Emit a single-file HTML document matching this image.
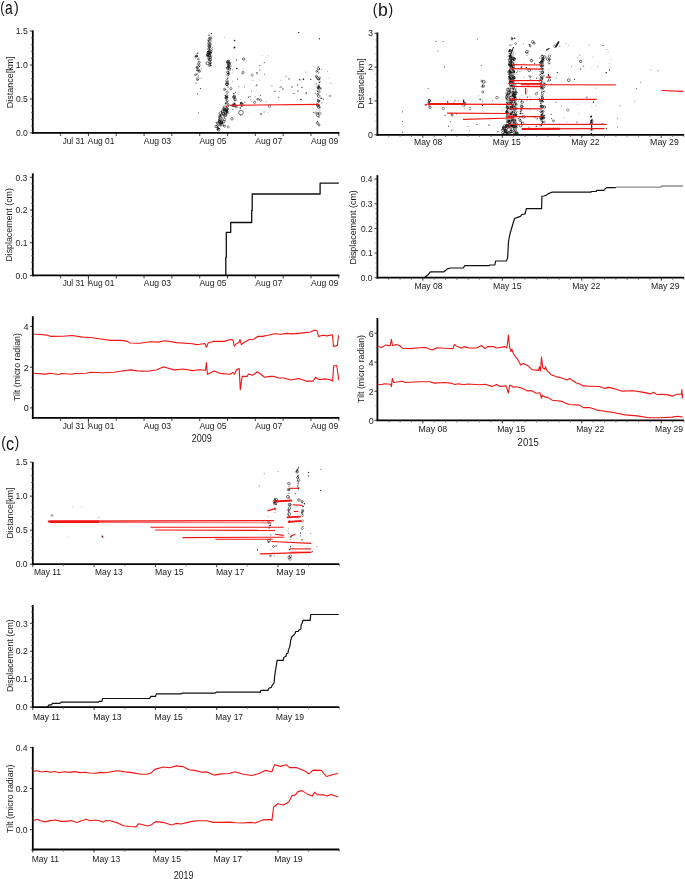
<!DOCTYPE html>
<html><head><meta charset="utf-8"><style>
html,body{margin:0;padding:0;background:#fff;}
svg{display:block;}
text{font-family:"Liberation Sans",sans-serif;}
</style></head><body>
<svg width="685" height="879" viewBox="0 0 685 879">
<rect width="685" height="879" fill="#fff"/>
<g style="opacity:0.999">
<text transform="translate(0.20,12.80) scale(0.7816,1)" font-size="16.416" fill="#111">(</text>
<text transform="translate(5.12,14.12) scale(0.7646,1)" font-size="18.066" fill="#111">a</text>
<text transform="translate(13.91,12.80) scale(0.8735,1)" font-size="16.416" fill="#111">)</text>
<line x1="32.80" y1="30.40" x2="32.80" y2="133.80" stroke="#000" stroke-width="1.8"/>
<line x1="31.90" y1="132.90" x2="339.40" y2="132.90" stroke="#000" stroke-width="1.8"/>
<line x1="29.90" y1="132.90" x2="32.80" y2="132.90" stroke="#222" stroke-width="0.9"/>
<line x1="29.90" y1="98.97" x2="32.80" y2="98.97" stroke="#222" stroke-width="0.9"/>
<line x1="29.90" y1="65.03" x2="32.80" y2="65.03" stroke="#222" stroke-width="0.9"/>
<line x1="29.90" y1="31.10" x2="32.80" y2="31.10" stroke="#222" stroke-width="0.9"/>
<line x1="30.90" y1="126.11" x2="32.80" y2="126.11" stroke="#555" stroke-width="0.7"/>
<line x1="30.90" y1="119.33" x2="32.80" y2="119.33" stroke="#555" stroke-width="0.7"/>
<line x1="30.90" y1="112.54" x2="32.80" y2="112.54" stroke="#555" stroke-width="0.7"/>
<line x1="30.90" y1="105.75" x2="32.80" y2="105.75" stroke="#555" stroke-width="0.7"/>
<line x1="30.90" y1="92.18" x2="32.80" y2="92.18" stroke="#555" stroke-width="0.7"/>
<line x1="30.90" y1="85.39" x2="32.80" y2="85.39" stroke="#555" stroke-width="0.7"/>
<line x1="30.90" y1="78.61" x2="32.80" y2="78.61" stroke="#555" stroke-width="0.7"/>
<line x1="30.90" y1="71.82" x2="32.80" y2="71.82" stroke="#555" stroke-width="0.7"/>
<line x1="30.90" y1="58.25" x2="32.80" y2="58.25" stroke="#555" stroke-width="0.7"/>
<line x1="30.90" y1="51.46" x2="32.80" y2="51.46" stroke="#555" stroke-width="0.7"/>
<line x1="30.90" y1="44.67" x2="32.80" y2="44.67" stroke="#555" stroke-width="0.7"/>
<line x1="30.90" y1="37.89" x2="32.80" y2="37.89" stroke="#555" stroke-width="0.7"/>
<line x1="60.62" y1="132.90" x2="60.62" y2="135.90" stroke="#222" stroke-width="0.9"/>
<line x1="88.44" y1="132.90" x2="88.44" y2="135.90" stroke="#222" stroke-width="0.9"/>
<line x1="116.25" y1="132.90" x2="116.25" y2="135.90" stroke="#222" stroke-width="0.9"/>
<line x1="144.07" y1="132.90" x2="144.07" y2="135.90" stroke="#222" stroke-width="0.9"/>
<line x1="171.89" y1="132.90" x2="171.89" y2="135.90" stroke="#222" stroke-width="0.9"/>
<line x1="199.71" y1="132.90" x2="199.71" y2="135.90" stroke="#222" stroke-width="0.9"/>
<line x1="227.53" y1="132.90" x2="227.53" y2="135.90" stroke="#222" stroke-width="0.9"/>
<line x1="255.35" y1="132.90" x2="255.35" y2="135.90" stroke="#222" stroke-width="0.9"/>
<line x1="283.16" y1="132.90" x2="283.16" y2="135.90" stroke="#222" stroke-width="0.9"/>
<line x1="310.98" y1="132.90" x2="310.98" y2="135.90" stroke="#222" stroke-width="0.9"/>
<line x1="338.80" y1="132.90" x2="338.80" y2="135.90" stroke="#222" stroke-width="0.9"/>
<text transform="translate(15.78,34.35) scale(0.9200,1)" font-size="9.448" fill="#1a1a1a">1.5</text>
<text transform="translate(15.76,68.28) scale(0.9200,1)" font-size="9.448" fill="#1a1a1a">1.0</text>
<text transform="translate(15.95,102.22) scale(0.9200,1)" font-size="9.312" fill="#1a1a1a">0.5</text>
<text transform="translate(15.93,136.15) scale(0.9200,1)" font-size="9.312" fill="#1a1a1a">0.0</text>
<text transform="translate(62.67,143.70) scale(0.8797,1)" font-size="9.302" fill="#1a1a1a">Jul 31</text>
<text transform="translate(87.78,143.70) scale(0.9033,1)" font-size="9.302" fill="#1a1a1a">Aug 01</text>
<text transform="translate(143.78,143.70) scale(0.9260,1)" font-size="9.302" fill="#1a1a1a">Aug 03</text>
<text transform="translate(199.38,143.70) scale(0.9185,1)" font-size="9.302" fill="#1a1a1a">Aug 05</text>
<text transform="translate(255.28,143.70) scale(0.9174,1)" font-size="9.302" fill="#1a1a1a">Aug 07</text>
<text transform="translate(311.08,143.70) scale(0.9200,1)" font-size="9.302" fill="#1a1a1a">Aug 09</text>
<text transform="translate(12.60,108.14) rotate(-90) scale(0.9501,1)" font-size="9.448" fill="#1a1a1a">Distance[km]</text>
<line x1="32.80" y1="173.30" x2="32.80" y2="276.30" stroke="#000" stroke-width="1.8"/>
<line x1="31.90" y1="275.40" x2="339.40" y2="275.40" stroke="#000" stroke-width="1.8"/>
<line x1="29.90" y1="275.40" x2="32.80" y2="275.40" stroke="#222" stroke-width="0.9"/>
<line x1="29.90" y1="242.70" x2="32.80" y2="242.70" stroke="#222" stroke-width="0.9"/>
<line x1="29.90" y1="210.00" x2="32.80" y2="210.00" stroke="#222" stroke-width="0.9"/>
<line x1="29.90" y1="177.30" x2="32.80" y2="177.30" stroke="#222" stroke-width="0.9"/>
<line x1="30.90" y1="268.86" x2="32.80" y2="268.86" stroke="#555" stroke-width="0.7"/>
<line x1="30.90" y1="262.32" x2="32.80" y2="262.32" stroke="#555" stroke-width="0.7"/>
<line x1="30.90" y1="255.78" x2="32.80" y2="255.78" stroke="#555" stroke-width="0.7"/>
<line x1="30.90" y1="249.24" x2="32.80" y2="249.24" stroke="#555" stroke-width="0.7"/>
<line x1="30.90" y1="236.16" x2="32.80" y2="236.16" stroke="#555" stroke-width="0.7"/>
<line x1="30.90" y1="229.62" x2="32.80" y2="229.62" stroke="#555" stroke-width="0.7"/>
<line x1="30.90" y1="223.08" x2="32.80" y2="223.08" stroke="#555" stroke-width="0.7"/>
<line x1="30.90" y1="216.54" x2="32.80" y2="216.54" stroke="#555" stroke-width="0.7"/>
<line x1="30.90" y1="203.46" x2="32.80" y2="203.46" stroke="#555" stroke-width="0.7"/>
<line x1="30.90" y1="196.92" x2="32.80" y2="196.92" stroke="#555" stroke-width="0.7"/>
<line x1="30.90" y1="190.38" x2="32.80" y2="190.38" stroke="#555" stroke-width="0.7"/>
<line x1="30.90" y1="183.84" x2="32.80" y2="183.84" stroke="#555" stroke-width="0.7"/>
<line x1="60.62" y1="275.40" x2="60.62" y2="278.40" stroke="#222" stroke-width="0.9"/>
<line x1="88.44" y1="275.40" x2="88.44" y2="278.40" stroke="#222" stroke-width="0.9"/>
<line x1="116.25" y1="275.40" x2="116.25" y2="278.40" stroke="#222" stroke-width="0.9"/>
<line x1="144.07" y1="275.40" x2="144.07" y2="278.40" stroke="#222" stroke-width="0.9"/>
<line x1="171.89" y1="275.40" x2="171.89" y2="278.40" stroke="#222" stroke-width="0.9"/>
<line x1="199.71" y1="275.40" x2="199.71" y2="278.40" stroke="#222" stroke-width="0.9"/>
<line x1="227.53" y1="275.40" x2="227.53" y2="278.40" stroke="#222" stroke-width="0.9"/>
<line x1="255.35" y1="275.40" x2="255.35" y2="278.40" stroke="#222" stroke-width="0.9"/>
<line x1="283.16" y1="275.40" x2="283.16" y2="278.40" stroke="#222" stroke-width="0.9"/>
<line x1="310.98" y1="275.40" x2="310.98" y2="278.40" stroke="#222" stroke-width="0.9"/>
<line x1="338.80" y1="275.40" x2="338.80" y2="278.40" stroke="#222" stroke-width="0.9"/>
<text transform="translate(15.47,180.55) scale(0.9200,1)" font-size="9.312" fill="#1a1a1a">0.3</text>
<text transform="translate(15.52,213.25) scale(0.9200,1)" font-size="9.312" fill="#1a1a1a">0.2</text>
<text transform="translate(15.51,245.95) scale(0.9200,1)" font-size="9.312" fill="#1a1a1a">0.1</text>
<text transform="translate(15.43,278.65) scale(0.9200,1)" font-size="9.312" fill="#1a1a1a">0.0</text>
<text transform="translate(62.67,286.40) scale(0.8530,1)" font-size="9.593" fill="#1a1a1a">Jul 31</text>
<text transform="translate(87.78,286.40) scale(0.8759,1)" font-size="9.593" fill="#1a1a1a">Aug 01</text>
<text transform="translate(143.78,286.40) scale(0.8979,1)" font-size="9.593" fill="#1a1a1a">Aug 03</text>
<text transform="translate(199.38,286.40) scale(0.8906,1)" font-size="9.593" fill="#1a1a1a">Aug 05</text>
<text transform="translate(255.28,286.40) scale(0.8896,1)" font-size="9.593" fill="#1a1a1a">Aug 07</text>
<text transform="translate(311.08,286.40) scale(0.8921,1)" font-size="9.593" fill="#1a1a1a">Aug 09</text>
<line x1="88.44" y1="275.40" x2="88.44" y2="283.80" stroke="#333" stroke-width="0.8"/>
<text transform="translate(12.40,261.62) rotate(-90) scale(0.9343,1)" font-size="9.448" fill="#1a1a1a">Displacement (cm)</text>
<polyline points="225.80,275.40 225.80,257.40 226.30,257.40 226.30,232.30 230.70,232.30 230.70,222.50 251.70,222.50 251.70,210.40 252.20,210.40 252.20,194.00 320.10,194.00 320.10,183.10 338.80,183.10" fill="none" stroke="#111" stroke-width="1.3" stroke-linejoin="round" />
<line x1="32.80" y1="316.20" x2="32.80" y2="418.80" stroke="#000" stroke-width="1.8"/>
<line x1="31.90" y1="417.90" x2="339.40" y2="417.90" stroke="#000" stroke-width="1.8"/>
<line x1="29.90" y1="407.90" x2="32.80" y2="407.90" stroke="#222" stroke-width="0.9"/>
<line x1="29.90" y1="367.15" x2="32.80" y2="367.15" stroke="#222" stroke-width="0.9"/>
<line x1="29.90" y1="326.40" x2="32.80" y2="326.40" stroke="#222" stroke-width="0.9"/>
<line x1="30.90" y1="387.52" x2="32.80" y2="387.52" stroke="#555" stroke-width="0.7"/>
<line x1="30.90" y1="346.77" x2="32.80" y2="346.77" stroke="#555" stroke-width="0.7"/>
<line x1="60.62" y1="417.90" x2="60.62" y2="420.90" stroke="#222" stroke-width="0.9"/>
<line x1="88.44" y1="417.90" x2="88.44" y2="420.90" stroke="#222" stroke-width="0.9"/>
<line x1="116.25" y1="417.90" x2="116.25" y2="420.90" stroke="#222" stroke-width="0.9"/>
<line x1="144.07" y1="417.90" x2="144.07" y2="420.90" stroke="#222" stroke-width="0.9"/>
<line x1="171.89" y1="417.90" x2="171.89" y2="420.90" stroke="#222" stroke-width="0.9"/>
<line x1="199.71" y1="417.90" x2="199.71" y2="420.90" stroke="#222" stroke-width="0.9"/>
<line x1="227.53" y1="417.90" x2="227.53" y2="420.90" stroke="#222" stroke-width="0.9"/>
<line x1="255.35" y1="417.90" x2="255.35" y2="420.90" stroke="#222" stroke-width="0.9"/>
<line x1="283.16" y1="417.90" x2="283.16" y2="420.90" stroke="#222" stroke-width="0.9"/>
<line x1="310.98" y1="417.90" x2="310.98" y2="420.90" stroke="#222" stroke-width="0.9"/>
<line x1="338.80" y1="417.90" x2="338.80" y2="420.90" stroke="#222" stroke-width="0.9"/>
<text transform="translate(23.61,329.80) scale(0.9200,1)" font-size="9.884" fill="#1a1a1a">4</text>
<text transform="translate(23.86,370.55) scale(0.9200,1)" font-size="9.742" fill="#1a1a1a">2</text>
<text transform="translate(23.77,411.30) scale(0.9200,1)" font-size="9.742" fill="#1a1a1a">0</text>
<text transform="translate(62.67,428.80) scale(0.8661,1)" font-size="9.448" fill="#1a1a1a">Jul 31</text>
<text transform="translate(87.78,428.80) scale(0.8894,1)" font-size="9.448" fill="#1a1a1a">Aug 01</text>
<text transform="translate(143.78,428.80) scale(0.9117,1)" font-size="9.448" fill="#1a1a1a">Aug 03</text>
<text transform="translate(199.38,428.80) scale(0.9043,1)" font-size="9.448" fill="#1a1a1a">Aug 05</text>
<text transform="translate(255.28,428.80) scale(0.9033,1)" font-size="9.448" fill="#1a1a1a">Aug 07</text>
<text transform="translate(311.08,428.80) scale(0.9058,1)" font-size="9.448" fill="#1a1a1a">Aug 09</text>
<line x1="88.44" y1="417.90" x2="88.44" y2="425.80" stroke="#333" stroke-width="0.8"/>
<text transform="translate(191.75,442.10) scale(0.8705,1)" font-size="10.315" fill="#1a1a1a">2009</text>
<text transform="translate(20.30,401.09) rotate(-90) scale(0.9147,1)" font-size="9.593" fill="#1a1a1a">Tilt (micro radian)</text>
<polyline points="33.00,334.20 37.90,334.20 47.10,335.10 51.00,336.40 62.90,336.20 72.00,335.50 82.60,337.10 90.40,337.50 101.00,339.00 110.20,340.40 121.60,340.40 127.50,341.40 130.10,343.00 140.00,343.30 150.50,341.70 158.40,342.10 165.00,340.80 176.80,342.60 192.50,343.70 196.50,344.60 200.00,344.30 204.90,343.50 206.40,347.20 208.20,343.00 213.10,341.40 224.10,341.40 230.70,339.50 232.90,339.70 234.30,346.10 236.70,343.50 238.90,342.50 240.00,339.50 241.40,344.60 243.80,342.50 249.30,339.50 253.70,339.20 258.00,336.20 262.40,336.40 267.90,335.30 274.40,333.70 281.00,334.20 286.40,333.40 293.00,333.90 302.90,332.90 310.50,332.00 314.90,330.10 316.90,330.70 318.70,336.60 322.60,335.30 327.00,335.90 332.40,334.80 333.50,346.50 337.40,345.40 338.50,335.30" fill="none" stroke="#f01414" stroke-width="1.1" stroke-linejoin="round" />
<polyline points="33.00,373.20 45.80,374.10 49.70,373.20 58.90,374.50 61.50,373.50 72.00,374.30 74.70,373.50 86.50,373.20 90.40,372.20 103.60,372.70 114.10,372.30 120.30,371.20 130.80,369.90 137.30,370.90 147.90,371.20 157.00,369.70 163.00,366.90 167.60,368.00 174.10,369.90 183.30,369.00 192.50,370.60 199.10,369.70 205.50,370.20 206.40,362.50 207.40,374.20 214.20,370.90 220.30,373.40 229.60,374.20 232.90,372.40 234.50,374.20 236.70,369.50 239.20,368.40 240.30,389.60 242.20,376.40 247.10,376.40 248.50,373.90 252.60,375.30 257.50,371.80 264.60,377.20 270.10,376.40 273.30,376.40 278.80,378.00 284.20,378.00 290.80,380.00 298.50,378.60 306.10,381.10 313.30,381.10 315.50,377.20 319.30,379.70 324.80,378.90 330.20,379.70 332.60,381.10 333.70,366.00 336.80,365.50 338.80,380.20" fill="none" stroke="#f01414" stroke-width="1.1" stroke-linejoin="round" />
<text transform="translate(372.83,15.25) scale(0.8133,1)" font-size="17.167" fill="#111">(</text>
<text transform="translate(378.06,16.41) scale(0.9509,1)" font-size="18.503" fill="#111">b</text>
<text transform="translate(388.52,15.25) scale(0.8133,1)" font-size="17.167" fill="#111">)</text>
<line x1="377.40" y1="32.50" x2="377.40" y2="135.70" stroke="#000" stroke-width="1.8"/>
<line x1="376.50" y1="134.80" x2="684.00" y2="134.80" stroke="#000" stroke-width="1.8"/>
<line x1="374.50" y1="134.80" x2="377.40" y2="134.80" stroke="#222" stroke-width="0.9"/>
<line x1="374.50" y1="100.97" x2="377.40" y2="100.97" stroke="#222" stroke-width="0.9"/>
<line x1="374.50" y1="67.13" x2="377.40" y2="67.13" stroke="#222" stroke-width="0.9"/>
<line x1="374.50" y1="33.30" x2="377.40" y2="33.30" stroke="#222" stroke-width="0.9"/>
<line x1="375.50" y1="128.03" x2="377.40" y2="128.03" stroke="#555" stroke-width="0.7"/>
<line x1="375.50" y1="121.27" x2="377.40" y2="121.27" stroke="#555" stroke-width="0.7"/>
<line x1="375.50" y1="114.50" x2="377.40" y2="114.50" stroke="#555" stroke-width="0.7"/>
<line x1="375.50" y1="107.73" x2="377.40" y2="107.73" stroke="#555" stroke-width="0.7"/>
<line x1="375.50" y1="94.20" x2="377.40" y2="94.20" stroke="#555" stroke-width="0.7"/>
<line x1="375.50" y1="87.43" x2="377.40" y2="87.43" stroke="#555" stroke-width="0.7"/>
<line x1="375.50" y1="80.67" x2="377.40" y2="80.67" stroke="#555" stroke-width="0.7"/>
<line x1="375.50" y1="73.90" x2="377.40" y2="73.90" stroke="#555" stroke-width="0.7"/>
<line x1="375.50" y1="60.37" x2="377.40" y2="60.37" stroke="#555" stroke-width="0.7"/>
<line x1="375.50" y1="53.60" x2="377.40" y2="53.60" stroke="#555" stroke-width="0.7"/>
<line x1="375.50" y1="46.83" x2="377.40" y2="46.83" stroke="#555" stroke-width="0.7"/>
<line x1="375.50" y1="40.07" x2="377.40" y2="40.07" stroke="#555" stroke-width="0.7"/>
<line x1="422.82" y1="134.80" x2="422.82" y2="137.80" stroke="#222" stroke-width="0.9"/>
<line x1="502.31" y1="134.80" x2="502.31" y2="137.80" stroke="#222" stroke-width="0.9"/>
<line x1="581.80" y1="134.80" x2="581.80" y2="137.80" stroke="#222" stroke-width="0.9"/>
<line x1="661.29" y1="134.80" x2="661.29" y2="137.80" stroke="#222" stroke-width="0.9"/>
<line x1="388.76" y1="134.80" x2="388.76" y2="137.00" stroke="#555" stroke-width="0.7"/>
<line x1="400.11" y1="134.80" x2="400.11" y2="137.00" stroke="#555" stroke-width="0.7"/>
<line x1="411.47" y1="134.80" x2="411.47" y2="137.00" stroke="#555" stroke-width="0.7"/>
<line x1="434.18" y1="134.80" x2="434.18" y2="137.00" stroke="#555" stroke-width="0.7"/>
<line x1="445.53" y1="134.80" x2="445.53" y2="137.00" stroke="#555" stroke-width="0.7"/>
<line x1="456.89" y1="134.80" x2="456.89" y2="137.00" stroke="#555" stroke-width="0.7"/>
<line x1="468.24" y1="134.80" x2="468.24" y2="137.00" stroke="#555" stroke-width="0.7"/>
<line x1="479.60" y1="134.80" x2="479.60" y2="137.00" stroke="#555" stroke-width="0.7"/>
<line x1="490.96" y1="134.80" x2="490.96" y2="137.00" stroke="#555" stroke-width="0.7"/>
<line x1="513.67" y1="134.80" x2="513.67" y2="137.00" stroke="#555" stroke-width="0.7"/>
<line x1="525.02" y1="134.80" x2="525.02" y2="137.00" stroke="#555" stroke-width="0.7"/>
<line x1="536.38" y1="134.80" x2="536.38" y2="137.00" stroke="#555" stroke-width="0.7"/>
<line x1="547.73" y1="134.80" x2="547.73" y2="137.00" stroke="#555" stroke-width="0.7"/>
<line x1="559.09" y1="134.80" x2="559.09" y2="137.00" stroke="#555" stroke-width="0.7"/>
<line x1="570.44" y1="134.80" x2="570.44" y2="137.00" stroke="#555" stroke-width="0.7"/>
<line x1="593.16" y1="134.80" x2="593.16" y2="137.00" stroke="#555" stroke-width="0.7"/>
<line x1="604.51" y1="134.80" x2="604.51" y2="137.00" stroke="#555" stroke-width="0.7"/>
<line x1="615.87" y1="134.80" x2="615.87" y2="137.00" stroke="#555" stroke-width="0.7"/>
<line x1="627.22" y1="134.80" x2="627.22" y2="137.00" stroke="#555" stroke-width="0.7"/>
<line x1="638.58" y1="134.80" x2="638.58" y2="137.00" stroke="#555" stroke-width="0.7"/>
<line x1="649.93" y1="134.80" x2="649.93" y2="137.00" stroke="#555" stroke-width="0.7"/>
<line x1="672.64" y1="134.80" x2="672.64" y2="137.00" stroke="#555" stroke-width="0.7"/>
<line x1="684.00" y1="134.80" x2="684.00" y2="137.00" stroke="#555" stroke-width="0.7"/>
<text transform="translate(368.01,36.40) scale(0.9200,1)" font-size="9.742" fill="#1a1a1a">3</text>
<text transform="translate(368.06,70.23) scale(0.9200,1)" font-size="9.742" fill="#1a1a1a">2</text>
<text transform="translate(367.99,104.07) scale(0.9200,1)" font-size="9.884" fill="#1a1a1a">1</text>
<text transform="translate(367.97,137.90) scale(0.9200,1)" font-size="9.742" fill="#1a1a1a">0</text>
<text transform="translate(413.99,145.40) scale(0.9418,1)" font-size="9.157" fill="#1a1a1a">May 08</text>
<text transform="translate(492.80,145.40) scale(0.9311,1)" font-size="9.157" fill="#1a1a1a">May 15</text>
<text transform="translate(571.29,145.40) scale(0.9439,1)" font-size="9.157" fill="#1a1a1a">May 22</text>
<text transform="translate(650.08,145.40) scale(0.9603,1)" font-size="9.157" fill="#1a1a1a">May 29</text>
<text transform="translate(364.10,108.82) rotate(-90) scale(0.8980,1)" font-size="9.738" fill="#1a1a1a">Distance[km]</text>
<line x1="377.40" y1="175.20" x2="377.40" y2="278.60" stroke="#000" stroke-width="1.8"/>
<line x1="376.50" y1="277.70" x2="684.00" y2="277.70" stroke="#000" stroke-width="1.8"/>
<line x1="374.50" y1="277.70" x2="377.40" y2="277.70" stroke="#222" stroke-width="0.9"/>
<line x1="374.50" y1="253.05" x2="377.40" y2="253.05" stroke="#222" stroke-width="0.9"/>
<line x1="374.50" y1="228.40" x2="377.40" y2="228.40" stroke="#222" stroke-width="0.9"/>
<line x1="374.50" y1="203.75" x2="377.40" y2="203.75" stroke="#222" stroke-width="0.9"/>
<line x1="374.50" y1="179.10" x2="377.40" y2="179.10" stroke="#222" stroke-width="0.9"/>
<line x1="375.50" y1="272.77" x2="377.40" y2="272.77" stroke="#555" stroke-width="0.7"/>
<line x1="375.50" y1="267.84" x2="377.40" y2="267.84" stroke="#555" stroke-width="0.7"/>
<line x1="375.50" y1="262.91" x2="377.40" y2="262.91" stroke="#555" stroke-width="0.7"/>
<line x1="375.50" y1="257.98" x2="377.40" y2="257.98" stroke="#555" stroke-width="0.7"/>
<line x1="375.50" y1="248.12" x2="377.40" y2="248.12" stroke="#555" stroke-width="0.7"/>
<line x1="375.50" y1="243.19" x2="377.40" y2="243.19" stroke="#555" stroke-width="0.7"/>
<line x1="375.50" y1="238.26" x2="377.40" y2="238.26" stroke="#555" stroke-width="0.7"/>
<line x1="375.50" y1="233.33" x2="377.40" y2="233.33" stroke="#555" stroke-width="0.7"/>
<line x1="375.50" y1="223.47" x2="377.40" y2="223.47" stroke="#555" stroke-width="0.7"/>
<line x1="375.50" y1="218.54" x2="377.40" y2="218.54" stroke="#555" stroke-width="0.7"/>
<line x1="375.50" y1="213.61" x2="377.40" y2="213.61" stroke="#555" stroke-width="0.7"/>
<line x1="375.50" y1="208.68" x2="377.40" y2="208.68" stroke="#555" stroke-width="0.7"/>
<line x1="375.50" y1="198.82" x2="377.40" y2="198.82" stroke="#555" stroke-width="0.7"/>
<line x1="375.50" y1="193.89" x2="377.40" y2="193.89" stroke="#555" stroke-width="0.7"/>
<line x1="375.50" y1="188.96" x2="377.40" y2="188.96" stroke="#555" stroke-width="0.7"/>
<line x1="375.50" y1="184.03" x2="377.40" y2="184.03" stroke="#555" stroke-width="0.7"/>
<line x1="422.82" y1="277.70" x2="422.82" y2="280.70" stroke="#222" stroke-width="0.9"/>
<line x1="502.31" y1="277.70" x2="502.31" y2="280.70" stroke="#222" stroke-width="0.9"/>
<line x1="581.80" y1="277.70" x2="581.80" y2="280.70" stroke="#222" stroke-width="0.9"/>
<line x1="661.29" y1="277.70" x2="661.29" y2="280.70" stroke="#222" stroke-width="0.9"/>
<line x1="388.76" y1="277.70" x2="388.76" y2="279.90" stroke="#555" stroke-width="0.7"/>
<line x1="400.11" y1="277.70" x2="400.11" y2="279.90" stroke="#555" stroke-width="0.7"/>
<line x1="411.47" y1="277.70" x2="411.47" y2="279.90" stroke="#555" stroke-width="0.7"/>
<line x1="434.18" y1="277.70" x2="434.18" y2="279.90" stroke="#555" stroke-width="0.7"/>
<line x1="445.53" y1="277.70" x2="445.53" y2="279.90" stroke="#555" stroke-width="0.7"/>
<line x1="456.89" y1="277.70" x2="456.89" y2="279.90" stroke="#555" stroke-width="0.7"/>
<line x1="468.24" y1="277.70" x2="468.24" y2="279.90" stroke="#555" stroke-width="0.7"/>
<line x1="479.60" y1="277.70" x2="479.60" y2="279.90" stroke="#555" stroke-width="0.7"/>
<line x1="490.96" y1="277.70" x2="490.96" y2="279.90" stroke="#555" stroke-width="0.7"/>
<line x1="513.67" y1="277.70" x2="513.67" y2="279.90" stroke="#555" stroke-width="0.7"/>
<line x1="525.02" y1="277.70" x2="525.02" y2="279.90" stroke="#555" stroke-width="0.7"/>
<line x1="536.38" y1="277.70" x2="536.38" y2="279.90" stroke="#555" stroke-width="0.7"/>
<line x1="547.73" y1="277.70" x2="547.73" y2="279.90" stroke="#555" stroke-width="0.7"/>
<line x1="559.09" y1="277.70" x2="559.09" y2="279.90" stroke="#555" stroke-width="0.7"/>
<line x1="570.44" y1="277.70" x2="570.44" y2="279.90" stroke="#555" stroke-width="0.7"/>
<line x1="593.16" y1="277.70" x2="593.16" y2="279.90" stroke="#555" stroke-width="0.7"/>
<line x1="604.51" y1="277.70" x2="604.51" y2="279.90" stroke="#555" stroke-width="0.7"/>
<line x1="615.87" y1="277.70" x2="615.87" y2="279.90" stroke="#555" stroke-width="0.7"/>
<line x1="627.22" y1="277.70" x2="627.22" y2="279.90" stroke="#555" stroke-width="0.7"/>
<line x1="638.58" y1="277.70" x2="638.58" y2="279.90" stroke="#555" stroke-width="0.7"/>
<line x1="649.93" y1="277.70" x2="649.93" y2="279.90" stroke="#555" stroke-width="0.7"/>
<line x1="672.64" y1="277.70" x2="672.64" y2="279.90" stroke="#555" stroke-width="0.7"/>
<line x1="684.00" y1="277.70" x2="684.00" y2="279.90" stroke="#555" stroke-width="0.7"/>
<text transform="translate(360.72,182.30) scale(0.9200,1)" font-size="9.169" fill="#1a1a1a">0.4</text>
<text transform="translate(360.85,206.95) scale(0.9200,1)" font-size="9.169" fill="#1a1a1a">0.3</text>
<text transform="translate(360.90,231.60) scale(0.9200,1)" font-size="9.169" fill="#1a1a1a">0.2</text>
<text transform="translate(360.89,256.25) scale(0.9200,1)" font-size="9.169" fill="#1a1a1a">0.1</text>
<text transform="translate(360.80,280.90) scale(0.9200,1)" font-size="9.169" fill="#1a1a1a">0.0</text>
<text transform="translate(414.39,289.40) scale(0.9128,1)" font-size="9.448" fill="#1a1a1a">May 08</text>
<text transform="translate(492.99,289.40) scale(0.9226,1)" font-size="9.448" fill="#1a1a1a">May 15</text>
<text transform="translate(572.19,289.40) scale(0.9115,1)" font-size="9.448" fill="#1a1a1a">May 22</text>
<text transform="translate(650.98,289.40) scale(0.9241,1)" font-size="9.448" fill="#1a1a1a">May 29</text>
<text transform="translate(356.30,264.53) rotate(-90) scale(0.9594,1)" font-size="9.302" fill="#1a1a1a">Displacement (cm)</text>
<polyline points="424.30,277.80 428.20,274.50 430.40,271.80 444.00,271.80 447.40,268.90 450.80,268.00 463.20,268.00 464.80,265.70 489.30,265.70 490.00,265.00 494.90,265.00 495.60,261.00 506.20,261.00 507.60,258.20 508.50,241.50 509.90,234.20 512.40,225.50 514.60,218.50 517.50,217.40 520.40,216.40 521.90,214.50 524.10,214.10 525.10,213.80 526.30,208.70 541.60,208.70 541.90,196.30 543.80,196.00 546.70,195.10 548.20,193.60 550.40,192.90 551.80,192.20 591.20,192.20 591.40,191.50 596.20,191.50 596.70,190.40 603.90,190.40 605.30,188.70 606.60,187.60 615.70,187.60 615.90,187.10" fill="none" stroke="#111" stroke-width="1.2" stroke-linejoin="round" />
<polyline points="615.90,187.10 661.40,187.10 661.70,186.00 682.90,186.00" fill="none" stroke="#8c8c8c" stroke-width="1.3" stroke-linejoin="round" />
<line x1="377.40" y1="318.00" x2="377.40" y2="421.20" stroke="#000" stroke-width="1.8"/>
<line x1="376.50" y1="420.30" x2="684.00" y2="420.30" stroke="#000" stroke-width="1.8"/>
<line x1="374.50" y1="420.30" x2="377.40" y2="420.30" stroke="#222" stroke-width="0.9"/>
<line x1="374.50" y1="391.27" x2="377.40" y2="391.27" stroke="#222" stroke-width="0.9"/>
<line x1="374.50" y1="362.23" x2="377.40" y2="362.23" stroke="#222" stroke-width="0.9"/>
<line x1="374.50" y1="333.20" x2="377.40" y2="333.20" stroke="#222" stroke-width="0.9"/>
<line x1="375.50" y1="405.78" x2="377.40" y2="405.78" stroke="#555" stroke-width="0.7"/>
<line x1="375.50" y1="376.75" x2="377.40" y2="376.75" stroke="#555" stroke-width="0.7"/>
<line x1="375.50" y1="347.72" x2="377.40" y2="347.72" stroke="#555" stroke-width="0.7"/>
<line x1="422.82" y1="420.30" x2="422.82" y2="423.30" stroke="#222" stroke-width="0.9"/>
<line x1="502.31" y1="420.30" x2="502.31" y2="423.30" stroke="#222" stroke-width="0.9"/>
<line x1="581.80" y1="420.30" x2="581.80" y2="423.30" stroke="#222" stroke-width="0.9"/>
<line x1="661.29" y1="420.30" x2="661.29" y2="423.30" stroke="#222" stroke-width="0.9"/>
<line x1="388.76" y1="420.30" x2="388.76" y2="422.50" stroke="#555" stroke-width="0.7"/>
<line x1="400.11" y1="420.30" x2="400.11" y2="422.50" stroke="#555" stroke-width="0.7"/>
<line x1="411.47" y1="420.30" x2="411.47" y2="422.50" stroke="#555" stroke-width="0.7"/>
<line x1="434.18" y1="420.30" x2="434.18" y2="422.50" stroke="#555" stroke-width="0.7"/>
<line x1="445.53" y1="420.30" x2="445.53" y2="422.50" stroke="#555" stroke-width="0.7"/>
<line x1="456.89" y1="420.30" x2="456.89" y2="422.50" stroke="#555" stroke-width="0.7"/>
<line x1="468.24" y1="420.30" x2="468.24" y2="422.50" stroke="#555" stroke-width="0.7"/>
<line x1="479.60" y1="420.30" x2="479.60" y2="422.50" stroke="#555" stroke-width="0.7"/>
<line x1="490.96" y1="420.30" x2="490.96" y2="422.50" stroke="#555" stroke-width="0.7"/>
<line x1="513.67" y1="420.30" x2="513.67" y2="422.50" stroke="#555" stroke-width="0.7"/>
<line x1="525.02" y1="420.30" x2="525.02" y2="422.50" stroke="#555" stroke-width="0.7"/>
<line x1="536.38" y1="420.30" x2="536.38" y2="422.50" stroke="#555" stroke-width="0.7"/>
<line x1="547.73" y1="420.30" x2="547.73" y2="422.50" stroke="#555" stroke-width="0.7"/>
<line x1="559.09" y1="420.30" x2="559.09" y2="422.50" stroke="#555" stroke-width="0.7"/>
<line x1="570.44" y1="420.30" x2="570.44" y2="422.50" stroke="#555" stroke-width="0.7"/>
<line x1="593.16" y1="420.30" x2="593.16" y2="422.50" stroke="#555" stroke-width="0.7"/>
<line x1="604.51" y1="420.30" x2="604.51" y2="422.50" stroke="#555" stroke-width="0.7"/>
<line x1="615.87" y1="420.30" x2="615.87" y2="422.50" stroke="#555" stroke-width="0.7"/>
<line x1="627.22" y1="420.30" x2="627.22" y2="422.50" stroke="#555" stroke-width="0.7"/>
<line x1="638.58" y1="420.30" x2="638.58" y2="422.50" stroke="#555" stroke-width="0.7"/>
<line x1="649.93" y1="420.30" x2="649.93" y2="422.50" stroke="#555" stroke-width="0.7"/>
<line x1="672.64" y1="420.30" x2="672.64" y2="422.50" stroke="#555" stroke-width="0.7"/>
<line x1="684.00" y1="420.30" x2="684.00" y2="422.50" stroke="#555" stroke-width="0.7"/>
<text transform="translate(368.81,336.60) scale(0.9200,1)" font-size="9.742" fill="#1a1a1a">6</text>
<text transform="translate(368.61,365.63) scale(0.9200,1)" font-size="9.884" fill="#1a1a1a">4</text>
<text transform="translate(368.86,394.67) scale(0.9200,1)" font-size="9.742" fill="#1a1a1a">2</text>
<text transform="translate(368.77,423.70) scale(0.9200,1)" font-size="9.742" fill="#1a1a1a">0</text>
<text transform="translate(418.58,432.40) scale(0.9556,1)" font-size="9.157" fill="#1a1a1a">May 08</text>
<text transform="translate(497.20,432.40) scale(0.9380,1)" font-size="9.157" fill="#1a1a1a">May 15</text>
<text transform="translate(576.20,432.40) scale(0.9369,1)" font-size="9.157" fill="#1a1a1a">May 22</text>
<text transform="translate(655.00,432.40) scale(0.9361,1)" font-size="9.157" fill="#1a1a1a">May 29</text>
<text transform="translate(517.62,445.60) scale(0.8981,1)" font-size="10.602" fill="#1a1a1a">2015</text>
<text transform="translate(363.80,402.89) rotate(-90) scale(0.9583,1)" font-size="9.157" fill="#1a1a1a">Tilt (micro radian)</text>
<polyline points="377.50,346.30 381.40,347.50 385.50,345.10 390.20,345.70 391.40,339.30 392.50,345.70 396.00,344.50 399.50,345.50 402.50,348.30 410.00,348.60 419.40,347.70 425.20,347.50 432.20,350.10 436.90,347.70 445.10,348.30 452.90,348.60 454.40,344.50 455.80,345.70 461.70,348.30 464.00,346.60 468.70,348.00 476.90,348.00 481.50,345.50 485.00,348.60 487.40,346.60 493.20,346.60 496.70,348.00 504.90,346.60 506.90,348.00 508.40,335.00 509.80,348.00 511.00,351.50 511.90,349.20 513.10,352.70 514.30,355.00 517.80,359.70 520.70,365.00 523.00,363.50 527.50,365.40 532.40,369.80 538.60,370.40 539.30,366.70 540.50,371.00 541.50,357.10 542.70,367.90 544.90,369.20 545.50,366.70 546.70,370.40 551.10,374.70 556.00,376.60 561.00,377.80 567.20,380.00 569.70,378.50 575.90,382.80 579.60,384.00 583.30,385.90 589.50,386.20 599.40,386.50 605.00,388.40 608.70,387.40 613.60,388.40 621.70,391.10 633.50,390.80 642.20,392.10 650.90,393.90 653.30,392.30 657.10,394.60 660.80,394.20 667.00,394.60 672.60,396.10 676.90,394.20 681.50,394.20 681.90,389.50 682.30,398.00 682.80,394.20" fill="none" stroke="#f01414" stroke-width="1.1" stroke-linejoin="round" />
<polyline points="377.50,384.30 381.40,384.80 384.30,383.70 390.80,384.30 391.40,386.60 392.30,378.40 393.70,382.50 401.90,381.30 405.40,382.50 419.40,381.70 429.90,381.70 434.60,383.10 445.10,382.50 450.90,383.10 454.70,384.50 458.20,383.70 464.00,384.80 467.50,384.00 479.20,384.80 485.00,384.30 492.10,386.40 496.70,384.50 500.20,386.40 506.10,385.70 508.40,393.00 509.60,385.40 511.90,386.00 513.10,387.20 515.40,386.80 520.10,387.50 524.80,389.50 527.50,390.90 531.20,390.60 536.20,393.30 539.90,392.70 541.50,398.30 542.10,395.20 544.90,397.10 547.30,397.10 552.30,400.20 557.30,400.80 562.20,401.40 567.20,403.90 569.70,404.50 579.60,405.10 583.30,407.60 589.50,407.60 597.00,410.10 603.20,411.00 607.40,411.60 612.40,412.20 624.80,414.90 637.20,415.90 648.40,417.80 660.80,417.80 672.00,417.10 678.20,416.20 682.50,417.10" fill="none" stroke="#f01414" stroke-width="1.1" stroke-linejoin="round" />
<text transform="translate(1.23,448.45) scale(0.8133,1)" font-size="17.167" fill="#111">(</text>
<text transform="translate(6.12,449.52) scale(0.9250,1)" font-size="17.518" fill="#111">c</text>
<text transform="translate(14.82,448.45) scale(0.7693,1)" font-size="17.167" fill="#111">)</text>
<line x1="32.80" y1="462.10" x2="32.80" y2="565.10" stroke="#000" stroke-width="1.8"/>
<line x1="31.90" y1="564.20" x2="339.30" y2="564.20" stroke="#000" stroke-width="1.8"/>
<line x1="29.90" y1="564.20" x2="32.80" y2="564.20" stroke="#222" stroke-width="0.9"/>
<line x1="29.90" y1="530.17" x2="32.80" y2="530.17" stroke="#222" stroke-width="0.9"/>
<line x1="29.90" y1="496.13" x2="32.80" y2="496.13" stroke="#222" stroke-width="0.9"/>
<line x1="29.90" y1="462.10" x2="32.80" y2="462.10" stroke="#222" stroke-width="0.9"/>
<line x1="30.90" y1="557.39" x2="32.80" y2="557.39" stroke="#555" stroke-width="0.7"/>
<line x1="30.90" y1="550.59" x2="32.80" y2="550.59" stroke="#555" stroke-width="0.7"/>
<line x1="30.90" y1="543.78" x2="32.80" y2="543.78" stroke="#555" stroke-width="0.7"/>
<line x1="30.90" y1="536.97" x2="32.80" y2="536.97" stroke="#555" stroke-width="0.7"/>
<line x1="30.90" y1="523.36" x2="32.80" y2="523.36" stroke="#555" stroke-width="0.7"/>
<line x1="30.90" y1="516.55" x2="32.80" y2="516.55" stroke="#555" stroke-width="0.7"/>
<line x1="30.90" y1="509.75" x2="32.80" y2="509.75" stroke="#555" stroke-width="0.7"/>
<line x1="30.90" y1="502.94" x2="32.80" y2="502.94" stroke="#555" stroke-width="0.7"/>
<line x1="30.90" y1="489.33" x2="32.80" y2="489.33" stroke="#555" stroke-width="0.7"/>
<line x1="30.90" y1="482.52" x2="32.80" y2="482.52" stroke="#555" stroke-width="0.7"/>
<line x1="30.90" y1="475.71" x2="32.80" y2="475.71" stroke="#555" stroke-width="0.7"/>
<line x1="30.90" y1="468.91" x2="32.80" y2="468.91" stroke="#555" stroke-width="0.7"/>
<line x1="32.80" y1="564.20" x2="32.80" y2="567.20" stroke="#222" stroke-width="0.9"/>
<line x1="94.10" y1="564.20" x2="94.10" y2="567.20" stroke="#222" stroke-width="0.9"/>
<line x1="155.40" y1="564.20" x2="155.40" y2="567.20" stroke="#222" stroke-width="0.9"/>
<line x1="216.70" y1="564.20" x2="216.70" y2="567.20" stroke="#222" stroke-width="0.9"/>
<line x1="278.00" y1="564.20" x2="278.00" y2="567.20" stroke="#222" stroke-width="0.9"/>
<line x1="63.45" y1="564.20" x2="63.45" y2="566.40" stroke="#555" stroke-width="0.7"/>
<line x1="124.75" y1="564.20" x2="124.75" y2="566.40" stroke="#555" stroke-width="0.7"/>
<line x1="186.05" y1="564.20" x2="186.05" y2="566.40" stroke="#555" stroke-width="0.7"/>
<line x1="247.35" y1="564.20" x2="247.35" y2="566.40" stroke="#555" stroke-width="0.7"/>
<line x1="308.65" y1="564.20" x2="308.65" y2="566.40" stroke="#555" stroke-width="0.7"/>
<line x1="339.30" y1="564.20" x2="339.30" y2="566.40" stroke="#555" stroke-width="0.7"/>
<text transform="translate(15.58,465.35) scale(0.9200,1)" font-size="9.448" fill="#1a1a1a">1.5</text>
<text transform="translate(15.56,499.38) scale(0.9200,1)" font-size="9.448" fill="#1a1a1a">1.0</text>
<text transform="translate(15.75,533.42) scale(0.9200,1)" font-size="9.312" fill="#1a1a1a">0.5</text>
<text transform="translate(15.73,567.45) scale(0.9200,1)" font-size="9.312" fill="#1a1a1a">0.0</text>
<text transform="translate(34.01,574.70) scale(0.9237,1)" font-size="9.157" fill="#1a1a1a">May 11</text>
<text transform="translate(95.01,574.70) scale(0.9213,1)" font-size="9.157" fill="#1a1a1a">May 13</text>
<text transform="translate(155.08,574.70) scale(0.9553,1)" font-size="9.157" fill="#1a1a1a">May 15</text>
<text transform="translate(215.89,574.70) scale(0.9474,1)" font-size="9.157" fill="#1a1a1a">May 17</text>
<text transform="translate(276.37,574.70) scale(0.9707,1)" font-size="9.157" fill="#1a1a1a">May 19</text>
<text transform="translate(12.70,538.52) rotate(-90) scale(0.9209,1)" font-size="9.593" fill="#1a1a1a">Distance[km]</text>
<line x1="32.80" y1="605.00" x2="32.80" y2="708.00" stroke="#000" stroke-width="1.8"/>
<line x1="31.90" y1="707.10" x2="339.30" y2="707.10" stroke="#000" stroke-width="1.8"/>
<line x1="29.90" y1="707.10" x2="32.80" y2="707.10" stroke="#222" stroke-width="0.9"/>
<line x1="29.90" y1="679.17" x2="32.80" y2="679.17" stroke="#222" stroke-width="0.9"/>
<line x1="29.90" y1="651.23" x2="32.80" y2="651.23" stroke="#222" stroke-width="0.9"/>
<line x1="29.90" y1="623.30" x2="32.80" y2="623.30" stroke="#222" stroke-width="0.9"/>
<line x1="30.90" y1="701.51" x2="32.80" y2="701.51" stroke="#555" stroke-width="0.7"/>
<line x1="30.90" y1="695.93" x2="32.80" y2="695.93" stroke="#555" stroke-width="0.7"/>
<line x1="30.90" y1="690.34" x2="32.80" y2="690.34" stroke="#555" stroke-width="0.7"/>
<line x1="30.90" y1="684.75" x2="32.80" y2="684.75" stroke="#555" stroke-width="0.7"/>
<line x1="30.90" y1="673.58" x2="32.80" y2="673.58" stroke="#555" stroke-width="0.7"/>
<line x1="30.90" y1="667.99" x2="32.80" y2="667.99" stroke="#555" stroke-width="0.7"/>
<line x1="30.90" y1="662.41" x2="32.80" y2="662.41" stroke="#555" stroke-width="0.7"/>
<line x1="30.90" y1="656.82" x2="32.80" y2="656.82" stroke="#555" stroke-width="0.7"/>
<line x1="30.90" y1="645.65" x2="32.80" y2="645.65" stroke="#555" stroke-width="0.7"/>
<line x1="30.90" y1="640.06" x2="32.80" y2="640.06" stroke="#555" stroke-width="0.7"/>
<line x1="30.90" y1="634.47" x2="32.80" y2="634.47" stroke="#555" stroke-width="0.7"/>
<line x1="30.90" y1="628.89" x2="32.80" y2="628.89" stroke="#555" stroke-width="0.7"/>
<line x1="30.90" y1="617.71" x2="32.80" y2="617.71" stroke="#555" stroke-width="0.7"/>
<line x1="30.90" y1="612.13" x2="32.80" y2="612.13" stroke="#555" stroke-width="0.7"/>
<line x1="30.90" y1="606.54" x2="32.80" y2="606.54" stroke="#555" stroke-width="0.7"/>
<line x1="32.80" y1="707.10" x2="32.80" y2="710.10" stroke="#222" stroke-width="0.9"/>
<line x1="94.10" y1="707.10" x2="94.10" y2="710.10" stroke="#222" stroke-width="0.9"/>
<line x1="155.40" y1="707.10" x2="155.40" y2="710.10" stroke="#222" stroke-width="0.9"/>
<line x1="216.70" y1="707.10" x2="216.70" y2="710.10" stroke="#222" stroke-width="0.9"/>
<line x1="278.00" y1="707.10" x2="278.00" y2="710.10" stroke="#222" stroke-width="0.9"/>
<line x1="63.45" y1="707.10" x2="63.45" y2="709.30" stroke="#555" stroke-width="0.7"/>
<line x1="124.75" y1="707.10" x2="124.75" y2="709.30" stroke="#555" stroke-width="0.7"/>
<line x1="186.05" y1="707.10" x2="186.05" y2="709.30" stroke="#555" stroke-width="0.7"/>
<line x1="247.35" y1="707.10" x2="247.35" y2="709.30" stroke="#555" stroke-width="0.7"/>
<line x1="308.65" y1="707.10" x2="308.65" y2="709.30" stroke="#555" stroke-width="0.7"/>
<line x1="339.30" y1="707.10" x2="339.30" y2="709.30" stroke="#555" stroke-width="0.7"/>
<text transform="translate(15.77,626.55) scale(0.9200,1)" font-size="9.312" fill="#1a1a1a">0.3</text>
<text transform="translate(15.82,654.48) scale(0.9200,1)" font-size="9.312" fill="#1a1a1a">0.2</text>
<text transform="translate(15.81,682.42) scale(0.9200,1)" font-size="9.312" fill="#1a1a1a">0.1</text>
<text transform="translate(15.73,710.35) scale(0.9200,1)" font-size="9.312" fill="#1a1a1a">0.0</text>
<text transform="translate(32.91,720.10) scale(0.9237,1)" font-size="9.157" fill="#1a1a1a">May 11</text>
<text transform="translate(93.19,720.10) scale(0.9456,1)" font-size="9.157" fill="#1a1a1a">May 13</text>
<text transform="translate(154.60,720.10) scale(0.9346,1)" font-size="9.157" fill="#1a1a1a">May 15</text>
<text transform="translate(215.30,720.10) scale(0.9265,1)" font-size="9.157" fill="#1a1a1a">May 17</text>
<text transform="translate(275.79,720.10) scale(0.9465,1)" font-size="9.157" fill="#1a1a1a">May 19</text>
<text transform="translate(12.80,692.12) rotate(-90) scale(0.8976,1)" font-size="9.738" fill="#1a1a1a">Displacement (cm)</text>
<polyline points="47.60,707.20 48.40,705.50 49.30,704.80 51.70,704.80 52.30,703.40 59.90,703.40 61.00,702.20 98.40,702.20 99.00,701.40 101.90,701.40 102.50,698.50 149.70,698.50 150.90,696.40 155.60,696.40 156.30,693.80 181.30,693.80 182.40,693.10 215.10,693.10 216.30,692.20 259.50,692.20 260.30,692.40 260.90,690.40 268.10,690.40 268.80,688.30 271.40,687.40 272.10,685.40 274.10,682.80 274.70,676.20 275.40,671.00 276.30,665.70 277.10,660.40 283.30,660.40 283.90,657.20 285.90,656.50 286.50,653.90 287.90,653.20 288.50,649.90 289.80,646.60 290.70,640.70 291.80,636.80 293.80,635.20 295.10,633.50 295.70,631.50 298.40,631.30 299.00,630.00 300.70,629.20 301.30,624.30 302.30,623.00 303.00,620.40 310.20,620.40 310.80,614.50 338.80,614.50" fill="none" stroke="#111" stroke-width="1.2" stroke-linejoin="round" />
<line x1="32.80" y1="746.80" x2="32.80" y2="850.40" stroke="#000" stroke-width="1.8"/>
<line x1="31.90" y1="849.50" x2="339.30" y2="849.50" stroke="#000" stroke-width="1.8"/>
<line x1="29.90" y1="829.60" x2="32.80" y2="829.60" stroke="#222" stroke-width="0.9"/>
<line x1="29.90" y1="788.60" x2="32.80" y2="788.60" stroke="#222" stroke-width="0.9"/>
<line x1="29.90" y1="747.60" x2="32.80" y2="747.60" stroke="#222" stroke-width="0.9"/>
<line x1="30.90" y1="850.10" x2="32.80" y2="850.10" stroke="#555" stroke-width="0.7"/>
<line x1="30.90" y1="809.10" x2="32.80" y2="809.10" stroke="#555" stroke-width="0.7"/>
<line x1="30.90" y1="768.10" x2="32.80" y2="768.10" stroke="#555" stroke-width="0.7"/>
<line x1="32.80" y1="849.50" x2="32.80" y2="852.50" stroke="#222" stroke-width="0.9"/>
<line x1="94.10" y1="849.50" x2="94.10" y2="852.50" stroke="#222" stroke-width="0.9"/>
<line x1="155.40" y1="849.50" x2="155.40" y2="852.50" stroke="#222" stroke-width="0.9"/>
<line x1="216.70" y1="849.50" x2="216.70" y2="852.50" stroke="#222" stroke-width="0.9"/>
<line x1="278.00" y1="849.50" x2="278.00" y2="852.50" stroke="#222" stroke-width="0.9"/>
<line x1="63.45" y1="849.50" x2="63.45" y2="851.70" stroke="#555" stroke-width="0.7"/>
<line x1="124.75" y1="849.50" x2="124.75" y2="851.70" stroke="#555" stroke-width="0.7"/>
<line x1="186.05" y1="849.50" x2="186.05" y2="851.70" stroke="#555" stroke-width="0.7"/>
<line x1="247.35" y1="849.50" x2="247.35" y2="851.70" stroke="#555" stroke-width="0.7"/>
<line x1="308.65" y1="849.50" x2="308.65" y2="851.70" stroke="#555" stroke-width="0.7"/>
<line x1="339.30" y1="849.50" x2="339.30" y2="851.70" stroke="#555" stroke-width="0.7"/>
<text transform="translate(15.64,750.85) scale(0.9200,1)" font-size="9.312" fill="#1a1a1a">0.4</text>
<text transform="translate(15.82,791.85) scale(0.9200,1)" font-size="9.312" fill="#1a1a1a">0.2</text>
<text transform="translate(15.73,832.85) scale(0.9200,1)" font-size="9.312" fill="#1a1a1a">0.0</text>
<text transform="translate(31.70,861.70) scale(0.9343,1)" font-size="9.157" fill="#1a1a1a">May 11</text>
<text transform="translate(92.30,861.70) scale(0.9352,1)" font-size="9.157" fill="#1a1a1a">May 13</text>
<text transform="translate(152.80,861.70) scale(0.9380,1)" font-size="9.157" fill="#1a1a1a">May 15</text>
<text transform="translate(213.59,861.70) scale(0.9474,1)" font-size="9.157" fill="#1a1a1a">May 17</text>
<text transform="translate(274.29,861.70) scale(0.9465,1)" font-size="9.157" fill="#1a1a1a">May 19</text>
<text transform="translate(173.65,878.50) scale(0.8541,1)" font-size="10.458" fill="#1a1a1a">2019</text>
<text transform="translate(12.70,832.89) rotate(-90) scale(0.9215,1)" font-size="9.593" fill="#1a1a1a">Tilt (micro radian)</text>
<polyline points="33.00,771.40 37.00,770.80 42.00,772.00 46.00,771.20 50.00,772.20 55.00,771.50 59.20,772.80 64.00,771.80 70.00,772.40 75.00,771.60 80.00,772.60 85.00,772.20 90.00,773.00 95.70,773.20 100.00,772.40 105.00,772.80 110.00,772.00 117.60,770.80 125.00,771.90 132.00,772.60 141.00,774.30 147.50,774.30 151.50,772.70 154.70,769.40 163.50,767.00 169.90,767.80 176.40,765.90 182.80,766.60 189.20,769.80 195.60,770.60 202.00,772.20 206.90,771.90 214.10,775.10 221.30,773.90 229.30,773.50 235.00,771.80 243.40,774.30 251.80,775.50 258.50,773.80 265.20,770.40 271.90,771.80 274.50,764.70 280.30,766.40 286.20,764.70 289.60,767.60 296.30,767.60 303.80,770.40 308.90,773.80 313.10,770.10 321.40,770.40 326.50,776.50 332.30,774.80 338.20,773.50" fill="none" stroke="#f01414" stroke-width="1.1" stroke-linejoin="round" />
<polyline points="33.00,820.70 37.30,819.20 40.00,820.50 44.60,821.90 50.00,820.60 55.50,820.00 61.00,821.40 66.50,821.40 71.00,820.60 76.70,822.40 81.00,821.00 86.20,819.20 90.00,820.80 95.70,820.00 100.00,821.00 103.00,822.20 106.00,820.60 110.30,820.70 114.00,821.80 117.60,822.90 123.40,825.80 130.00,826.50 136.20,826.90 138.60,823.70 143.00,824.80 147.50,826.00 151.50,824.80 155.50,821.60 163.50,822.40 171.50,825.10 176.00,823.40 181.20,824.00 190.80,821.60 197.20,820.80 206.90,820.80 213.30,822.40 221.30,822.40 230.00,822.10 236.00,822.80 243.40,823.00 250.00,822.40 255.20,823.00 262.70,819.90 270.30,819.60 271.90,820.40 273.60,807.00 277.80,803.70 283.70,805.00 288.70,802.00 292.10,795.60 295.40,794.90 298.00,791.60 302.10,790.60 307.20,793.90 312.20,796.10 314.70,792.20 317.20,794.80 324.00,794.90 327.30,796.10 330.70,794.40 338.20,797.00" fill="none" stroke="#f01414" stroke-width="1.1" stroke-linejoin="round" />
<circle cx="211.4" cy="49.7" r="1.02" fill="none" stroke="#111" stroke-width="0.7" stroke-opacity="0.63"/>
<circle cx="209.8" cy="54.1" r="1.14" fill="none" stroke="#111" stroke-width="0.7" stroke-opacity="0.62"/>
<circle cx="207.9" cy="54.5" r="1.39" fill="none" stroke="#111" stroke-width="0.7" stroke-opacity="0.71"/>
<circle cx="210.5" cy="52.7" r="1.0" fill="none" stroke="#111" stroke-width="0.7" stroke-opacity="0.56"/>
<circle cx="212.3" cy="47.2" r="0.45" fill="#000" fill-opacity="0.46"/>
<circle cx="209.7" cy="59.8" r="1.33" fill="none" stroke="#111" stroke-width="0.7" stroke-opacity="0.78"/>
<circle cx="209.6" cy="59.2" r="0.74" fill="#000" fill-opacity="0.27"/>
<circle cx="209.9" cy="63.3" r="0.52" fill="#000" fill-opacity="0.76"/>
<circle cx="210.1" cy="64.9" r="0.74" fill="#000" fill-opacity="0.61"/>
<circle cx="210.0" cy="53.5" r="1.23" fill="none" stroke="#111" stroke-width="0.7" stroke-opacity="0.58"/>
<circle cx="211.1" cy="65.4" r="0.58" fill="#000" fill-opacity="0.88"/>
<circle cx="210.9" cy="51.7" r="1.17" fill="none" stroke="#111" stroke-width="0.7" stroke-opacity="0.72"/>
<circle cx="210.0" cy="65.5" r="0.64" fill="#000" fill-opacity="0.58"/>
<circle cx="209.6" cy="65.4" r="1.12" fill="none" stroke="#111" stroke-width="0.7" stroke-opacity="0.76"/>
<circle cx="210.7" cy="38.1" r="1.16" fill="none" stroke="#111" stroke-width="0.7" stroke-opacity="0.87"/>
<circle cx="208.4" cy="40.7" r="0.78" fill="#000" fill-opacity="0.62"/>
<circle cx="210.4" cy="62.7" r="0.91" fill="none" stroke="#111" stroke-width="0.7" stroke-opacity="0.82"/>
<circle cx="209.5" cy="53.0" r="0.56" fill="#000" fill-opacity="0.73"/>
<circle cx="209.0" cy="43.2" r="1.34" fill="none" stroke="#111" stroke-width="0.7" stroke-opacity="0.68"/>
<circle cx="207.9" cy="46.0" r="0.73" fill="#000" fill-opacity="0.71"/>
<circle cx="208.1" cy="48.1" r="0.47" fill="#000" fill-opacity="0.85"/>
<circle cx="209.5" cy="38.2" r="1.07" fill="none" stroke="#111" stroke-width="0.7" stroke-opacity="0.66"/>
<circle cx="208.7" cy="58.7" r="1.01" fill="none" stroke="#111" stroke-width="0.7" stroke-opacity="0.92"/>
<circle cx="207.8" cy="56.1" r="1.16" fill="none" stroke="#111" stroke-width="0.7" stroke-opacity="0.63"/>
<circle cx="209.9" cy="49.5" r="0.7" fill="#000" fill-opacity="0.22"/>
<circle cx="209.6" cy="46.3" r="0.85" fill="none" stroke="#111" stroke-width="0.7" stroke-opacity="0.88"/>
<circle cx="209.3" cy="44.5" r="1.11" fill="none" stroke="#111" stroke-width="0.7" stroke-opacity="0.87"/>
<circle cx="209.4" cy="47.7" r="0.89" fill="none" stroke="#111" stroke-width="0.7" stroke-opacity="0.63"/>
<circle cx="207.7" cy="55.0" r="1.31" fill="none" stroke="#111" stroke-width="0.7" stroke-opacity="0.59"/>
<circle cx="208.1" cy="52.5" r="1.11" fill="none" stroke="#111" stroke-width="0.7" stroke-opacity="0.86"/>
<circle cx="208.1" cy="42.1" r="0.51" fill="#000" fill-opacity="0.51"/>
<circle cx="210.2" cy="56.2" r="0.68" fill="#000" fill-opacity="0.74"/>
<circle cx="208.8" cy="40.1" r="1.14" fill="none" stroke="#111" stroke-width="0.7" stroke-opacity="0.57"/>
<circle cx="209.9" cy="41.0" r="1.36" fill="none" stroke="#111" stroke-width="0.7" stroke-opacity="0.67"/>
<circle cx="210.5" cy="44.4" r="0.93" fill="none" stroke="#111" stroke-width="0.7" stroke-opacity="0.64"/>
<circle cx="210.2" cy="59.4" r="1.4" fill="none" stroke="#111" stroke-width="0.7" stroke-opacity="0.95"/>
<circle cx="210.6" cy="63.5" r="0.67" fill="#000" fill-opacity="0.87"/>
<circle cx="210.2" cy="61.8" r="0.72" fill="#000" fill-opacity="0.56"/>
<circle cx="209.8" cy="46.8" r="1.02" fill="none" stroke="#111" stroke-width="0.7" stroke-opacity="0.83"/>
<circle cx="208.1" cy="56.3" r="0.77" fill="#000" fill-opacity="0.52"/>
<circle cx="210.6" cy="56.9" r="1.21" fill="none" stroke="#111" stroke-width="0.7" stroke-opacity="0.72"/>
<circle cx="209.5" cy="49.5" r="0.51" fill="#000" fill-opacity="0.98"/>
<circle cx="207.7" cy="51.5" r="0.67" fill="#000" fill-opacity="0.86"/>
<circle cx="212.3" cy="47.8" r="0.52" fill="#000" fill-opacity="0.51"/>
<circle cx="209.9" cy="52.6" r="0.86" fill="none" stroke="#111" stroke-width="0.7" stroke-opacity="0.87"/>
<circle cx="209.3" cy="50.5" r="0.73" fill="#000" fill-opacity="0.66"/>
<circle cx="208.6" cy="49.0" r="0.93" fill="none" stroke="#111" stroke-width="0.7" stroke-opacity="0.71"/>
<circle cx="207.9" cy="55.2" r="0.73" fill="#000" fill-opacity="1.0"/>
<circle cx="207.5" cy="52.9" r="0.7" fill="#000" fill-opacity="0.25"/>
<circle cx="208.8" cy="51.4" r="0.54" fill="#000" fill-opacity="0.71"/>
<circle cx="210.7" cy="52.2" r="0.71" fill="#000" fill-opacity="0.81"/>
<circle cx="209.6" cy="55.6" r="1.21" fill="none" stroke="#111" stroke-width="0.7" stroke-opacity="0.92"/>
<circle cx="208.8" cy="52.5" r="0.82" fill="none" stroke="#111" stroke-width="0.7" stroke-opacity="0.65"/>
<circle cx="208.3" cy="54.1" r="0.88" fill="none" stroke="#111" stroke-width="0.7" stroke-opacity="0.86"/>
<circle cx="208.8" cy="51.1" r="0.73" fill="#000" fill-opacity="0.73"/>
<circle cx="211.5" cy="33.6" r="0.7" fill="#000" fill-opacity="0.9"/>
<circle cx="209.0" cy="35.3" r="0.7" fill="#000" fill-opacity="0.9"/>
<circle cx="224.3" cy="37.3" r="0.5" fill="#000" fill-opacity="0.4"/>
<circle cx="207.5" cy="63.2" r="1.5" fill="none" stroke="#111" stroke-width="0.8" stroke-opacity="0.8"/>
<circle cx="198.0" cy="52.9" r="0.53" fill="#000" fill-opacity="0.75"/>
<circle cx="195.6" cy="74.8" r="0.86" fill="none" stroke="#111" stroke-width="0.7" stroke-opacity="0.62"/>
<circle cx="197.4" cy="53.5" r="0.72" fill="#000" fill-opacity="0.53"/>
<circle cx="199.3" cy="70.8" r="0.68" fill="#000" fill-opacity="0.48"/>
<circle cx="197.5" cy="79.7" r="0.87" fill="none" stroke="#111" stroke-width="0.7" stroke-opacity="0.73"/>
<circle cx="198.1" cy="70.6" r="0.69" fill="#000" fill-opacity="0.57"/>
<circle cx="197.7" cy="59.3" r="0.47" fill="#000" fill-opacity="0.47"/>
<circle cx="198.4" cy="75.7" r="0.5" fill="#000" fill-opacity="0.69"/>
<circle cx="201.4" cy="68.8" r="0.63" fill="#000" fill-opacity="0.55"/>
<circle cx="198.0" cy="73.1" r="0.57" fill="#000" fill-opacity="0.3"/>
<circle cx="198.4" cy="59.1" r="0.9" fill="none" stroke="#111" stroke-width="0.7" stroke-opacity="0.74"/>
<circle cx="197.3" cy="67.8" r="0.89" fill="none" stroke="#111" stroke-width="0.7" stroke-opacity="0.91"/>
<circle cx="197.3" cy="56.1" r="0.78" fill="#000" fill-opacity="0.85"/>
<circle cx="197.0" cy="67.3" r="0.86" fill="none" stroke="#111" stroke-width="0.7" stroke-opacity="0.92"/>
<circle cx="199.2" cy="71.1" r="1.2" fill="none" stroke="#111" stroke-width="0.7" stroke-opacity="0.78"/>
<circle cx="195.0" cy="75.2" r="0.61" fill="#000" fill-opacity="0.63"/>
<circle cx="195.5" cy="56.5" r="0.67" fill="#000" fill-opacity="0.64"/>
<circle cx="197.0" cy="74.1" r="0.73" fill="#000" fill-opacity="0.63"/>
<circle cx="197.6" cy="63.5" r="0.7" fill="#000" fill-opacity="0.34"/>
<circle cx="199.3" cy="66.5" r="0.57" fill="#000" fill-opacity="1.0"/>
<circle cx="201.0" cy="78.2" r="0.73" fill="#000" fill-opacity="0.26"/>
<circle cx="196.4" cy="55.8" r="0.81" fill="none" stroke="#111" stroke-width="0.7" stroke-opacity="0.93"/>
<circle cx="197.8" cy="78.5" r="1.3" fill="none" stroke="#111" stroke-width="0.7" stroke-opacity="0.56"/>
<circle cx="198.3" cy="70.1" r="1.19" fill="none" stroke="#111" stroke-width="0.7" stroke-opacity="0.59"/>
<circle cx="199.2" cy="65.2" r="1.0" fill="none" stroke="#111" stroke-width="0.7" stroke-opacity="0.74"/>
<circle cx="196.9" cy="70.3" r="0.59" fill="#000" fill-opacity="0.84"/>
<circle cx="199.3" cy="62.4" r="1.01" fill="none" stroke="#111" stroke-width="0.7" stroke-opacity="0.93"/>
<circle cx="198.6" cy="65.5" r="0.48" fill="#000" fill-opacity="0.55"/>
<circle cx="197.2" cy="64.4" r="0.53" fill="#000" fill-opacity="0.51"/>
<circle cx="195.8" cy="57.0" r="1.04" fill="none" stroke="#111" stroke-width="0.7" stroke-opacity="0.56"/>
<circle cx="196.9" cy="69.1" r="0.55" fill="#000" fill-opacity="0.59"/>
<circle cx="200.8" cy="71.8" r="0.45" fill="#000" fill-opacity="0.34"/>
<circle cx="200.5" cy="88.5" r="0.6" fill="#000" fill-opacity="0.8"/>
<circle cx="197.5" cy="94.0" r="0.6" fill="#000" fill-opacity="0.8"/>
<circle cx="198.5" cy="113.0" r="0.6" fill="#000" fill-opacity="0.8"/>
<circle cx="196.0" cy="83.0" r="0.6" fill="#000" fill-opacity="0.8"/>
<circle cx="220.5" cy="115.5" r="0.6" fill="#000" fill-opacity="0.52"/>
<circle cx="222.0" cy="126.1" r="0.46" fill="#000" fill-opacity="0.71"/>
<circle cx="222.6" cy="109.9" r="0.99" fill="none" stroke="#111" stroke-width="0.7" stroke-opacity="0.58"/>
<circle cx="221.2" cy="110.8" r="0.48" fill="#000" fill-opacity="0.66"/>
<circle cx="221.5" cy="111.8" r="0.69" fill="#000" fill-opacity="0.85"/>
<circle cx="223.7" cy="121.7" r="1.37" fill="none" stroke="#111" stroke-width="0.7" stroke-opacity="0.84"/>
<circle cx="220.1" cy="116.0" r="1.01" fill="none" stroke="#111" stroke-width="0.7" stroke-opacity="0.68"/>
<circle cx="225.1" cy="109.9" r="1.01" fill="none" stroke="#111" stroke-width="0.7" stroke-opacity="0.82"/>
<circle cx="221.9" cy="117.5" r="0.68" fill="#000" fill-opacity="0.79"/>
<circle cx="223.1" cy="114.5" r="0.8" fill="#000" fill-opacity="0.6"/>
<circle cx="224.1" cy="109.1" r="0.73" fill="#000" fill-opacity="0.47"/>
<circle cx="218.7" cy="129.6" r="1.31" fill="none" stroke="#111" stroke-width="0.7" stroke-opacity="0.84"/>
<circle cx="226.6" cy="111.1" r="0.61" fill="#000" fill-opacity="0.76"/>
<circle cx="224.1" cy="106.6" r="0.88" fill="none" stroke="#111" stroke-width="0.7" stroke-opacity="0.6"/>
<circle cx="222.7" cy="112.9" r="0.57" fill="#000" fill-opacity="0.67"/>
<circle cx="219.5" cy="120.3" r="1.19" fill="none" stroke="#111" stroke-width="0.7" stroke-opacity="0.77"/>
<circle cx="224.5" cy="126.2" r="1.0" fill="none" stroke="#111" stroke-width="0.7" stroke-opacity="0.86"/>
<circle cx="219.3" cy="116.9" r="0.54" fill="#000" fill-opacity="0.91"/>
<circle cx="227.0" cy="107.8" r="0.46" fill="#000" fill-opacity="0.85"/>
<circle cx="222.4" cy="123.6" r="0.8" fill="#000" fill-opacity="0.72"/>
<circle cx="217.0" cy="127.3" r="0.65" fill="#000" fill-opacity="0.66"/>
<circle cx="223.2" cy="114.8" r="0.66" fill="#000" fill-opacity="0.6"/>
<circle cx="224.7" cy="113.2" r="0.75" fill="#000" fill-opacity="0.26"/>
<circle cx="223.9" cy="108.0" r="0.78" fill="#000" fill-opacity="0.31"/>
<circle cx="222.6" cy="123.4" r="0.71" fill="#000" fill-opacity="0.42"/>
<circle cx="226.1" cy="109.6" r="0.59" fill="#000" fill-opacity="0.36"/>
<circle cx="224.7" cy="114.1" r="0.81" fill="none" stroke="#111" stroke-width="0.7" stroke-opacity="0.68"/>
<circle cx="221.3" cy="123.2" r="0.53" fill="#000" fill-opacity="1.0"/>
<circle cx="218.2" cy="128.5" r="0.98" fill="none" stroke="#111" stroke-width="0.7" stroke-opacity="0.92"/>
<circle cx="227.5" cy="109.1" r="1.02" fill="none" stroke="#111" stroke-width="0.7" stroke-opacity="0.95"/>
<circle cx="226.6" cy="108.9" r="1.21" fill="none" stroke="#111" stroke-width="0.7" stroke-opacity="0.89"/>
<circle cx="226.0" cy="115.6" r="0.83" fill="none" stroke="#111" stroke-width="0.7" stroke-opacity="0.63"/>
<circle cx="220.9" cy="116.2" r="0.68" fill="#000" fill-opacity="0.83"/>
<circle cx="219.5" cy="118.9" r="0.7" fill="#000" fill-opacity="0.54"/>
<circle cx="219.3" cy="121.5" r="1.02" fill="none" stroke="#111" stroke-width="0.7" stroke-opacity="0.88"/>
<circle cx="220.5" cy="122.8" r="1.23" fill="none" stroke="#111" stroke-width="0.7" stroke-opacity="0.85"/>
<circle cx="219.0" cy="128.8" r="0.48" fill="#000" fill-opacity="0.64"/>
<circle cx="217.8" cy="127.0" r="0.57" fill="#000" fill-opacity="0.66"/>
<circle cx="225.7" cy="112.8" r="1.32" fill="none" stroke="#111" stroke-width="0.7" stroke-opacity="0.63"/>
<circle cx="224.2" cy="116.9" r="0.77" fill="#000" fill-opacity="0.95"/>
<circle cx="218.7" cy="128.7" r="0.8" fill="#000" fill-opacity="0.8"/>
<circle cx="226.8" cy="112.4" r="0.94" fill="none" stroke="#111" stroke-width="0.7" stroke-opacity="0.66"/>
<circle cx="222.0" cy="113.3" r="0.71" fill="#000" fill-opacity="0.45"/>
<circle cx="221.2" cy="122.5" r="1.25" fill="none" stroke="#111" stroke-width="0.7" stroke-opacity="0.58"/>
<circle cx="226.7" cy="111.4" r="1.19" fill="none" stroke="#111" stroke-width="0.7" stroke-opacity="0.85"/>
<circle cx="223.5" cy="113.8" r="1.34" fill="none" stroke="#111" stroke-width="0.7" stroke-opacity="0.74"/>
<circle cx="217.0" cy="123.0" r="0.87" fill="none" stroke="#111" stroke-width="0.7" stroke-opacity="0.92"/>
<circle cx="220.0" cy="119.3" r="1.32" fill="none" stroke="#111" stroke-width="0.7" stroke-opacity="0.87"/>
<circle cx="219.6" cy="122.0" r="1.39" fill="none" stroke="#111" stroke-width="0.7" stroke-opacity="0.59"/>
<circle cx="225.3" cy="109.2" r="0.96" fill="none" stroke="#111" stroke-width="0.7" stroke-opacity="0.6"/>
<circle cx="223.3" cy="109.3" r="0.54" fill="#000" fill-opacity="0.63"/>
<circle cx="226.4" cy="110.7" r="0.97" fill="none" stroke="#111" stroke-width="0.7" stroke-opacity="0.68"/>
<circle cx="223.2" cy="115.5" r="0.71" fill="#000" fill-opacity="0.62"/>
<circle cx="225.6" cy="115.0" r="1.18" fill="none" stroke="#111" stroke-width="0.7" stroke-opacity="0.69"/>
<circle cx="223.2" cy="112.5" r="0.76" fill="#000" fill-opacity="0.58"/>
<circle cx="221.8" cy="122.8" r="0.55" fill="#000" fill-opacity="0.56"/>
<circle cx="224.6" cy="118.6" r="0.48" fill="#000" fill-opacity="0.47"/>
<circle cx="226.8" cy="110.8" r="0.71" fill="#000" fill-opacity="0.67"/>
<circle cx="223.5" cy="108.3" r="0.81" fill="none" stroke="#111" stroke-width="0.7" stroke-opacity="0.83"/>
<circle cx="221.6" cy="122.4" r="1.31" fill="none" stroke="#111" stroke-width="0.7" stroke-opacity="0.74"/>
<circle cx="220.6" cy="125.3" r="0.76" fill="#000" fill-opacity="0.69"/>
<circle cx="218.0" cy="127.1" r="0.45" fill="#000" fill-opacity="0.72"/>
<circle cx="224.6" cy="119.6" r="1.18" fill="none" stroke="#111" stroke-width="0.7" stroke-opacity="0.68"/>
<circle cx="222.1" cy="118.8" r="0.54" fill="#000" fill-opacity="0.77"/>
<circle cx="225.4" cy="113.9" r="0.47" fill="#000" fill-opacity="0.46"/>
<circle cx="224.7" cy="109.9" r="0.5" fill="#000" fill-opacity="0.99"/>
<circle cx="216.0" cy="126.5" r="1.14" fill="none" stroke="#111" stroke-width="0.7" stroke-opacity="0.91"/>
<circle cx="221.0" cy="123.6" r="0.78" fill="#000" fill-opacity="0.53"/>
<circle cx="223.9" cy="110.5" r="0.79" fill="#000" fill-opacity="0.57"/>
<circle cx="219.3" cy="116.8" r="1.13" fill="none" stroke="#111" stroke-width="0.7" stroke-opacity="0.57"/>
<circle cx="227.8" cy="106.1" r="0.96" fill="none" stroke="#111" stroke-width="0.7" stroke-opacity="0.71"/>
<circle cx="220.1" cy="123.5" r="1.37" fill="none" stroke="#111" stroke-width="0.7" stroke-opacity="0.63"/>
<circle cx="223.5" cy="125.3" r="0.74" fill="#000" fill-opacity="0.72"/>
<circle cx="220.4" cy="113.2" r="1.34" fill="none" stroke="#111" stroke-width="0.7" stroke-opacity="0.79"/>
<circle cx="221.2" cy="114.5" r="0.9" fill="none" stroke="#111" stroke-width="0.7" stroke-opacity="0.74"/>
<circle cx="218.0" cy="126.9" r="0.59" fill="#000" fill-opacity="0.63"/>
<circle cx="217.6" cy="125.3" r="0.82" fill="none" stroke="#111" stroke-width="0.7" stroke-opacity="0.9"/>
<circle cx="224.2" cy="110.6" r="1.37" fill="none" stroke="#111" stroke-width="0.7" stroke-opacity="0.87"/>
<circle cx="227.6" cy="111.0" r="0.47" fill="#000" fill-opacity="0.75"/>
<circle cx="217.2" cy="129.5" r="0.78" fill="#000" fill-opacity="0.59"/>
<circle cx="227.1" cy="112.7" r="1.38" fill="none" stroke="#111" stroke-width="0.7" stroke-opacity="0.57"/>
<circle cx="226.7" cy="112.3" r="0.63" fill="#000" fill-opacity="0.61"/>
<circle cx="222.1" cy="120.9" r="1.18" fill="none" stroke="#111" stroke-width="0.7" stroke-opacity="0.75"/>
<circle cx="218.5" cy="121.7" r="0.79" fill="#000" fill-opacity="0.54"/>
<circle cx="220.7" cy="124.9" r="1.37" fill="none" stroke="#111" stroke-width="0.7" stroke-opacity="0.64"/>
<circle cx="227.0" cy="80.9" r="1.27" fill="none" stroke="#111" stroke-width="0.7" stroke-opacity="0.77"/>
<circle cx="229.0" cy="67.4" r="0.67" fill="#000" fill-opacity="0.64"/>
<circle cx="229.3" cy="68.8" r="1.24" fill="none" stroke="#111" stroke-width="0.7" stroke-opacity="0.79"/>
<circle cx="227.9" cy="72.3" r="1.3" fill="none" stroke="#111" stroke-width="0.7" stroke-opacity="0.92"/>
<circle cx="228.4" cy="63.5" r="1.21" fill="none" stroke="#111" stroke-width="0.7" stroke-opacity="0.94"/>
<circle cx="225.2" cy="95.4" r="0.64" fill="#000" fill-opacity="0.79"/>
<circle cx="229.0" cy="60.7" r="0.5" fill="#000" fill-opacity="0.62"/>
<circle cx="228.4" cy="72.0" r="0.6" fill="#000" fill-opacity="0.94"/>
<circle cx="230.8" cy="62.3" r="0.55" fill="#000" fill-opacity="0.6"/>
<circle cx="226.8" cy="95.7" r="1.02" fill="none" stroke="#111" stroke-width="0.7" stroke-opacity="0.91"/>
<circle cx="228.4" cy="61.5" r="1.27" fill="none" stroke="#111" stroke-width="0.7" stroke-opacity="0.91"/>
<circle cx="227.4" cy="97.6" r="0.75" fill="#000" fill-opacity="0.33"/>
<circle cx="228.2" cy="104.3" r="0.9" fill="none" stroke="#111" stroke-width="0.7" stroke-opacity="0.66"/>
<circle cx="227.4" cy="101.2" r="0.52" fill="#000" fill-opacity="0.63"/>
<circle cx="229.9" cy="63.1" r="0.71" fill="#000" fill-opacity="0.68"/>
<circle cx="228.7" cy="65.9" r="0.88" fill="none" stroke="#111" stroke-width="0.7" stroke-opacity="0.55"/>
<circle cx="229.5" cy="64.1" r="1.07" fill="none" stroke="#111" stroke-width="0.7" stroke-opacity="0.77"/>
<circle cx="226.4" cy="97.9" r="1.02" fill="none" stroke="#111" stroke-width="0.7" stroke-opacity="0.89"/>
<circle cx="225.5" cy="96.3" r="0.52" fill="#000" fill-opacity="0.67"/>
<circle cx="227.6" cy="61.7" r="1.23" fill="none" stroke="#111" stroke-width="0.7" stroke-opacity="0.61"/>
<circle cx="227.3" cy="78.4" r="0.57" fill="#000" fill-opacity="0.72"/>
<circle cx="228.0" cy="97.3" r="0.59" fill="#000" fill-opacity="0.46"/>
<circle cx="224.5" cy="89.4" r="1.07" fill="none" stroke="#111" stroke-width="0.7" stroke-opacity="0.74"/>
<circle cx="225.0" cy="89.5" r="0.59" fill="#000" fill-opacity="0.88"/>
<circle cx="227.8" cy="74.9" r="1.11" fill="none" stroke="#111" stroke-width="0.7" stroke-opacity="0.63"/>
<circle cx="226.2" cy="103.0" r="1.0" fill="none" stroke="#111" stroke-width="0.7" stroke-opacity="0.67"/>
<circle cx="228.7" cy="63.8" r="0.62" fill="#000" fill-opacity="0.73"/>
<circle cx="225.8" cy="103.5" r="0.79" fill="#000" fill-opacity="0.67"/>
<circle cx="226.7" cy="96.5" r="0.75" fill="#000" fill-opacity="0.94"/>
<circle cx="230.1" cy="65.8" r="1.01" fill="none" stroke="#111" stroke-width="0.7" stroke-opacity="0.6"/>
<circle cx="228.1" cy="77.7" r="0.69" fill="#000" fill-opacity="0.47"/>
<circle cx="228.5" cy="73.6" r="0.64" fill="#000" fill-opacity="0.73"/>
<circle cx="227.0" cy="84.3" r="1.26" fill="none" stroke="#111" stroke-width="0.7" stroke-opacity="0.9"/>
<circle cx="227.2" cy="96.9" r="0.61" fill="#000" fill-opacity="0.35"/>
<circle cx="226.4" cy="100.5" r="0.8" fill="#000" fill-opacity="0.44"/>
<circle cx="228.0" cy="87.0" r="0.73" fill="#000" fill-opacity="0.6"/>
<circle cx="227.6" cy="84.3" r="0.48" fill="#000" fill-opacity="0.21"/>
<circle cx="227.8" cy="68.1" r="1.2" fill="none" stroke="#111" stroke-width="0.7" stroke-opacity="0.95"/>
<circle cx="227.2" cy="92.2" r="1.2" fill="none" stroke="#111" stroke-width="0.7" stroke-opacity="0.66"/>
<circle cx="228.6" cy="73.9" r="1.11" fill="none" stroke="#111" stroke-width="0.7" stroke-opacity="0.65"/>
<circle cx="227.2" cy="100.6" r="1.13" fill="none" stroke="#111" stroke-width="0.7" stroke-opacity="0.56"/>
<circle cx="227.3" cy="82.7" r="1.15" fill="none" stroke="#111" stroke-width="0.7" stroke-opacity="0.83"/>
<circle cx="226.0" cy="97.8" r="0.74" fill="#000" fill-opacity="0.73"/>
<circle cx="228.3" cy="66.2" r="0.96" fill="none" stroke="#111" stroke-width="0.7" stroke-opacity="0.86"/>
<circle cx="228.1" cy="67.4" r="0.92" fill="none" stroke="#111" stroke-width="0.7" stroke-opacity="0.68"/>
<circle cx="226.3" cy="67.8" r="0.69" fill="#000" fill-opacity="0.61"/>
<circle cx="226.9" cy="84.2" r="1.35" fill="none" stroke="#111" stroke-width="0.7" stroke-opacity="0.94"/>
<circle cx="227.8" cy="62.3" r="0.98" fill="none" stroke="#111" stroke-width="0.7" stroke-opacity="0.93"/>
<circle cx="228.8" cy="66.5" r="0.71" fill="#000" fill-opacity="0.41"/>
<circle cx="226.8" cy="62.8" r="0.64" fill="#000" fill-opacity="0.33"/>
<circle cx="228.2" cy="69.4" r="0.52" fill="#000" fill-opacity="0.64"/>
<circle cx="227.1" cy="102.0" r="0.53" fill="#000" fill-opacity="0.72"/>
<circle cx="226.1" cy="97.9" r="1.31" fill="none" stroke="#111" stroke-width="0.7" stroke-opacity="0.85"/>
<circle cx="225.1" cy="104.0" r="0.56" fill="#000" fill-opacity="0.52"/>
<circle cx="227.8" cy="64.7" r="0.71" fill="#000" fill-opacity="0.54"/>
<circle cx="233.0" cy="105.5" r="1.3" fill="none" stroke="#111" stroke-width="0.7" stroke-opacity="0.89"/>
<circle cx="234.4" cy="96.2" r="1.09" fill="none" stroke="#111" stroke-width="0.7" stroke-opacity="0.76"/>
<circle cx="234.9" cy="99.9" r="0.73" fill="#000" fill-opacity="0.85"/>
<circle cx="232.8" cy="109.5" r="0.61" fill="#000" fill-opacity="0.79"/>
<circle cx="234.9" cy="105.5" r="1.34" fill="none" stroke="#111" stroke-width="0.7" stroke-opacity="0.82"/>
<circle cx="234.1" cy="97.7" r="0.82" fill="none" stroke="#111" stroke-width="0.7" stroke-opacity="0.89"/>
<circle cx="233.9" cy="94.3" r="0.48" fill="#000" fill-opacity="0.59"/>
<circle cx="234.2" cy="103.7" r="0.96" fill="none" stroke="#111" stroke-width="0.7" stroke-opacity="0.84"/>
<circle cx="235.9" cy="106.8" r="1.04" fill="none" stroke="#111" stroke-width="0.7" stroke-opacity="0.72"/>
<circle cx="235.4" cy="92.2" r="0.73" fill="#000" fill-opacity="0.47"/>
<circle cx="233.8" cy="97.0" r="1.26" fill="none" stroke="#111" stroke-width="0.7" stroke-opacity="0.91"/>
<circle cx="234.5" cy="103.6" r="0.57" fill="#000" fill-opacity="0.78"/>
<circle cx="232.9" cy="104.7" r="0.63" fill="#000" fill-opacity="0.32"/>
<circle cx="235.1" cy="99.5" r="1.31" fill="none" stroke="#111" stroke-width="0.7" stroke-opacity="0.83"/>
<circle cx="234.8" cy="97.4" r="0.64" fill="#000" fill-opacity="0.36"/>
<circle cx="233.8" cy="93.4" r="0.6" fill="#000" fill-opacity="0.88"/>
<circle cx="241.8" cy="106.3" r="0.65" fill="#000" fill-opacity="0.97"/>
<circle cx="240.6" cy="99.6" r="0.59" fill="#000" fill-opacity="0.22"/>
<circle cx="240.9" cy="103.4" r="0.68" fill="#000" fill-opacity="0.77"/>
<circle cx="241.5" cy="103.2" r="0.86" fill="none" stroke="#111" stroke-width="0.7" stroke-opacity="0.89"/>
<circle cx="241.0" cy="106.1" r="0.47" fill="#000" fill-opacity="0.92"/>
<circle cx="240.0" cy="104.5" r="0.65" fill="#000" fill-opacity="0.22"/>
<circle cx="240.5" cy="102.8" r="0.67" fill="#000" fill-opacity="0.86"/>
<circle cx="241.8" cy="104.2" r="1.28" fill="none" stroke="#111" stroke-width="0.7" stroke-opacity="0.73"/>
<circle cx="241.0" cy="112.6" r="2.3" fill="none" stroke="#222" stroke-width="0.8" stroke-opacity="0.8"/>
<circle cx="231.9" cy="118.8" r="1.3" fill="none" stroke="#222" stroke-width="0.7" stroke-opacity="0.8"/>
<circle cx="228.2" cy="127.0" r="1.0" fill="none" stroke="#222" stroke-width="0.7" stroke-opacity="0.7"/>
<circle cx="234.5" cy="40.5" r="0.8" fill="#000" fill-opacity="0.9"/>
<circle cx="234.5" cy="47.5" r="0.9" fill="#000" fill-opacity="0.95"/>
<circle cx="240.7" cy="115.6" r="0.51" fill="#000" fill-opacity="0.63"/>
<circle cx="269.4" cy="106.2" r="1.22" fill="none" stroke="#111" stroke-width="0.7" stroke-opacity="0.68"/>
<circle cx="251.8" cy="101.8" r="0.55" fill="#000" fill-opacity="0.44"/>
<circle cx="265.9" cy="101.8" r="0.71" fill="#000" fill-opacity="0.29"/>
<circle cx="261.4" cy="114.0" r="0.7" fill="#000" fill-opacity="0.73"/>
<circle cx="255.1" cy="101.0" r="0.53" fill="#000" fill-opacity="0.35"/>
<circle cx="240.3" cy="108.0" r="0.78" fill="#000" fill-opacity="0.88"/>
<circle cx="260.5" cy="100.1" r="1.1" fill="none" stroke="#111" stroke-width="0.7" stroke-opacity="0.75"/>
<circle cx="246.8" cy="60.6" r="0.58" fill="#000" fill-opacity="0.27"/>
<circle cx="250.1" cy="96.5" r="0.5" fill="#000" fill-opacity="0.92"/>
<circle cx="264.3" cy="62.5" r="0.68" fill="#000" fill-opacity="0.53"/>
<circle cx="242.8" cy="103.9" r="0.71" fill="#000" fill-opacity="0.82"/>
<circle cx="260.3" cy="95.3" r="0.61" fill="#000" fill-opacity="0.66"/>
<circle cx="248.0" cy="112.3" r="0.59" fill="#000" fill-opacity="0.22"/>
<circle cx="264.0" cy="112.0" r="0.77" fill="#000" fill-opacity="0.43"/>
<circle cx="271.9" cy="86.2" r="0.78" fill="#000" fill-opacity="0.35"/>
<circle cx="250.3" cy="100.2" r="0.63" fill="#000" fill-opacity="0.35"/>
<circle cx="237.5" cy="106.9" r="0.67" fill="#000" fill-opacity="0.44"/>
<circle cx="251.6" cy="91.0" r="0.64" fill="#000" fill-opacity="0.37"/>
<circle cx="243.0" cy="72.5" r="1.05" fill="none" stroke="#111" stroke-width="0.7" stroke-opacity="0.78"/>
<circle cx="248.7" cy="97.2" r="0.61" fill="#000" fill-opacity="0.77"/>
<circle cx="243.8" cy="68.9" r="0.67" fill="#000" fill-opacity="0.27"/>
<circle cx="256.5" cy="99.3" r="0.49" fill="#000" fill-opacity="0.3"/>
<circle cx="256.2" cy="85.8" r="0.56" fill="#000" fill-opacity="0.85"/>
<circle cx="260.4" cy="114.0" r="0.75" fill="#000" fill-opacity="0.5"/>
<circle cx="242.0" cy="73.9" r="0.6" fill="#000" fill-opacity="0.47"/>
<circle cx="243.7" cy="59.1" r="1.17" fill="none" stroke="#111" stroke-width="0.7" stroke-opacity="0.93"/>
<circle cx="244.6" cy="86.8" r="0.62" fill="#000" fill-opacity="0.47"/>
<circle cx="257.0" cy="84.8" r="0.61" fill="#000" fill-opacity="0.74"/>
<circle cx="259.8" cy="69.8" r="0.58" fill="#000" fill-opacity="0.85"/>
<circle cx="267.9" cy="112.3" r="0.47" fill="#000" fill-opacity="0.47"/>
<circle cx="268.1" cy="55.5" r="0.52" fill="#000" fill-opacity="0.28"/>
<circle cx="238.1" cy="92.0" r="0.64" fill="#000" fill-opacity="0.22"/>
<circle cx="262.0" cy="55.5" r="0.48" fill="#000" fill-opacity="0.37"/>
<circle cx="244.9" cy="102.5" r="0.75" fill="#000" fill-opacity="0.41"/>
<circle cx="252.2" cy="75.2" r="1.17" fill="none" stroke="#111" stroke-width="0.7" stroke-opacity="0.57"/>
<circle cx="252.9" cy="80.6" r="0.54" fill="#000" fill-opacity="0.46"/>
<circle cx="264.6" cy="74.4" r="0.67" fill="#000" fill-opacity="0.39"/>
<circle cx="238.3" cy="64.0" r="0.54" fill="#000" fill-opacity="0.22"/>
<circle cx="256.9" cy="73.1" r="0.81" fill="none" stroke="#111" stroke-width="0.7" stroke-opacity="0.65"/>
<circle cx="254.6" cy="102.4" r="1.1" fill="none" stroke="#111" stroke-width="0.7" stroke-opacity="0.68"/>
<circle cx="257.9" cy="99.2" r="0.95" fill="none" stroke="#111" stroke-width="0.7" stroke-opacity="0.9"/>
<circle cx="259.9" cy="65.5" r="0.58" fill="#000" fill-opacity="0.7"/>
<circle cx="255.1" cy="96.4" r="0.55" fill="#000" fill-opacity="0.31"/>
<circle cx="259.3" cy="79.9" r="0.69" fill="#000" fill-opacity="0.22"/>
<circle cx="230.2" cy="70.4" r="0.61" fill="#000" fill-opacity="0.29"/>
<circle cx="232.3" cy="72.9" r="0.59" fill="#000" fill-opacity="0.23"/>
<circle cx="237.6" cy="79.0" r="0.6" fill="#000" fill-opacity="0.87"/>
<circle cx="238.7" cy="86.8" r="0.49" fill="#000" fill-opacity="0.85"/>
<circle cx="230.4" cy="68.5" r="0.73" fill="#000" fill-opacity="0.64"/>
<circle cx="236.4" cy="60.1" r="0.71" fill="#000" fill-opacity="0.87"/>
<circle cx="232.5" cy="81.4" r="0.67" fill="#000" fill-opacity="0.22"/>
<circle cx="232.8" cy="69.9" r="0.47" fill="#000" fill-opacity="1.0"/>
<circle cx="230.9" cy="88.7" r="1.13" fill="none" stroke="#111" stroke-width="0.7" stroke-opacity="0.73"/>
<circle cx="236.8" cy="68.6" r="0.75" fill="#000" fill-opacity="0.95"/>
<circle cx="318.8" cy="72.2" r="0.56" fill="#000" fill-opacity="0.53"/>
<circle cx="319.0" cy="84.7" r="0.65" fill="#000" fill-opacity="0.51"/>
<circle cx="319.8" cy="113.5" r="1.32" fill="none" stroke="#111" stroke-width="0.7" stroke-opacity="0.59"/>
<circle cx="320.9" cy="88.1" r="0.57" fill="#000" fill-opacity="0.95"/>
<circle cx="319.3" cy="88.4" r="1.29" fill="none" stroke="#111" stroke-width="0.7" stroke-opacity="0.57"/>
<circle cx="318.8" cy="113.4" r="0.7" fill="#000" fill-opacity="0.46"/>
<circle cx="317.7" cy="94.4" r="0.88" fill="none" stroke="#111" stroke-width="0.7" stroke-opacity="0.77"/>
<circle cx="317.5" cy="99.3" r="0.63" fill="#000" fill-opacity="0.75"/>
<circle cx="317.9" cy="112.6" r="0.7" fill="#000" fill-opacity="0.53"/>
<circle cx="319.5" cy="105.5" r="0.5" fill="#000" fill-opacity="0.86"/>
<circle cx="319.1" cy="124.9" r="0.95" fill="none" stroke="#111" stroke-width="0.7" stroke-opacity="0.81"/>
<circle cx="319.9" cy="91.1" r="0.77" fill="#000" fill-opacity="0.21"/>
<circle cx="317.5" cy="91.6" r="0.52" fill="#000" fill-opacity="0.95"/>
<circle cx="319.6" cy="77.7" r="0.82" fill="none" stroke="#111" stroke-width="0.7" stroke-opacity="0.71"/>
<circle cx="317.2" cy="104.6" r="0.97" fill="none" stroke="#111" stroke-width="0.7" stroke-opacity="0.91"/>
<circle cx="318.0" cy="69.3" r="0.49" fill="#000" fill-opacity="0.29"/>
<circle cx="317.3" cy="123.1" r="1.2" fill="none" stroke="#111" stroke-width="0.7" stroke-opacity="0.81"/>
<circle cx="317.3" cy="90.6" r="0.8" fill="#000" fill-opacity="0.35"/>
<circle cx="316.6" cy="71.3" r="0.88" fill="none" stroke="#111" stroke-width="0.7" stroke-opacity="0.63"/>
<circle cx="317.8" cy="71.5" r="0.76" fill="#000" fill-opacity="0.36"/>
<circle cx="318.0" cy="93.4" r="0.47" fill="#000" fill-opacity="0.78"/>
<circle cx="319.0" cy="79.9" r="0.8" fill="#000" fill-opacity="0.3"/>
<circle cx="319.2" cy="86.2" r="0.7" fill="#000" fill-opacity="0.96"/>
<circle cx="320.1" cy="81.5" r="0.65" fill="#000" fill-opacity="0.46"/>
<circle cx="318.4" cy="68.7" r="1.22" fill="none" stroke="#111" stroke-width="0.7" stroke-opacity="0.71"/>
<circle cx="318.9" cy="101.2" r="0.95" fill="none" stroke="#111" stroke-width="0.7" stroke-opacity="0.84"/>
<circle cx="317.8" cy="115.3" r="1.3" fill="none" stroke="#111" stroke-width="0.7" stroke-opacity="0.83"/>
<circle cx="318.7" cy="96.1" r="1.34" fill="none" stroke="#111" stroke-width="0.7" stroke-opacity="0.69"/>
<circle cx="321.7" cy="69.8" r="0.47" fill="#000" fill-opacity="0.89"/>
<circle cx="319.9" cy="107.8" r="0.73" fill="#000" fill-opacity="0.7"/>
<circle cx="318.0" cy="104.9" r="0.61" fill="#000" fill-opacity="0.43"/>
<circle cx="319.3" cy="82.4" r="0.65" fill="#000" fill-opacity="0.84"/>
<circle cx="318.1" cy="85.9" r="0.54" fill="#000" fill-opacity="0.95"/>
<circle cx="318.6" cy="86.5" r="0.68" fill="#000" fill-opacity="0.34"/>
<circle cx="316.4" cy="76.4" r="1.04" fill="none" stroke="#111" stroke-width="0.7" stroke-opacity="0.82"/>
<circle cx="317.9" cy="87.4" r="1.09" fill="none" stroke="#111" stroke-width="0.7" stroke-opacity="0.57"/>
<circle cx="317.6" cy="71.2" r="0.47" fill="#000" fill-opacity="0.8"/>
<circle cx="317.5" cy="100.9" r="0.53" fill="#000" fill-opacity="0.54"/>
<circle cx="315.9" cy="113.0" r="1.12" fill="none" stroke="#111" stroke-width="0.7" stroke-opacity="0.66"/>
<circle cx="319.2" cy="91.9" r="1.04" fill="none" stroke="#111" stroke-width="0.7" stroke-opacity="0.66"/>
<circle cx="318.3" cy="113.4" r="0.53" fill="#000" fill-opacity="0.59"/>
<circle cx="318.7" cy="101.0" r="1.04" fill="none" stroke="#111" stroke-width="0.7" stroke-opacity="0.88"/>
<circle cx="318.6" cy="105.0" r="0.51" fill="#000" fill-opacity="0.74"/>
<circle cx="317.7" cy="105.6" r="1.14" fill="none" stroke="#111" stroke-width="0.7" stroke-opacity="0.74"/>
<circle cx="318.4" cy="66.5" r="0.79" fill="#000" fill-opacity="0.37"/>
<circle cx="319.7" cy="87.2" r="0.54" fill="#000" fill-opacity="0.38"/>
<circle cx="318.7" cy="107.1" r="1.21" fill="none" stroke="#111" stroke-width="0.7" stroke-opacity="0.92"/>
<circle cx="319.2" cy="117.1" r="0.8" fill="#000" fill-opacity="0.48"/>
<circle cx="318.7" cy="79.9" r="0.51" fill="#000" fill-opacity="0.45"/>
<circle cx="318.5" cy="87.5" r="0.96" fill="none" stroke="#111" stroke-width="0.7" stroke-opacity="0.68"/>
<circle cx="319.7" cy="109.9" r="0.53" fill="#000" fill-opacity="0.28"/>
<circle cx="317.5" cy="121.5" r="0.63" fill="#000" fill-opacity="0.59"/>
<circle cx="318.4" cy="72.9" r="0.76" fill="#000" fill-opacity="0.34"/>
<circle cx="318.4" cy="88.2" r="0.99" fill="none" stroke="#111" stroke-width="0.7" stroke-opacity="0.75"/>
<circle cx="317.3" cy="77.7" r="1.15" fill="none" stroke="#111" stroke-width="0.7" stroke-opacity="0.91"/>
<circle cx="330.1" cy="96.0" r="0.7" fill="#000" fill-opacity="0.92"/>
<circle cx="318.7" cy="79.3" r="0.52" fill="#000" fill-opacity="0.85"/>
<circle cx="321.2" cy="88.9" r="0.75" fill="#000" fill-opacity="0.37"/>
<circle cx="321.1" cy="98.3" r="0.79" fill="#000" fill-opacity="0.91"/>
<circle cx="330.9" cy="83.4" r="0.69" fill="#000" fill-opacity="0.35"/>
<circle cx="315.4" cy="93.2" r="0.77" fill="#000" fill-opacity="0.39"/>
<circle cx="312.7" cy="104.6" r="0.59" fill="#000" fill-opacity="0.54"/>
<circle cx="317.7" cy="90.6" r="0.5" fill="#000" fill-opacity="0.2"/>
<circle cx="316.3" cy="83.6" r="0.73" fill="#000" fill-opacity="0.34"/>
<circle cx="320.0" cy="110.5" r="0.68" fill="#000" fill-opacity="0.22"/>
<circle cx="326.2" cy="82.9" r="0.47" fill="#000" fill-opacity="0.47"/>
<circle cx="313.4" cy="112.5" r="0.76" fill="#000" fill-opacity="0.49"/>
<circle cx="319.6" cy="79.3" r="0.79" fill="#000" fill-opacity="0.84"/>
<circle cx="318.4" cy="87.9" r="0.72" fill="#000" fill-opacity="0.48"/>
<circle cx="327.7" cy="71.7" r="0.46" fill="#000" fill-opacity="0.77"/>
<circle cx="321.8" cy="102.9" r="0.73" fill="#000" fill-opacity="0.38"/>
<circle cx="326.8" cy="94.1" r="0.45" fill="#000" fill-opacity="0.66"/>
<circle cx="317.5" cy="79.2" r="0.6" fill="#000" fill-opacity="0.83"/>
<circle cx="316.2" cy="84.4" r="0.69" fill="#000" fill-opacity="0.2"/>
<circle cx="328.9" cy="78.6" r="0.49" fill="#000" fill-opacity="0.37"/>
<circle cx="318.0" cy="117.8" r="0.5" fill="#000" fill-opacity="0.35"/>
<circle cx="323.2" cy="99.1" r="0.6" fill="#000" fill-opacity="0.9"/>
<circle cx="294.0" cy="93.4" r="0.62" fill="#000" fill-opacity="0.76"/>
<circle cx="299.8" cy="79.7" r="0.69" fill="#000" fill-opacity="0.93"/>
<circle cx="297.0" cy="80.1" r="0.47" fill="#000" fill-opacity="0.46"/>
<circle cx="301.0" cy="99.4" r="0.77" fill="#000" fill-opacity="0.91"/>
<circle cx="279.7" cy="91.4" r="0.62" fill="#000" fill-opacity="0.4"/>
<circle cx="305.8" cy="72.1" r="0.68" fill="#000" fill-opacity="0.48"/>
<circle cx="279.2" cy="87.7" r="0.59" fill="#000" fill-opacity="0.35"/>
<circle cx="275.0" cy="91.2" r="0.69" fill="#000" fill-opacity="0.73"/>
<circle cx="306.2" cy="93.1" r="0.74" fill="#000" fill-opacity="0.85"/>
<circle cx="306.2" cy="94.0" r="0.59" fill="#000" fill-opacity="0.43"/>
<circle cx="301.9" cy="87.4" r="0.77" fill="#000" fill-opacity="0.66"/>
<circle cx="278.8" cy="97.3" r="0.57" fill="#000" fill-opacity="0.89"/>
<circle cx="297.6" cy="84.9" r="0.64" fill="#000" fill-opacity="0.68"/>
<circle cx="286.1" cy="76.5" r="0.64" fill="#000" fill-opacity="0.47"/>
<circle cx="280.5" cy="80.3" r="0.71" fill="#000" fill-opacity="0.22"/>
<circle cx="303.5" cy="79.3" r="0.79" fill="#000" fill-opacity="0.97"/>
<circle cx="283.0" cy="89.0" r="0.7" fill="#000" fill-opacity="0.75"/>
<circle cx="292.0" cy="87.0" r="0.7" fill="#000" fill-opacity="0.75"/>
<circle cx="289.0" cy="79.0" r="0.7" fill="#000" fill-opacity="0.75"/>
<circle cx="281.0" cy="87.0" r="0.7" fill="#000" fill-opacity="0.75"/>
<circle cx="298.0" cy="91.0" r="0.7" fill="#000" fill-opacity="0.75"/>
<circle cx="298.8" cy="32.5" r="0.7" fill="#000" fill-opacity="0.8"/>
<circle cx="319.4" cy="38.8" r="0.7" fill="#000" fill-opacity="0.8"/>
<circle cx="319.4" cy="69.0" r="0.7" fill="#000" fill-opacity="0.8"/>
<circle cx="310.8" cy="79.4" r="0.7" fill="#000" fill-opacity="0.7"/>
<path d="M509.2,58 L511.5,50 L513.5,50 L514.6,60 L514.8,88 L516.4,90 L516.6,126 L506,126 L506.2,90 L508.7,88 Z" fill="#000" fill-opacity="0.22"/>
<circle cx="510.0" cy="58.1" r="0.71" fill="#000" fill-opacity="0.21"/>
<circle cx="511.4" cy="75.9" r="0.6" fill="#000" fill-opacity="0.73"/>
<circle cx="514.4" cy="85.4" r="0.49" fill="#000" fill-opacity="0.77"/>
<circle cx="514.8" cy="81.5" r="0.45" fill="#000" fill-opacity="0.38"/>
<circle cx="510.4" cy="85.6" r="0.67" fill="#000" fill-opacity="0.67"/>
<circle cx="514.3" cy="70.9" r="0.51" fill="#000" fill-opacity="0.87"/>
<circle cx="510.1" cy="68.1" r="0.48" fill="#000" fill-opacity="0.91"/>
<circle cx="514.7" cy="65.7" r="0.45" fill="#000" fill-opacity="0.88"/>
<circle cx="510.7" cy="56.9" r="1.13" fill="none" stroke="#111" stroke-width="0.7" stroke-opacity="0.76"/>
<circle cx="513.9" cy="74.0" r="0.57" fill="#000" fill-opacity="0.58"/>
<circle cx="511.1" cy="72.2" r="0.56" fill="#000" fill-opacity="0.83"/>
<circle cx="510.2" cy="55.7" r="0.68" fill="#000" fill-opacity="0.71"/>
<circle cx="511.2" cy="67.2" r="1.21" fill="none" stroke="#111" stroke-width="0.7" stroke-opacity="0.83"/>
<circle cx="512.0" cy="59.4" r="0.71" fill="#000" fill-opacity="0.66"/>
<circle cx="514.0" cy="58.4" r="0.71" fill="#000" fill-opacity="0.87"/>
<circle cx="509.9" cy="55.4" r="0.66" fill="#000" fill-opacity="0.93"/>
<circle cx="514.6" cy="77.8" r="1.08" fill="none" stroke="#111" stroke-width="0.7" stroke-opacity="0.7"/>
<circle cx="509.4" cy="65.1" r="0.49" fill="#000" fill-opacity="0.51"/>
<circle cx="514.0" cy="80.1" r="0.52" fill="#000" fill-opacity="0.72"/>
<circle cx="510.4" cy="73.3" r="0.71" fill="#000" fill-opacity="0.48"/>
<circle cx="514.4" cy="78.3" r="0.59" fill="#000" fill-opacity="0.61"/>
<circle cx="512.8" cy="85.9" r="0.47" fill="#000" fill-opacity="0.64"/>
<circle cx="511.4" cy="61.2" r="0.7" fill="#000" fill-opacity="0.2"/>
<circle cx="512.5" cy="66.6" r="0.59" fill="#000" fill-opacity="0.75"/>
<circle cx="511.1" cy="55.8" r="0.55" fill="#000" fill-opacity="0.92"/>
<circle cx="514.6" cy="76.6" r="0.62" fill="#000" fill-opacity="0.38"/>
<circle cx="514.1" cy="83.6" r="0.52" fill="#000" fill-opacity="0.94"/>
<circle cx="511.2" cy="65.9" r="0.72" fill="#000" fill-opacity="0.93"/>
<circle cx="510.1" cy="56.1" r="0.6" fill="#000" fill-opacity="0.87"/>
<circle cx="512.8" cy="68.3" r="1.17" fill="none" stroke="#111" stroke-width="0.7" stroke-opacity="0.78"/>
<circle cx="511.7" cy="72.7" r="0.63" fill="#000" fill-opacity="0.85"/>
<circle cx="510.7" cy="53.3" r="0.49" fill="#000" fill-opacity="0.93"/>
<circle cx="512.6" cy="75.9" r="0.97" fill="none" stroke="#111" stroke-width="0.7" stroke-opacity="0.64"/>
<circle cx="512.8" cy="59.9" r="0.46" fill="#000" fill-opacity="0.71"/>
<circle cx="512.1" cy="66.4" r="0.73" fill="#000" fill-opacity="0.47"/>
<circle cx="511.1" cy="85.8" r="0.76" fill="#000" fill-opacity="0.95"/>
<circle cx="510.6" cy="81.0" r="1.12" fill="none" stroke="#111" stroke-width="0.7" stroke-opacity="0.63"/>
<circle cx="511.1" cy="57.1" r="0.71" fill="#000" fill-opacity="0.9"/>
<circle cx="511.2" cy="79.6" r="0.58" fill="#000" fill-opacity="0.74"/>
<circle cx="514.3" cy="71.6" r="0.65" fill="#000" fill-opacity="0.78"/>
<circle cx="512.9" cy="72.1" r="0.5" fill="#000" fill-opacity="0.64"/>
<circle cx="514.5" cy="76.7" r="0.55" fill="#000" fill-opacity="0.75"/>
<circle cx="511.3" cy="65.5" r="1.35" fill="none" stroke="#111" stroke-width="0.7" stroke-opacity="0.89"/>
<circle cx="511.1" cy="72.2" r="0.64" fill="#000" fill-opacity="0.86"/>
<circle cx="511.0" cy="59.7" r="0.7" fill="#000" fill-opacity="0.67"/>
<circle cx="509.8" cy="69.7" r="0.67" fill="#000" fill-opacity="0.67"/>
<circle cx="510.0" cy="57.1" r="0.64" fill="#000" fill-opacity="0.9"/>
<circle cx="512.3" cy="77.7" r="0.6" fill="#000" fill-opacity="0.89"/>
<circle cx="514.1" cy="78.3" r="0.54" fill="#000" fill-opacity="0.49"/>
<circle cx="512.3" cy="72.5" r="0.73" fill="#000" fill-opacity="0.73"/>
<circle cx="511.4" cy="83.1" r="0.62" fill="#000" fill-opacity="0.51"/>
<circle cx="513.9" cy="58.7" r="1.33" fill="none" stroke="#111" stroke-width="0.7" stroke-opacity="0.92"/>
<circle cx="514.1" cy="67.7" r="0.58" fill="#000" fill-opacity="0.6"/>
<circle cx="509.8" cy="65.0" r="0.79" fill="#000" fill-opacity="0.66"/>
<circle cx="514.7" cy="85.4" r="1.28" fill="none" stroke="#111" stroke-width="0.7" stroke-opacity="0.67"/>
<circle cx="511.8" cy="57.4" r="0.78" fill="#000" fill-opacity="0.68"/>
<circle cx="511.7" cy="68.7" r="0.66" fill="#000" fill-opacity="0.93"/>
<circle cx="514.2" cy="72.3" r="0.7" fill="#000" fill-opacity="0.56"/>
<circle cx="514.1" cy="72.2" r="0.79" fill="#000" fill-opacity="0.93"/>
<circle cx="508.9" cy="56.3" r="0.92" fill="none" stroke="#111" stroke-width="0.7" stroke-opacity="0.64"/>
<circle cx="511.9" cy="79.8" r="0.58" fill="#000" fill-opacity="0.64"/>
<circle cx="512.1" cy="85.7" r="0.65" fill="#000" fill-opacity="0.92"/>
<circle cx="511.5" cy="81.4" r="0.61" fill="#000" fill-opacity="0.54"/>
<circle cx="511.4" cy="81.2" r="0.82" fill="none" stroke="#111" stroke-width="0.7" stroke-opacity="0.56"/>
<circle cx="512.2" cy="66.3" r="0.72" fill="#000" fill-opacity="0.79"/>
<circle cx="509.8" cy="50.8" r="0.66" fill="#000" fill-opacity="0.96"/>
<circle cx="511.2" cy="63.7" r="0.97" fill="none" stroke="#111" stroke-width="0.7" stroke-opacity="0.63"/>
<circle cx="512.5" cy="81.3" r="0.47" fill="#000" fill-opacity="0.83"/>
<circle cx="512.0" cy="58.4" r="1.19" fill="none" stroke="#111" stroke-width="0.7" stroke-opacity="0.79"/>
<circle cx="509.0" cy="74.5" r="0.58" fill="#000" fill-opacity="0.99"/>
<circle cx="513.0" cy="69.9" r="0.76" fill="#000" fill-opacity="0.74"/>
<circle cx="509.8" cy="76.6" r="1.09" fill="none" stroke="#111" stroke-width="0.7" stroke-opacity="0.76"/>
<circle cx="512.7" cy="83.2" r="0.57" fill="#000" fill-opacity="0.58"/>
<circle cx="510.7" cy="61.9" r="0.7" fill="#000" fill-opacity="0.72"/>
<circle cx="512.7" cy="82.7" r="0.75" fill="#000" fill-opacity="0.64"/>
<circle cx="512.0" cy="62.1" r="0.55" fill="#000" fill-opacity="0.63"/>
<circle cx="509.1" cy="59.0" r="0.73" fill="#000" fill-opacity="0.81"/>
<circle cx="510.7" cy="53.3" r="0.45" fill="#000" fill-opacity="0.91"/>
<circle cx="510.2" cy="74.2" r="1.2" fill="none" stroke="#111" stroke-width="0.7" stroke-opacity="0.78"/>
<circle cx="513.6" cy="63.1" r="0.78" fill="#000" fill-opacity="0.72"/>
<circle cx="510.6" cy="81.6" r="0.72" fill="#000" fill-opacity="0.8"/>
<circle cx="509.8" cy="83.0" r="0.75" fill="#000" fill-opacity="0.5"/>
<circle cx="514.2" cy="88.0" r="0.79" fill="#000" fill-opacity="0.65"/>
<circle cx="509.8" cy="65.0" r="1.32" fill="none" stroke="#111" stroke-width="0.7" stroke-opacity="0.75"/>
<circle cx="511.3" cy="65.5" r="0.7" fill="#000" fill-opacity="0.55"/>
<circle cx="510.6" cy="62.3" r="1.15" fill="none" stroke="#111" stroke-width="0.7" stroke-opacity="0.93"/>
<circle cx="509.1" cy="72.0" r="1.36" fill="none" stroke="#111" stroke-width="0.7" stroke-opacity="0.94"/>
<circle cx="511.5" cy="64.4" r="0.69" fill="#000" fill-opacity="0.38"/>
<circle cx="508.9" cy="76.9" r="0.64" fill="#000" fill-opacity="0.67"/>
<circle cx="510.0" cy="78.0" r="0.66" fill="#000" fill-opacity="0.95"/>
<circle cx="510.7" cy="84.6" r="1.22" fill="none" stroke="#111" stroke-width="0.7" stroke-opacity="0.85"/>
<circle cx="511.2" cy="60.4" r="0.51" fill="#000" fill-opacity="0.97"/>
<circle cx="510.1" cy="50.4" r="1.07" fill="none" stroke="#111" stroke-width="0.7" stroke-opacity="0.83"/>
<circle cx="509.6" cy="58.4" r="0.52" fill="#000" fill-opacity="0.71"/>
<circle cx="513.7" cy="60.1" r="0.65" fill="#000" fill-opacity="0.94"/>
<circle cx="510.1" cy="87.7" r="0.47" fill="#000" fill-opacity="0.4"/>
<circle cx="509.1" cy="76.9" r="0.66" fill="#000" fill-opacity="0.88"/>
<circle cx="510.1" cy="71.5" r="0.68" fill="#000" fill-opacity="0.67"/>
<circle cx="512.6" cy="75.4" r="0.68" fill="#000" fill-opacity="0.61"/>
<circle cx="513.0" cy="77.4" r="0.57" fill="#000" fill-opacity="0.71"/>
<circle cx="510.5" cy="55.1" r="0.75" fill="#000" fill-opacity="0.88"/>
<circle cx="514.3" cy="59.2" r="1.39" fill="none" stroke="#111" stroke-width="0.7" stroke-opacity="0.66"/>
<circle cx="513.8" cy="59.7" r="0.51" fill="#000" fill-opacity="0.97"/>
<circle cx="511.7" cy="71.0" r="0.49" fill="#000" fill-opacity="0.86"/>
<circle cx="509.9" cy="50.1" r="0.62" fill="#000" fill-opacity="0.81"/>
<circle cx="509.1" cy="65.0" r="0.57" fill="#000" fill-opacity="0.68"/>
<circle cx="511.0" cy="80.7" r="0.61" fill="#000" fill-opacity="0.47"/>
<circle cx="509.7" cy="72.7" r="0.69" fill="#000" fill-opacity="0.43"/>
<circle cx="511.7" cy="63.0" r="0.66" fill="#000" fill-opacity="0.53"/>
<circle cx="509.6" cy="56.4" r="0.69" fill="#000" fill-opacity="0.74"/>
<circle cx="509.8" cy="71.1" r="1.17" fill="none" stroke="#111" stroke-width="0.7" stroke-opacity="0.94"/>
<circle cx="512.0" cy="57.1" r="0.47" fill="#000" fill-opacity="0.43"/>
<circle cx="512.7" cy="80.7" r="1.01" fill="none" stroke="#111" stroke-width="0.7" stroke-opacity="0.94"/>
<circle cx="513.1" cy="68.2" r="0.7" fill="#000" fill-opacity="0.96"/>
<circle cx="510.2" cy="78.1" r="0.99" fill="none" stroke="#111" stroke-width="0.7" stroke-opacity="0.72"/>
<circle cx="511.1" cy="59.5" r="0.53" fill="#000" fill-opacity="0.82"/>
<circle cx="512.5" cy="86.2" r="0.84" fill="none" stroke="#111" stroke-width="0.7" stroke-opacity="0.67"/>
<circle cx="514.0" cy="70.9" r="0.77" fill="#000" fill-opacity="0.76"/>
<circle cx="509.7" cy="63.6" r="1.27" fill="none" stroke="#111" stroke-width="0.7" stroke-opacity="0.8"/>
<circle cx="509.5" cy="60.1" r="1.08" fill="none" stroke="#111" stroke-width="0.7" stroke-opacity="0.65"/>
<circle cx="509.2" cy="82.5" r="0.61" fill="#000" fill-opacity="0.6"/>
<circle cx="510.3" cy="72.4" r="0.53" fill="#000" fill-opacity="0.76"/>
<circle cx="511.7" cy="50.6" r="0.49" fill="#000" fill-opacity="0.83"/>
<circle cx="513.2" cy="78.4" r="1.05" fill="none" stroke="#111" stroke-width="0.7" stroke-opacity="0.88"/>
<circle cx="513.3" cy="76.6" r="0.58" fill="#000" fill-opacity="0.57"/>
<circle cx="513.8" cy="82.4" r="0.66" fill="#000" fill-opacity="0.51"/>
<circle cx="511.2" cy="60.9" r="0.69" fill="#000" fill-opacity="0.7"/>
<circle cx="511.5" cy="58.6" r="0.58" fill="#000" fill-opacity="0.74"/>
<circle cx="510.0" cy="74.0" r="0.61" fill="#000" fill-opacity="0.71"/>
<circle cx="511.0" cy="79.6" r="0.56" fill="#000" fill-opacity="0.92"/>
<circle cx="510.1" cy="78.2" r="0.76" fill="#000" fill-opacity="0.76"/>
<circle cx="512.8" cy="83.1" r="0.47" fill="#000" fill-opacity="0.92"/>
<circle cx="514.4" cy="66.0" r="0.6" fill="#000" fill-opacity="0.72"/>
<circle cx="509.4" cy="53.5" r="0.64" fill="#000" fill-opacity="0.71"/>
<circle cx="509.3" cy="82.3" r="0.54" fill="#000" fill-opacity="0.76"/>
<circle cx="514.0" cy="71.2" r="0.65" fill="#000" fill-opacity="0.62"/>
<circle cx="514.4" cy="78.2" r="0.77" fill="#000" fill-opacity="0.66"/>
<circle cx="509.1" cy="71.6" r="0.49" fill="#000" fill-opacity="0.97"/>
<circle cx="510.8" cy="50.7" r="1.01" fill="none" stroke="#111" stroke-width="0.7" stroke-opacity="0.69"/>
<circle cx="509.7" cy="50.2" r="0.62" fill="#000" fill-opacity="0.68"/>
<circle cx="512.6" cy="77.1" r="0.55" fill="#000" fill-opacity="0.54"/>
<circle cx="511.8" cy="62.1" r="0.77" fill="#000" fill-opacity="0.64"/>
<circle cx="513.3" cy="65.3" r="0.78" fill="#000" fill-opacity="0.67"/>
<circle cx="511.8" cy="78.3" r="0.6" fill="#000" fill-opacity="0.69"/>
<circle cx="513.1" cy="70.8" r="0.79" fill="#000" fill-opacity="0.7"/>
<circle cx="509.8" cy="57.7" r="0.77" fill="#000" fill-opacity="0.37"/>
<circle cx="509.0" cy="51.6" r="0.78" fill="#000" fill-opacity="0.97"/>
<circle cx="509.1" cy="64.4" r="0.7" fill="#000" fill-opacity="0.78"/>
<circle cx="509.8" cy="76.6" r="0.59" fill="#000" fill-opacity="0.81"/>
<circle cx="509.7" cy="71.0" r="0.48" fill="#000" fill-opacity="0.6"/>
<circle cx="509.9" cy="79.0" r="1.29" fill="none" stroke="#111" stroke-width="0.7" stroke-opacity="0.7"/>
<circle cx="513.1" cy="78.4" r="0.57" fill="#000" fill-opacity="0.76"/>
<circle cx="510.5" cy="81.2" r="1.18" fill="none" stroke="#111" stroke-width="0.7" stroke-opacity="0.92"/>
<circle cx="512.1" cy="61.7" r="0.48" fill="#000" fill-opacity="0.89"/>
<circle cx="508.9" cy="61.7" r="0.6" fill="#000" fill-opacity="0.59"/>
<circle cx="515.4" cy="89.9" r="0.6" fill="#000" fill-opacity="0.54"/>
<circle cx="514.9" cy="114.7" r="0.59" fill="#000" fill-opacity="0.25"/>
<circle cx="511.3" cy="112.8" r="0.67" fill="#000" fill-opacity="0.84"/>
<circle cx="514.0" cy="97.7" r="0.54" fill="#000" fill-opacity="0.88"/>
<circle cx="515.3" cy="123.9" r="0.79" fill="#000" fill-opacity="0.36"/>
<circle cx="506.9" cy="116.4" r="0.87" fill="none" stroke="#111" stroke-width="0.7" stroke-opacity="0.8"/>
<circle cx="511.0" cy="125.0" r="0.52" fill="#000" fill-opacity="0.82"/>
<circle cx="509.3" cy="93.3" r="0.63" fill="#000" fill-opacity="0.75"/>
<circle cx="512.3" cy="120.2" r="0.74" fill="#000" fill-opacity="0.82"/>
<circle cx="512.8" cy="126.7" r="0.64" fill="#000" fill-opacity="0.68"/>
<circle cx="513.2" cy="104.4" r="0.75" fill="#000" fill-opacity="0.82"/>
<circle cx="516.5" cy="123.7" r="0.97" fill="none" stroke="#111" stroke-width="0.7" stroke-opacity="0.68"/>
<circle cx="514.8" cy="106.5" r="0.67" fill="#000" fill-opacity="0.69"/>
<circle cx="515.2" cy="114.9" r="1.32" fill="none" stroke="#111" stroke-width="0.7" stroke-opacity="0.87"/>
<circle cx="512.9" cy="119.1" r="0.71" fill="#000" fill-opacity="0.99"/>
<circle cx="516.3" cy="108.3" r="0.72" fill="#000" fill-opacity="0.51"/>
<circle cx="515.4" cy="92.7" r="1.06" fill="none" stroke="#111" stroke-width="0.7" stroke-opacity="0.77"/>
<circle cx="508.3" cy="121.5" r="0.75" fill="#000" fill-opacity="0.87"/>
<circle cx="513.5" cy="93.5" r="0.78" fill="#000" fill-opacity="0.69"/>
<circle cx="508.1" cy="100.0" r="0.51" fill="#000" fill-opacity="0.75"/>
<circle cx="508.3" cy="121.3" r="1.35" fill="none" stroke="#111" stroke-width="0.7" stroke-opacity="0.84"/>
<circle cx="506.9" cy="102.8" r="0.52" fill="#000" fill-opacity="0.66"/>
<circle cx="513.7" cy="103.1" r="0.54" fill="#000" fill-opacity="0.61"/>
<circle cx="513.6" cy="95.0" r="0.51" fill="#000" fill-opacity="0.7"/>
<circle cx="514.0" cy="106.9" r="0.74" fill="#000" fill-opacity="0.87"/>
<circle cx="516.0" cy="126.4" r="0.75" fill="#000" fill-opacity="0.75"/>
<circle cx="510.9" cy="106.6" r="0.78" fill="#000" fill-opacity="0.7"/>
<circle cx="511.5" cy="120.4" r="0.77" fill="#000" fill-opacity="0.72"/>
<circle cx="511.5" cy="119.3" r="0.49" fill="#000" fill-opacity="0.81"/>
<circle cx="506.0" cy="93.1" r="0.64" fill="#000" fill-opacity="0.8"/>
<circle cx="513.4" cy="89.3" r="0.7" fill="#000" fill-opacity="0.9"/>
<circle cx="510.6" cy="98.8" r="0.61" fill="#000" fill-opacity="0.53"/>
<circle cx="510.4" cy="96.3" r="0.65" fill="#000" fill-opacity="0.82"/>
<circle cx="512.1" cy="96.2" r="0.78" fill="#000" fill-opacity="0.94"/>
<circle cx="511.8" cy="108.6" r="1.1" fill="none" stroke="#111" stroke-width="0.7" stroke-opacity="0.73"/>
<circle cx="510.5" cy="90.7" r="0.62" fill="#000" fill-opacity="0.22"/>
<circle cx="509.3" cy="108.7" r="0.6" fill="#000" fill-opacity="0.94"/>
<circle cx="509.1" cy="94.5" r="0.69" fill="#000" fill-opacity="0.63"/>
<circle cx="511.1" cy="114.5" r="0.77" fill="#000" fill-opacity="0.93"/>
<circle cx="513.3" cy="114.8" r="0.56" fill="#000" fill-opacity="0.78"/>
<circle cx="507.4" cy="90.8" r="0.46" fill="#000" fill-opacity="0.56"/>
<circle cx="509.2" cy="114.8" r="0.58" fill="#000" fill-opacity="0.52"/>
<circle cx="513.5" cy="126.0" r="0.85" fill="none" stroke="#111" stroke-width="0.7" stroke-opacity="0.74"/>
<circle cx="509.7" cy="122.9" r="1.28" fill="none" stroke="#111" stroke-width="0.7" stroke-opacity="0.62"/>
<circle cx="514.2" cy="97.2" r="0.76" fill="#000" fill-opacity="0.51"/>
<circle cx="514.3" cy="112.4" r="0.72" fill="#000" fill-opacity="0.76"/>
<circle cx="513.3" cy="121.8" r="0.65" fill="#000" fill-opacity="0.82"/>
<circle cx="507.0" cy="122.4" r="0.57" fill="#000" fill-opacity="0.6"/>
<circle cx="513.6" cy="91.5" r="0.52" fill="#000" fill-opacity="0.21"/>
<circle cx="515.6" cy="114.8" r="0.61" fill="#000" fill-opacity="0.83"/>
<circle cx="516.1" cy="94.3" r="0.59" fill="#000" fill-opacity="0.98"/>
<circle cx="513.7" cy="92.4" r="0.95" fill="none" stroke="#111" stroke-width="0.7" stroke-opacity="0.65"/>
<circle cx="512.7" cy="114.3" r="0.63" fill="#000" fill-opacity="0.53"/>
<circle cx="509.8" cy="104.6" r="0.75" fill="#000" fill-opacity="0.69"/>
<circle cx="514.0" cy="122.8" r="0.77" fill="#000" fill-opacity="0.67"/>
<circle cx="513.0" cy="117.0" r="0.76" fill="#000" fill-opacity="0.71"/>
<circle cx="516.0" cy="104.5" r="0.54" fill="#000" fill-opacity="0.54"/>
<circle cx="509.3" cy="120.6" r="0.78" fill="#000" fill-opacity="0.94"/>
<circle cx="515.0" cy="101.6" r="0.64" fill="#000" fill-opacity="0.66"/>
<circle cx="514.1" cy="98.6" r="0.78" fill="#000" fill-opacity="0.96"/>
<circle cx="516.1" cy="89.9" r="0.69" fill="#000" fill-opacity="0.46"/>
<circle cx="514.1" cy="110.5" r="0.68" fill="#000" fill-opacity="0.57"/>
<circle cx="511.7" cy="119.0" r="0.47" fill="#000" fill-opacity="0.86"/>
<circle cx="507.5" cy="108.2" r="0.64" fill="#000" fill-opacity="0.62"/>
<circle cx="516.5" cy="112.7" r="0.53" fill="#000" fill-opacity="0.84"/>
<circle cx="510.5" cy="114.2" r="0.55" fill="#000" fill-opacity="0.96"/>
<circle cx="511.6" cy="125.7" r="0.69" fill="#000" fill-opacity="0.87"/>
<circle cx="515.3" cy="99.3" r="1.36" fill="none" stroke="#111" stroke-width="0.7" stroke-opacity="0.72"/>
<circle cx="512.2" cy="100.3" r="0.75" fill="#000" fill-opacity="0.75"/>
<circle cx="512.2" cy="92.7" r="0.85" fill="none" stroke="#111" stroke-width="0.7" stroke-opacity="0.74"/>
<circle cx="509.8" cy="90.3" r="0.74" fill="#000" fill-opacity="0.84"/>
<circle cx="509.5" cy="99.8" r="0.6" fill="#000" fill-opacity="0.77"/>
<circle cx="510.4" cy="122.8" r="0.64" fill="#000" fill-opacity="0.53"/>
<circle cx="509.1" cy="88.8" r="0.46" fill="#000" fill-opacity="0.57"/>
<circle cx="507.6" cy="88.1" r="0.46" fill="#000" fill-opacity="0.87"/>
<circle cx="510.3" cy="113.4" r="0.64" fill="#000" fill-opacity="0.6"/>
<circle cx="508.4" cy="120.5" r="0.71" fill="#000" fill-opacity="0.69"/>
<circle cx="506.4" cy="95.6" r="0.67" fill="#000" fill-opacity="0.55"/>
<circle cx="507.6" cy="103.4" r="0.59" fill="#000" fill-opacity="0.87"/>
<circle cx="506.1" cy="111.7" r="0.47" fill="#000" fill-opacity="0.77"/>
<circle cx="515.1" cy="121.5" r="0.61" fill="#000" fill-opacity="0.65"/>
<circle cx="509.9" cy="120.7" r="0.59" fill="#000" fill-opacity="0.74"/>
<circle cx="515.4" cy="123.6" r="0.52" fill="#000" fill-opacity="0.32"/>
<circle cx="508.9" cy="101.4" r="0.46" fill="#000" fill-opacity="0.7"/>
<circle cx="513.6" cy="122.5" r="0.78" fill="#000" fill-opacity="0.76"/>
<circle cx="506.2" cy="125.9" r="0.89" fill="none" stroke="#111" stroke-width="0.7" stroke-opacity="0.62"/>
<circle cx="512.6" cy="107.0" r="0.58" fill="#000" fill-opacity="0.26"/>
<circle cx="512.9" cy="91.5" r="0.67" fill="#000" fill-opacity="0.76"/>
<circle cx="509.4" cy="123.4" r="0.67" fill="#000" fill-opacity="0.58"/>
<circle cx="512.7" cy="111.5" r="0.54" fill="#000" fill-opacity="0.85"/>
<circle cx="506.8" cy="105.6" r="0.52" fill="#000" fill-opacity="0.68"/>
<circle cx="514.0" cy="108.6" r="0.5" fill="#000" fill-opacity="0.99"/>
<circle cx="506.9" cy="106.4" r="0.67" fill="#000" fill-opacity="0.97"/>
<circle cx="513.5" cy="96.3" r="0.52" fill="#000" fill-opacity="0.79"/>
<circle cx="509.5" cy="117.3" r="0.64" fill="#000" fill-opacity="0.81"/>
<circle cx="514.0" cy="109.2" r="0.75" fill="#000" fill-opacity="0.9"/>
<circle cx="513.7" cy="95.2" r="0.91" fill="none" stroke="#111" stroke-width="0.7" stroke-opacity="0.7"/>
<circle cx="512.9" cy="95.4" r="0.67" fill="#000" fill-opacity="0.22"/>
<circle cx="507.3" cy="109.3" r="0.59" fill="#000" fill-opacity="0.86"/>
<circle cx="514.2" cy="108.5" r="0.57" fill="#000" fill-opacity="0.94"/>
<circle cx="511.1" cy="117.4" r="0.6" fill="#000" fill-opacity="0.76"/>
<circle cx="515.9" cy="88.5" r="0.54" fill="#000" fill-opacity="0.54"/>
<circle cx="508.4" cy="107.0" r="0.92" fill="none" stroke="#111" stroke-width="0.7" stroke-opacity="0.63"/>
<circle cx="515.1" cy="103.1" r="0.68" fill="#000" fill-opacity="0.67"/>
<circle cx="509.7" cy="97.9" r="0.57" fill="#000" fill-opacity="0.75"/>
<circle cx="510.6" cy="88.5" r="0.69" fill="#000" fill-opacity="0.65"/>
<circle cx="514.2" cy="95.4" r="1.29" fill="none" stroke="#111" stroke-width="0.7" stroke-opacity="0.77"/>
<circle cx="510.2" cy="114.2" r="0.69" fill="#000" fill-opacity="0.9"/>
<circle cx="511.6" cy="126.0" r="0.94" fill="none" stroke="#111" stroke-width="0.7" stroke-opacity="0.61"/>
<circle cx="508.1" cy="107.8" r="0.73" fill="#000" fill-opacity="0.62"/>
<circle cx="516.1" cy="108.6" r="0.59" fill="#000" fill-opacity="0.91"/>
<circle cx="511.0" cy="113.2" r="0.78" fill="#000" fill-opacity="0.71"/>
<circle cx="506.2" cy="112.3" r="0.75" fill="#000" fill-opacity="0.79"/>
<circle cx="514.4" cy="114.6" r="0.68" fill="#000" fill-opacity="0.54"/>
<circle cx="515.4" cy="97.4" r="0.54" fill="#000" fill-opacity="0.72"/>
<circle cx="506.8" cy="102.6" r="0.58" fill="#000" fill-opacity="0.91"/>
<circle cx="506.8" cy="94.9" r="0.74" fill="#000" fill-opacity="0.94"/>
<circle cx="508.1" cy="121.7" r="0.48" fill="#000" fill-opacity="0.69"/>
<circle cx="515.8" cy="97.6" r="0.67" fill="#000" fill-opacity="0.94"/>
<circle cx="515.6" cy="120.3" r="0.74" fill="#000" fill-opacity="1.0"/>
<circle cx="507.5" cy="111.1" r="0.7" fill="#000" fill-opacity="0.89"/>
<circle cx="513.8" cy="115.0" r="0.62" fill="#000" fill-opacity="0.73"/>
<circle cx="510.8" cy="109.5" r="0.57" fill="#000" fill-opacity="0.61"/>
<circle cx="506.4" cy="110.3" r="0.54" fill="#000" fill-opacity="0.51"/>
<circle cx="512.4" cy="106.8" r="0.77" fill="#000" fill-opacity="0.8"/>
<circle cx="508.8" cy="92.9" r="1.33" fill="none" stroke="#111" stroke-width="0.7" stroke-opacity="0.85"/>
<circle cx="515.6" cy="115.7" r="0.79" fill="#000" fill-opacity="0.57"/>
<circle cx="510.2" cy="102.8" r="0.72" fill="#000" fill-opacity="0.71"/>
<circle cx="516.0" cy="114.7" r="0.88" fill="none" stroke="#111" stroke-width="0.7" stroke-opacity="0.68"/>
<circle cx="514.6" cy="94.8" r="0.52" fill="#000" fill-opacity="0.72"/>
<circle cx="512.4" cy="95.4" r="0.61" fill="#000" fill-opacity="0.82"/>
<circle cx="516.3" cy="92.3" r="1.0" fill="none" stroke="#111" stroke-width="0.7" stroke-opacity="0.79"/>
<circle cx="506.2" cy="107.7" r="0.68" fill="#000" fill-opacity="0.53"/>
<circle cx="507.0" cy="116.7" r="0.51" fill="#000" fill-opacity="0.37"/>
<circle cx="513.7" cy="106.1" r="0.77" fill="#000" fill-opacity="0.64"/>
<circle cx="508.7" cy="108.2" r="0.58" fill="#000" fill-opacity="0.75"/>
<circle cx="513.9" cy="92.8" r="0.7" fill="#000" fill-opacity="0.74"/>
<circle cx="513.5" cy="95.1" r="1.28" fill="none" stroke="#111" stroke-width="0.7" stroke-opacity="0.94"/>
<circle cx="513.4" cy="120.0" r="0.61" fill="#000" fill-opacity="0.75"/>
<circle cx="511.8" cy="102.3" r="0.84" fill="none" stroke="#111" stroke-width="0.7" stroke-opacity="0.67"/>
<circle cx="512.5" cy="125.5" r="0.7" fill="#000" fill-opacity="0.75"/>
<circle cx="506.3" cy="111.9" r="0.81" fill="none" stroke="#111" stroke-width="0.7" stroke-opacity="0.72"/>
<circle cx="507.7" cy="89.5" r="1.36" fill="none" stroke="#111" stroke-width="0.7" stroke-opacity="0.67"/>
<circle cx="514.6" cy="97.0" r="0.56" fill="#000" fill-opacity="0.95"/>
<circle cx="506.5" cy="94.7" r="0.69" fill="#000" fill-opacity="0.55"/>
<circle cx="511.9" cy="104.9" r="0.69" fill="#000" fill-opacity="0.88"/>
<circle cx="507.2" cy="107.4" r="0.87" fill="none" stroke="#111" stroke-width="0.7" stroke-opacity="0.82"/>
<circle cx="508.4" cy="88.6" r="0.75" fill="#000" fill-opacity="0.54"/>
<circle cx="508.2" cy="102.6" r="0.63" fill="#000" fill-opacity="0.56"/>
<circle cx="507.4" cy="112.8" r="1.11" fill="none" stroke="#111" stroke-width="0.7" stroke-opacity="0.87"/>
<circle cx="512.6" cy="98.7" r="0.65" fill="#000" fill-opacity="0.65"/>
<circle cx="513.1" cy="117.2" r="0.68" fill="#000" fill-opacity="0.75"/>
<circle cx="507.1" cy="125.8" r="1.1" fill="none" stroke="#111" stroke-width="0.7" stroke-opacity="0.92"/>
<circle cx="515.6" cy="104.9" r="0.63" fill="#000" fill-opacity="0.97"/>
<circle cx="510.5" cy="107.6" r="0.59" fill="#000" fill-opacity="0.78"/>
<circle cx="506.6" cy="111.2" r="0.67" fill="#000" fill-opacity="0.93"/>
<circle cx="512.0" cy="113.6" r="0.52" fill="#000" fill-opacity="0.84"/>
<circle cx="510.3" cy="103.3" r="0.92" fill="none" stroke="#111" stroke-width="0.7" stroke-opacity="0.77"/>
<circle cx="516.1" cy="104.0" r="0.56" fill="#000" fill-opacity="0.51"/>
<circle cx="506.0" cy="119.2" r="0.47" fill="#000" fill-opacity="0.63"/>
<circle cx="507.3" cy="99.2" r="0.47" fill="#000" fill-opacity="0.55"/>
<circle cx="506.8" cy="99.6" r="0.64" fill="#000" fill-opacity="0.52"/>
<circle cx="507.4" cy="112.7" r="0.51" fill="#000" fill-opacity="0.97"/>
<circle cx="514.8" cy="122.5" r="0.82" fill="none" stroke="#111" stroke-width="0.7" stroke-opacity="0.56"/>
<circle cx="515.9" cy="108.4" r="0.99" fill="none" stroke="#111" stroke-width="0.7" stroke-opacity="0.74"/>
<circle cx="515.9" cy="109.8" r="0.57" fill="#000" fill-opacity="0.69"/>
<circle cx="511.8" cy="100.4" r="1.01" fill="none" stroke="#111" stroke-width="0.7" stroke-opacity="0.94"/>
<circle cx="508.2" cy="91.7" r="0.55" fill="#000" fill-opacity="0.85"/>
<circle cx="507.8" cy="94.0" r="0.7" fill="#000" fill-opacity="1.0"/>
<circle cx="511.3" cy="101.4" r="1.38" fill="none" stroke="#111" stroke-width="0.7" stroke-opacity="0.83"/>
<circle cx="508.0" cy="113.3" r="0.74" fill="#000" fill-opacity="0.57"/>
<circle cx="511.7" cy="121.8" r="0.78" fill="#000" fill-opacity="0.58"/>
<circle cx="513.5" cy="94.8" r="0.75" fill="#000" fill-opacity="0.66"/>
<circle cx="512.5" cy="111.9" r="0.79" fill="#000" fill-opacity="0.73"/>
<circle cx="511.4" cy="113.7" r="0.52" fill="#000" fill-opacity="0.77"/>
<circle cx="511.5" cy="104.0" r="0.51" fill="#000" fill-opacity="0.89"/>
<circle cx="509.7" cy="100.0" r="0.46" fill="#000" fill-opacity="0.59"/>
<circle cx="515.9" cy="126.3" r="0.63" fill="#000" fill-opacity="0.8"/>
<circle cx="514.4" cy="116.4" r="0.66" fill="#000" fill-opacity="0.86"/>
<circle cx="511.4" cy="104.3" r="0.77" fill="#000" fill-opacity="0.81"/>
<circle cx="506.2" cy="126.9" r="0.48" fill="#000" fill-opacity="0.63"/>
<circle cx="514.8" cy="102.2" r="0.77" fill="#000" fill-opacity="0.95"/>
<circle cx="512.5" cy="112.6" r="0.77" fill="#000" fill-opacity="0.56"/>
<circle cx="515.5" cy="96.5" r="0.51" fill="#000" fill-opacity="0.73"/>
<circle cx="508.2" cy="96.9" r="1.28" fill="none" stroke="#111" stroke-width="0.7" stroke-opacity="0.61"/>
<circle cx="515.1" cy="111.4" r="0.6" fill="#000" fill-opacity="0.56"/>
<circle cx="512.5" cy="104.9" r="0.77" fill="#000" fill-opacity="1.0"/>
<circle cx="512.2" cy="107.2" r="0.67" fill="#000" fill-opacity="0.81"/>
<circle cx="513.7" cy="98.1" r="0.66" fill="#000" fill-opacity="0.68"/>
<circle cx="506.4" cy="98.8" r="0.75" fill="#000" fill-opacity="0.99"/>
<circle cx="506.4" cy="110.6" r="0.46" fill="#000" fill-opacity="1.0"/>
<circle cx="510.1" cy="121.5" r="0.84" fill="none" stroke="#111" stroke-width="0.7" stroke-opacity="0.61"/>
<circle cx="515.0" cy="96.7" r="0.75" fill="#000" fill-opacity="0.5"/>
<circle cx="514.1" cy="100.4" r="0.5" fill="#000" fill-opacity="0.81"/>
<circle cx="510.4" cy="92.2" r="0.62" fill="#000" fill-opacity="0.59"/>
<circle cx="512.9" cy="88.4" r="0.56" fill="#000" fill-opacity="0.86"/>
<circle cx="516.3" cy="104.1" r="0.94" fill="none" stroke="#111" stroke-width="0.7" stroke-opacity="0.87"/>
<circle cx="507.6" cy="104.1" r="0.48" fill="#000" fill-opacity="0.66"/>
<circle cx="510.1" cy="117.6" r="0.55" fill="#000" fill-opacity="0.68"/>
<circle cx="515.9" cy="92.4" r="0.56" fill="#000" fill-opacity="0.71"/>
<circle cx="514.4" cy="94.9" r="0.73" fill="#000" fill-opacity="0.68"/>
<circle cx="507.0" cy="114.5" r="0.57" fill="#000" fill-opacity="0.67"/>
<circle cx="509.8" cy="123.6" r="0.49" fill="#000" fill-opacity="0.55"/>
<circle cx="512.8" cy="88.4" r="0.59" fill="#000" fill-opacity="0.35"/>
<circle cx="511.1" cy="106.8" r="0.63" fill="#000" fill-opacity="0.65"/>
<circle cx="512.3" cy="107.6" r="0.77" fill="#000" fill-opacity="0.72"/>
<circle cx="509.9" cy="91.5" r="0.79" fill="#000" fill-opacity="0.82"/>
<circle cx="506.5" cy="96.9" r="1.16" fill="none" stroke="#111" stroke-width="0.7" stroke-opacity="0.78"/>
<circle cx="513.9" cy="120.1" r="0.84" fill="none" stroke="#111" stroke-width="0.7" stroke-opacity="0.85"/>
<circle cx="514.5" cy="97.3" r="0.74" fill="#000" fill-opacity="0.68"/>
<circle cx="504.2" cy="133.0" r="0.6" fill="#000" fill-opacity="0.26"/>
<circle cx="504.9" cy="130.9" r="0.58" fill="#000" fill-opacity="0.87"/>
<circle cx="513.4" cy="128.9" r="0.49" fill="#000" fill-opacity="0.49"/>
<circle cx="503.0" cy="129.1" r="0.86" fill="none" stroke="#111" stroke-width="0.7" stroke-opacity="0.62"/>
<circle cx="510.8" cy="127.5" r="1.37" fill="none" stroke="#111" stroke-width="0.7" stroke-opacity="0.74"/>
<circle cx="502.8" cy="127.3" r="0.73" fill="#000" fill-opacity="0.39"/>
<circle cx="502.8" cy="129.9" r="1.39" fill="none" stroke="#111" stroke-width="0.7" stroke-opacity="0.62"/>
<circle cx="512.1" cy="132.4" r="0.62" fill="#000" fill-opacity="0.89"/>
<circle cx="510.3" cy="131.5" r="1.06" fill="none" stroke="#111" stroke-width="0.7" stroke-opacity="0.65"/>
<circle cx="510.3" cy="125.7" r="1.4" fill="none" stroke="#111" stroke-width="0.7" stroke-opacity="0.67"/>
<circle cx="504.8" cy="132.8" r="0.57" fill="#000" fill-opacity="0.55"/>
<circle cx="515.5" cy="130.1" r="0.92" fill="none" stroke="#111" stroke-width="0.7" stroke-opacity="0.88"/>
<circle cx="512.8" cy="130.8" r="0.54" fill="#000" fill-opacity="0.52"/>
<circle cx="502.6" cy="132.7" r="1.12" fill="none" stroke="#111" stroke-width="0.7" stroke-opacity="0.58"/>
<circle cx="513.9" cy="128.0" r="0.69" fill="#000" fill-opacity="0.98"/>
<circle cx="511.8" cy="125.7" r="1.05" fill="none" stroke="#111" stroke-width="0.7" stroke-opacity="0.67"/>
<circle cx="517.0" cy="125.0" r="0.73" fill="#000" fill-opacity="0.84"/>
<circle cx="505.3" cy="130.9" r="1.21" fill="none" stroke="#111" stroke-width="0.7" stroke-opacity="0.72"/>
<circle cx="516.3" cy="128.2" r="0.52" fill="#000" fill-opacity="0.51"/>
<circle cx="502.6" cy="127.6" r="0.52" fill="#000" fill-opacity="0.65"/>
<circle cx="513.8" cy="127.0" r="1.18" fill="none" stroke="#111" stroke-width="0.7" stroke-opacity="0.79"/>
<circle cx="505.3" cy="133.2" r="1.24" fill="none" stroke="#111" stroke-width="0.7" stroke-opacity="0.69"/>
<circle cx="507.0" cy="132.1" r="1.35" fill="none" stroke="#111" stroke-width="0.7" stroke-opacity="0.85"/>
<circle cx="517.4" cy="133.8" r="0.84" fill="none" stroke="#111" stroke-width="0.7" stroke-opacity="0.65"/>
<circle cx="514.3" cy="127.4" r="0.53" fill="#000" fill-opacity="0.69"/>
<circle cx="515.2" cy="133.5" r="1.13" fill="none" stroke="#111" stroke-width="0.7" stroke-opacity="0.62"/>
<circle cx="517.0" cy="132.8" r="0.72" fill="#000" fill-opacity="0.68"/>
<circle cx="507.9" cy="133.9" r="0.62" fill="#000" fill-opacity="0.49"/>
<circle cx="516.2" cy="132.6" r="0.88" fill="none" stroke="#111" stroke-width="0.7" stroke-opacity="0.86"/>
<circle cx="508.8" cy="132.9" r="1.19" fill="none" stroke="#111" stroke-width="0.7" stroke-opacity="0.93"/>
<circle cx="514.7" cy="126.1" r="0.7" fill="#000" fill-opacity="0.79"/>
<circle cx="511.3" cy="132.4" r="0.78" fill="#000" fill-opacity="0.81"/>
<circle cx="508.0" cy="133.8" r="1.04" fill="none" stroke="#111" stroke-width="0.7" stroke-opacity="0.78"/>
<circle cx="516.1" cy="127.3" r="0.98" fill="none" stroke="#111" stroke-width="0.7" stroke-opacity="0.87"/>
<circle cx="505.2" cy="127.2" r="0.92" fill="none" stroke="#111" stroke-width="0.7" stroke-opacity="0.84"/>
<circle cx="505.9" cy="132.8" r="0.75" fill="#000" fill-opacity="0.7"/>
<circle cx="506.6" cy="132.9" r="0.78" fill="#000" fill-opacity="0.63"/>
<circle cx="511.1" cy="129.9" r="0.52" fill="#000" fill-opacity="0.92"/>
<circle cx="512.8" cy="125.0" r="0.98" fill="none" stroke="#111" stroke-width="0.7" stroke-opacity="0.57"/>
<circle cx="505.5" cy="130.1" r="1.12" fill="none" stroke="#111" stroke-width="0.7" stroke-opacity="0.7"/>
<circle cx="506.2" cy="127.9" r="0.71" fill="#000" fill-opacity="0.35"/>
<circle cx="505.3" cy="127.9" r="0.52" fill="#000" fill-opacity="0.79"/>
<circle cx="503.3" cy="129.4" r="0.8" fill="none" stroke="#111" stroke-width="0.7" stroke-opacity="0.66"/>
<circle cx="514.6" cy="132.5" r="1.36" fill="none" stroke="#111" stroke-width="0.7" stroke-opacity="0.72"/>
<circle cx="513.7" cy="130.3" r="0.91" fill="none" stroke="#111" stroke-width="0.7" stroke-opacity="0.89"/>
<circle cx="513.7" cy="127.3" r="0.56" fill="#000" fill-opacity="0.39"/>
<circle cx="506.8" cy="125.7" r="1.37" fill="none" stroke="#111" stroke-width="0.7" stroke-opacity="0.81"/>
<circle cx="508.7" cy="126.9" r="0.8" fill="none" stroke="#111" stroke-width="0.7" stroke-opacity="0.76"/>
<circle cx="507.7" cy="128.7" r="0.72" fill="#000" fill-opacity="0.4"/>
<circle cx="515.1" cy="133.3" r="0.7" fill="#000" fill-opacity="0.54"/>
<circle cx="509.1" cy="125.0" r="1.02" fill="none" stroke="#111" stroke-width="0.7" stroke-opacity="0.83"/>
<circle cx="512.7" cy="125.3" r="0.82" fill="none" stroke="#111" stroke-width="0.7" stroke-opacity="0.75"/>
<circle cx="504.9" cy="131.8" r="0.77" fill="#000" fill-opacity="0.96"/>
<circle cx="508.1" cy="127.3" r="0.51" fill="#000" fill-opacity="0.83"/>
<circle cx="503.7" cy="127.8" r="0.7" fill="#000" fill-opacity="0.68"/>
<circle cx="510.4" cy="126.9" r="0.68" fill="#000" fill-opacity="0.82"/>
<circle cx="506.4" cy="128.6" r="1.22" fill="none" stroke="#111" stroke-width="0.7" stroke-opacity="0.69"/>
<circle cx="507.9" cy="125.3" r="0.67" fill="#000" fill-opacity="0.53"/>
<circle cx="510.9" cy="131.7" r="1.19" fill="none" stroke="#111" stroke-width="0.7" stroke-opacity="0.86"/>
<circle cx="516.6" cy="126.8" r="0.8" fill="#000" fill-opacity="0.82"/>
<circle cx="504.9" cy="129.7" r="0.85" fill="none" stroke="#111" stroke-width="0.7" stroke-opacity="0.91"/>
<circle cx="503.1" cy="133.7" r="0.66" fill="#000" fill-opacity="0.8"/>
<circle cx="505.7" cy="131.0" r="1.23" fill="none" stroke="#111" stroke-width="0.7" stroke-opacity="0.95"/>
<circle cx="517.0" cy="133.1" r="1.26" fill="none" stroke="#111" stroke-width="0.7" stroke-opacity="0.82"/>
<circle cx="509.3" cy="125.5" r="1.24" fill="none" stroke="#111" stroke-width="0.7" stroke-opacity="0.65"/>
<circle cx="511.0" cy="130.0" r="0.77" fill="#000" fill-opacity="0.85"/>
<circle cx="504.2" cy="129.3" r="0.57" fill="#000" fill-opacity="0.64"/>
<circle cx="515.0" cy="126.1" r="1.23" fill="none" stroke="#111" stroke-width="0.7" stroke-opacity="0.94"/>
<circle cx="503.4" cy="127.1" r="0.86" fill="none" stroke="#111" stroke-width="0.7" stroke-opacity="0.95"/>
<circle cx="505.0" cy="126.0" r="1.4" fill="none" stroke="#111" stroke-width="0.7" stroke-opacity="0.79"/>
<circle cx="522.1" cy="102.1" r="1.3" fill="none" stroke="#111" stroke-width="0.7" stroke-opacity="0.87"/>
<circle cx="521.9" cy="106.4" r="0.94" fill="none" stroke="#111" stroke-width="0.7" stroke-opacity="0.64"/>
<circle cx="519.7" cy="117.8" r="0.62" fill="#000" fill-opacity="0.75"/>
<circle cx="520.6" cy="125.6" r="1.34" fill="none" stroke="#111" stroke-width="0.7" stroke-opacity="0.87"/>
<circle cx="521.5" cy="117.1" r="0.52" fill="#000" fill-opacity="0.84"/>
<circle cx="520.4" cy="119.2" r="0.46" fill="#000" fill-opacity="0.93"/>
<circle cx="521.3" cy="101.1" r="0.69" fill="#000" fill-opacity="0.81"/>
<circle cx="521.5" cy="112.3" r="0.55" fill="#000" fill-opacity="0.31"/>
<circle cx="520.5" cy="116.9" r="0.65" fill="#000" fill-opacity="0.47"/>
<circle cx="521.2" cy="110.0" r="0.97" fill="none" stroke="#111" stroke-width="0.7" stroke-opacity="0.59"/>
<circle cx="520.2" cy="120.6" r="0.98" fill="none" stroke="#111" stroke-width="0.7" stroke-opacity="0.93"/>
<circle cx="523.4" cy="122.6" r="0.68" fill="#000" fill-opacity="0.24"/>
<circle cx="520.0" cy="111.6" r="0.52" fill="#000" fill-opacity="0.35"/>
<circle cx="523.6" cy="116.8" r="1.39" fill="none" stroke="#111" stroke-width="0.7" stroke-opacity="0.8"/>
<circle cx="520.7" cy="111.7" r="0.74" fill="#000" fill-opacity="0.71"/>
<circle cx="521.4" cy="107.9" r="0.78" fill="#000" fill-opacity="0.67"/>
<circle cx="521.8" cy="106.2" r="1.25" fill="none" stroke="#111" stroke-width="0.7" stroke-opacity="0.93"/>
<circle cx="521.5" cy="110.1" r="0.76" fill="#000" fill-opacity="0.41"/>
<circle cx="521.0" cy="113.6" r="0.52" fill="#000" fill-opacity="0.97"/>
<circle cx="520.4" cy="113.5" r="0.76" fill="#000" fill-opacity="0.87"/>
<circle cx="521.4" cy="123.3" r="0.6" fill="#000" fill-opacity="0.63"/>
<circle cx="521.7" cy="122.2" r="0.79" fill="#000" fill-opacity="0.79"/>
<line x1="510.5" y1="55" x2="513.5" y2="47" stroke="#222" stroke-width="1.0"/>
<circle cx="511.5" cy="37.1" r="0.48" fill="#000" fill-opacity="0.53"/>
<circle cx="511.8" cy="38.4" r="0.82" fill="none" stroke="#111" stroke-width="0.7" stroke-opacity="0.88"/>
<circle cx="510.0" cy="45.3" r="0.55" fill="#000" fill-opacity="0.93"/>
<circle cx="512.7" cy="38.7" r="0.67" fill="#000" fill-opacity="0.81"/>
<circle cx="511.1" cy="44.7" r="0.51" fill="#000" fill-opacity="0.66"/>
<circle cx="511.9" cy="39.7" r="0.62" fill="#000" fill-opacity="0.76"/>
<circle cx="514.7" cy="38.2" r="0.8" fill="#000" fill-opacity="0.9"/>
<circle cx="523.9" cy="77.6" r="0.46" fill="#000" fill-opacity="0.77"/>
<circle cx="523.8" cy="86.4" r="0.61" fill="#000" fill-opacity="0.78"/>
<circle cx="516.4" cy="72.6" r="0.54" fill="#000" fill-opacity="0.59"/>
<circle cx="515.5" cy="94.2" r="0.71" fill="#000" fill-opacity="0.56"/>
<circle cx="530.7" cy="97.9" r="0.5" fill="#000" fill-opacity="0.39"/>
<circle cx="526.9" cy="52.7" r="0.67" fill="#000" fill-opacity="0.78"/>
<circle cx="536.6" cy="78.2" r="0.59" fill="#000" fill-opacity="0.77"/>
<circle cx="517.1" cy="124.0" r="0.77" fill="#000" fill-opacity="0.27"/>
<circle cx="530.1" cy="110.2" r="0.69" fill="#000" fill-opacity="0.22"/>
<circle cx="516.2" cy="124.8" r="0.7" fill="#000" fill-opacity="0.44"/>
<circle cx="537.8" cy="110.8" r="0.47" fill="#000" fill-opacity="0.67"/>
<circle cx="526.4" cy="67.5" r="0.8" fill="#000" fill-opacity="0.9"/>
<circle cx="522.8" cy="113.5" r="0.57" fill="#000" fill-opacity="0.77"/>
<circle cx="522.7" cy="123.6" r="1.34" fill="none" stroke="#111" stroke-width="0.7" stroke-opacity="0.64"/>
<circle cx="520.4" cy="104.7" r="0.5" fill="#000" fill-opacity="0.31"/>
<circle cx="530.2" cy="79.7" r="0.48" fill="#000" fill-opacity="0.92"/>
<circle cx="518.5" cy="118.6" r="0.69" fill="#000" fill-opacity="0.74"/>
<circle cx="521.3" cy="67.2" r="0.73" fill="#000" fill-opacity="0.94"/>
<circle cx="534.6" cy="63.5" r="0.74" fill="#000" fill-opacity="0.61"/>
<circle cx="528.5" cy="127.2" r="0.64" fill="#000" fill-opacity="0.42"/>
<circle cx="523.5" cy="43.6" r="0.49" fill="#000" fill-opacity="0.66"/>
<circle cx="528.4" cy="44.1" r="0.45" fill="#000" fill-opacity="0.5"/>
<circle cx="532.7" cy="41.8" r="1.26" fill="none" stroke="#111" stroke-width="0.7" stroke-opacity="0.74"/>
<circle cx="532.7" cy="73.2" r="0.56" fill="#000" fill-opacity="0.37"/>
<circle cx="521.7" cy="66.9" r="0.77" fill="#000" fill-opacity="0.42"/>
<circle cx="529.2" cy="70.2" r="1.36" fill="none" stroke="#111" stroke-width="0.7" stroke-opacity="0.86"/>
<circle cx="521.4" cy="123.0" r="0.48" fill="#000" fill-opacity="0.62"/>
<circle cx="534.2" cy="117.6" r="0.6" fill="#000" fill-opacity="0.32"/>
<circle cx="518.6" cy="101.3" r="0.76" fill="#000" fill-opacity="0.33"/>
<circle cx="527.1" cy="100.0" r="0.77" fill="#000" fill-opacity="0.45"/>
<circle cx="530.3" cy="46.0" r="0.95" fill="none" stroke="#111" stroke-width="0.7" stroke-opacity="0.79"/>
<circle cx="537.1" cy="124.0" r="0.54" fill="#000" fill-opacity="0.27"/>
<circle cx="528.0" cy="86.3" r="0.77" fill="#000" fill-opacity="0.91"/>
<circle cx="530.0" cy="96.3" r="0.76" fill="#000" fill-opacity="0.24"/>
<circle cx="523.7" cy="63.6" r="0.52" fill="#000" fill-opacity="0.31"/>
<circle cx="521.2" cy="70.8" r="0.5" fill="#000" fill-opacity="0.38"/>
<circle cx="527.0" cy="55.4" r="0.74" fill="#000" fill-opacity="0.36"/>
<circle cx="530.3" cy="76.8" r="0.91" fill="none" stroke="#111" stroke-width="0.7" stroke-opacity="0.68"/>
<circle cx="517.6" cy="111.3" r="0.74" fill="#000" fill-opacity="0.38"/>
<circle cx="531.5" cy="60.6" r="1.24" fill="none" stroke="#111" stroke-width="0.7" stroke-opacity="0.9"/>
<circle cx="520.4" cy="119.6" r="0.65" fill="#000" fill-opacity="0.47"/>
<circle cx="535.4" cy="117.8" r="0.74" fill="#000" fill-opacity="0.28"/>
<circle cx="529.4" cy="44.8" r="0.78" fill="#000" fill-opacity="0.7"/>
<circle cx="520.1" cy="62.0" r="0.48" fill="#000" fill-opacity="0.27"/>
<circle cx="518.7" cy="83.1" r="0.59" fill="#000" fill-opacity="0.48"/>
<circle cx="536.3" cy="93.9" r="1.21" fill="none" stroke="#111" stroke-width="0.7" stroke-opacity="0.65"/>
<circle cx="528.8" cy="54.0" r="0.53" fill="#000" fill-opacity="0.43"/>
<circle cx="529.0" cy="50.4" r="0.6" fill="#000" fill-opacity="0.34"/>
<circle cx="537.3" cy="92.3" r="0.52" fill="#000" fill-opacity="0.91"/>
<circle cx="537.2" cy="118.8" r="0.74" fill="#000" fill-opacity="0.7"/>
<circle cx="529.9" cy="127.8" r="0.78" fill="#000" fill-opacity="0.24"/>
<circle cx="515.7" cy="54.1" r="0.55" fill="#000" fill-opacity="0.41"/>
<circle cx="519.9" cy="71.7" r="0.49" fill="#000" fill-opacity="0.85"/>
<circle cx="527.6" cy="90.9" r="0.67" fill="#000" fill-opacity="0.24"/>
<circle cx="517.5" cy="71.2" r="0.73" fill="#000" fill-opacity="0.46"/>
<circle cx="531.6" cy="116.4" r="0.76" fill="#000" fill-opacity="0.62"/>
<circle cx="530.8" cy="100.1" r="0.54" fill="#000" fill-opacity="0.4"/>
<circle cx="526.5" cy="92.3" r="0.59" fill="#000" fill-opacity="0.24"/>
<circle cx="527.3" cy="97.2" r="0.61" fill="#000" fill-opacity="0.9"/>
<circle cx="516.6" cy="74.1" r="0.51" fill="#000" fill-opacity="0.45"/>
<circle cx="515.6" cy="43.6" r="0.94" fill="none" stroke="#111" stroke-width="0.7" stroke-opacity="0.62"/>
<circle cx="526.8" cy="51.9" r="1.4" fill="none" stroke="#111" stroke-width="0.7" stroke-opacity="0.9"/>
<circle cx="516.9" cy="72.3" r="0.5" fill="#000" fill-opacity="0.33"/>
<circle cx="522.9" cy="86.5" r="0.46" fill="#000" fill-opacity="0.71"/>
<circle cx="532.7" cy="116.1" r="0.46" fill="#000" fill-opacity="0.21"/>
<circle cx="521.7" cy="95.4" r="0.54" fill="#000" fill-opacity="0.25"/>
<circle cx="534.0" cy="43.2" r="0.99" fill="none" stroke="#111" stroke-width="0.7" stroke-opacity="0.87"/>
<circle cx="536.3" cy="126.2" r="0.77" fill="#000" fill-opacity="0.76"/>
<circle cx="519.9" cy="99.3" r="0.76" fill="#000" fill-opacity="0.96"/>
<circle cx="528.9" cy="75.7" r="0.53" fill="#000" fill-opacity="0.72"/>
<circle cx="542.5" cy="73.4" r="0.46" fill="#000" fill-opacity="0.6"/>
<circle cx="539.9" cy="62.5" r="0.78" fill="#000" fill-opacity="0.9"/>
<circle cx="542.8" cy="58.1" r="1.09" fill="none" stroke="#111" stroke-width="0.7" stroke-opacity="0.74"/>
<circle cx="540.8" cy="111.7" r="0.9" fill="none" stroke="#111" stroke-width="0.7" stroke-opacity="0.78"/>
<circle cx="544.1" cy="91.5" r="0.72" fill="#000" fill-opacity="0.79"/>
<circle cx="541.6" cy="91.1" r="0.53" fill="#000" fill-opacity="0.51"/>
<circle cx="542.3" cy="113.4" r="0.51" fill="#000" fill-opacity="0.53"/>
<circle cx="539.7" cy="75.1" r="0.51" fill="#000" fill-opacity="0.9"/>
<circle cx="540.4" cy="74.5" r="0.52" fill="#000" fill-opacity="0.99"/>
<circle cx="541.1" cy="78.8" r="1.36" fill="none" stroke="#111" stroke-width="0.7" stroke-opacity="0.7"/>
<circle cx="540.7" cy="125.2" r="0.84" fill="none" stroke="#111" stroke-width="0.7" stroke-opacity="0.86"/>
<circle cx="542.6" cy="73.6" r="0.57" fill="#000" fill-opacity="0.83"/>
<circle cx="543.0" cy="91.8" r="0.54" fill="#000" fill-opacity="0.79"/>
<circle cx="542.0" cy="95.5" r="1.01" fill="none" stroke="#111" stroke-width="0.7" stroke-opacity="0.69"/>
<circle cx="541.1" cy="86.3" r="0.94" fill="none" stroke="#111" stroke-width="0.7" stroke-opacity="0.75"/>
<circle cx="544.2" cy="122.0" r="0.99" fill="none" stroke="#111" stroke-width="0.7" stroke-opacity="0.65"/>
<circle cx="541.5" cy="115.2" r="0.81" fill="none" stroke="#111" stroke-width="0.7" stroke-opacity="0.71"/>
<circle cx="540.6" cy="61.6" r="0.61" fill="#000" fill-opacity="0.87"/>
<circle cx="540.6" cy="103.3" r="0.52" fill="#000" fill-opacity="0.86"/>
<circle cx="542.0" cy="66.0" r="0.68" fill="#000" fill-opacity="0.57"/>
<circle cx="543.0" cy="59.3" r="0.8" fill="#000" fill-opacity="0.76"/>
<circle cx="541.7" cy="96.5" r="0.47" fill="#000" fill-opacity="0.94"/>
<circle cx="541.5" cy="76.9" r="1.06" fill="none" stroke="#111" stroke-width="0.7" stroke-opacity="0.78"/>
<circle cx="541.5" cy="120.4" r="1.11" fill="none" stroke="#111" stroke-width="0.7" stroke-opacity="0.59"/>
<circle cx="542.3" cy="79.1" r="0.64" fill="#000" fill-opacity="0.82"/>
<circle cx="544.3" cy="115.6" r="0.67" fill="#000" fill-opacity="0.92"/>
<circle cx="542.6" cy="97.9" r="1.17" fill="none" stroke="#111" stroke-width="0.7" stroke-opacity="0.84"/>
<circle cx="542.9" cy="122.5" r="0.7" fill="#000" fill-opacity="0.85"/>
<circle cx="541.3" cy="66.3" r="0.97" fill="none" stroke="#111" stroke-width="0.7" stroke-opacity="0.57"/>
<circle cx="542.4" cy="56.4" r="1.2" fill="none" stroke="#111" stroke-width="0.7" stroke-opacity="0.77"/>
<circle cx="540.6" cy="64.7" r="1.25" fill="none" stroke="#111" stroke-width="0.7" stroke-opacity="0.62"/>
<circle cx="542.5" cy="63.0" r="1.21" fill="none" stroke="#111" stroke-width="0.7" stroke-opacity="0.63"/>
<circle cx="543.3" cy="93.7" r="0.57" fill="#000" fill-opacity="0.84"/>
<circle cx="543.6" cy="76.0" r="0.84" fill="none" stroke="#111" stroke-width="0.7" stroke-opacity="0.57"/>
<circle cx="544.7" cy="56.9" r="1.25" fill="none" stroke="#111" stroke-width="0.7" stroke-opacity="0.8"/>
<circle cx="541.6" cy="105.9" r="0.82" fill="none" stroke="#111" stroke-width="0.7" stroke-opacity="0.77"/>
<circle cx="541.5" cy="66.1" r="0.97" fill="none" stroke="#111" stroke-width="0.7" stroke-opacity="0.59"/>
<circle cx="542.2" cy="86.6" r="0.46" fill="#000" fill-opacity="0.64"/>
<circle cx="542.0" cy="80.6" r="0.58" fill="#000" fill-opacity="0.58"/>
<circle cx="540.1" cy="71.3" r="0.58" fill="#000" fill-opacity="0.64"/>
<circle cx="541.3" cy="106.5" r="1.32" fill="none" stroke="#111" stroke-width="0.7" stroke-opacity="0.81"/>
<circle cx="541.6" cy="87.4" r="0.76" fill="#000" fill-opacity="0.84"/>
<circle cx="540.5" cy="80.0" r="0.54" fill="#000" fill-opacity="0.66"/>
<circle cx="541.5" cy="81.9" r="0.52" fill="#000" fill-opacity="0.83"/>
<circle cx="542.6" cy="106.5" r="1.02" fill="none" stroke="#111" stroke-width="0.7" stroke-opacity="0.58"/>
<circle cx="541.6" cy="123.4" r="0.68" fill="#000" fill-opacity="0.34"/>
<circle cx="541.3" cy="114.7" r="0.7" fill="#000" fill-opacity="0.83"/>
<circle cx="541.6" cy="92.3" r="0.47" fill="#000" fill-opacity="0.99"/>
<circle cx="543.1" cy="58.9" r="0.89" fill="none" stroke="#111" stroke-width="0.7" stroke-opacity="0.91"/>
<circle cx="541.4" cy="68.8" r="0.88" fill="none" stroke="#111" stroke-width="0.7" stroke-opacity="0.62"/>
<circle cx="542.8" cy="60.6" r="0.54" fill="#000" fill-opacity="0.59"/>
<circle cx="541.9" cy="101.3" r="1.06" fill="none" stroke="#111" stroke-width="0.7" stroke-opacity="0.58"/>
<circle cx="541.1" cy="62.8" r="1.18" fill="none" stroke="#111" stroke-width="0.7" stroke-opacity="0.82"/>
<circle cx="544.6" cy="107.1" r="1.13" fill="none" stroke="#111" stroke-width="0.7" stroke-opacity="0.92"/>
<circle cx="542.1" cy="110.8" r="0.58" fill="#000" fill-opacity="0.87"/>
<circle cx="543.7" cy="86.6" r="1.37" fill="none" stroke="#111" stroke-width="0.7" stroke-opacity="0.87"/>
<circle cx="542.6" cy="89.0" r="0.86" fill="none" stroke="#111" stroke-width="0.7" stroke-opacity="0.62"/>
<circle cx="543.5" cy="86.8" r="0.59" fill="#000" fill-opacity="0.65"/>
<circle cx="542.8" cy="114.7" r="1.24" fill="none" stroke="#111" stroke-width="0.7" stroke-opacity="0.69"/>
<circle cx="542.1" cy="66.8" r="0.57" fill="#000" fill-opacity="0.54"/>
<circle cx="543.8" cy="117.8" r="1.16" fill="none" stroke="#111" stroke-width="0.7" stroke-opacity="0.76"/>
<circle cx="541.1" cy="103.5" r="0.66" fill="#000" fill-opacity="0.66"/>
<circle cx="543.3" cy="117.3" r="0.75" fill="#000" fill-opacity="0.89"/>
<circle cx="539.8" cy="58.1" r="0.71" fill="#000" fill-opacity="0.55"/>
<circle cx="542.0" cy="65.8" r="0.49" fill="#000" fill-opacity="0.42"/>
<circle cx="540.7" cy="118.1" r="1.04" fill="none" stroke="#111" stroke-width="0.7" stroke-opacity="0.81"/>
<circle cx="542.0" cy="124.3" r="0.77" fill="#000" fill-opacity="0.97"/>
<circle cx="542.0" cy="118.2" r="0.77" fill="#000" fill-opacity="0.95"/>
<circle cx="542.2" cy="114.2" r="0.67" fill="#000" fill-opacity="0.75"/>
<circle cx="541.9" cy="86.3" r="0.51" fill="#000" fill-opacity="0.67"/>
<circle cx="543.2" cy="91.6" r="0.48" fill="#000" fill-opacity="0.72"/>
<circle cx="542.2" cy="72.6" r="1.26" fill="none" stroke="#111" stroke-width="0.7" stroke-opacity="0.91"/>
<circle cx="541.9" cy="60.5" r="0.54" fill="#000" fill-opacity="0.96"/>
<circle cx="542.1" cy="70.7" r="0.55" fill="#000" fill-opacity="0.61"/>
<circle cx="541.4" cy="100.1" r="1.08" fill="none" stroke="#111" stroke-width="0.7" stroke-opacity="0.92"/>
<circle cx="543.5" cy="101.5" r="0.76" fill="#000" fill-opacity="0.75"/>
<circle cx="542.5" cy="100.9" r="0.77" fill="#000" fill-opacity="0.69"/>
<circle cx="542.9" cy="73.1" r="0.47" fill="#000" fill-opacity="0.83"/>
<circle cx="541.6" cy="125.1" r="0.55" fill="#000" fill-opacity="0.9"/>
<circle cx="542.8" cy="98.1" r="0.74" fill="#000" fill-opacity="0.72"/>
<circle cx="541.5" cy="61.4" r="0.84" fill="none" stroke="#111" stroke-width="0.7" stroke-opacity="0.74"/>
<circle cx="540.8" cy="65.1" r="0.52" fill="#000" fill-opacity="0.73"/>
<circle cx="542.7" cy="60.2" r="1.2" fill="none" stroke="#111" stroke-width="0.7" stroke-opacity="0.7"/>
<circle cx="542.6" cy="99.2" r="0.46" fill="#000" fill-opacity="0.65"/>
<circle cx="540.9" cy="119.1" r="0.54" fill="#000" fill-opacity="0.6"/>
<circle cx="542.4" cy="92.5" r="0.48" fill="#000" fill-opacity="0.53"/>
<circle cx="541.3" cy="84.2" r="0.63" fill="#000" fill-opacity="0.54"/>
<circle cx="542.0" cy="73.1" r="0.74" fill="#000" fill-opacity="0.74"/>
<circle cx="541.5" cy="92.9" r="0.54" fill="#000" fill-opacity="0.7"/>
<circle cx="543.2" cy="69.2" r="0.8" fill="none" stroke="#111" stroke-width="0.7" stroke-opacity="0.78"/>
<circle cx="541.8" cy="120.7" r="0.48" fill="#000" fill-opacity="0.94"/>
<circle cx="540.7" cy="73.7" r="0.61" fill="#000" fill-opacity="0.2"/>
<circle cx="540.7" cy="100.7" r="1.23" fill="none" stroke="#111" stroke-width="0.7" stroke-opacity="0.84"/>
<circle cx="542.3" cy="63.2" r="0.48" fill="#000" fill-opacity="0.64"/>
<circle cx="542.1" cy="111.9" r="0.79" fill="#000" fill-opacity="0.88"/>
<circle cx="541.8" cy="118.2" r="1.03" fill="none" stroke="#111" stroke-width="0.7" stroke-opacity="0.63"/>
<circle cx="541.8" cy="55.4" r="0.52" fill="#000" fill-opacity="0.84"/>
<circle cx="542.6" cy="95.0" r="0.47" fill="#000" fill-opacity="0.75"/>
<circle cx="543.5" cy="71.9" r="0.77" fill="#000" fill-opacity="0.93"/>
<circle cx="542.4" cy="106.6" r="1.2" fill="none" stroke="#111" stroke-width="0.7" stroke-opacity="0.6"/>
<circle cx="542.2" cy="78.4" r="0.9" fill="none" stroke="#111" stroke-width="0.7" stroke-opacity="0.92"/>
<circle cx="542.5" cy="121.8" r="0.57" fill="#000" fill-opacity="0.91"/>
<circle cx="542.4" cy="83.1" r="1.14" fill="none" stroke="#111" stroke-width="0.7" stroke-opacity="0.68"/>
<circle cx="540.9" cy="106.1" r="0.75" fill="#000" fill-opacity="0.95"/>
<circle cx="540.9" cy="71.4" r="0.47" fill="#000" fill-opacity="0.32"/>
<circle cx="540.8" cy="85.1" r="0.62" fill="#000" fill-opacity="0.55"/>
<circle cx="542.4" cy="61.8" r="0.66" fill="#000" fill-opacity="0.81"/>
<circle cx="543.7" cy="65.1" r="0.66" fill="#000" fill-opacity="0.84"/>
<circle cx="542.3" cy="115.7" r="0.85" fill="none" stroke="#111" stroke-width="0.7" stroke-opacity="0.83"/>
<circle cx="542.4" cy="55.3" r="0.59" fill="#000" fill-opacity="0.52"/>
<circle cx="543.2" cy="111.4" r="0.88" fill="none" stroke="#111" stroke-width="0.7" stroke-opacity="0.88"/>
<circle cx="541.3" cy="88.1" r="0.97" fill="none" stroke="#111" stroke-width="0.7" stroke-opacity="0.76"/>
<circle cx="540.6" cy="81.3" r="1.22" fill="none" stroke="#111" stroke-width="0.7" stroke-opacity="0.66"/>
<circle cx="542.3" cy="88.5" r="0.6" fill="#000" fill-opacity="0.94"/>
<circle cx="542.7" cy="118.2" r="0.56" fill="#000" fill-opacity="0.84"/>
<circle cx="541.6" cy="98.8" r="0.55" fill="#000" fill-opacity="0.75"/>
<circle cx="541.3" cy="77.1" r="0.71" fill="#000" fill-opacity="0.57"/>
<circle cx="543.6" cy="124.5" r="0.62" fill="#000" fill-opacity="0.7"/>
<circle cx="544.7" cy="83.2" r="0.79" fill="#000" fill-opacity="0.89"/>
<circle cx="542.7" cy="60.3" r="1.17" fill="none" stroke="#111" stroke-width="0.7" stroke-opacity="0.88"/>
<circle cx="539.4" cy="98.4" r="0.55" fill="#000" fill-opacity="0.72"/>
<circle cx="541.3" cy="111.6" r="0.69" fill="#000" fill-opacity="0.33"/>
<circle cx="542.2" cy="122.3" r="0.46" fill="#000" fill-opacity="0.78"/>
<circle cx="542.2" cy="68.6" r="0.75" fill="#000" fill-opacity="0.72"/>
<circle cx="541.3" cy="124.7" r="0.5" fill="#000" fill-opacity="0.71"/>
<circle cx="541.8" cy="61.9" r="0.74" fill="#000" fill-opacity="0.86"/>
<circle cx="541.6" cy="118.4" r="1.17" fill="none" stroke="#111" stroke-width="0.7" stroke-opacity="0.89"/>
<circle cx="542.2" cy="69.9" r="0.65" fill="#000" fill-opacity="0.43"/>
<circle cx="543.7" cy="117.7" r="1.08" fill="none" stroke="#111" stroke-width="0.7" stroke-opacity="0.75"/>
<circle cx="542.8" cy="66.1" r="0.96" fill="none" stroke="#111" stroke-width="0.7" stroke-opacity="0.6"/>
<circle cx="549.7" cy="59.4" r="0.89" fill="none" stroke="#111" stroke-width="0.7" stroke-opacity="0.84"/>
<circle cx="549.5" cy="57.5" r="0.48" fill="#000" fill-opacity="0.39"/>
<circle cx="549.1" cy="62.4" r="1.08" fill="none" stroke="#111" stroke-width="0.7" stroke-opacity="0.56"/>
<circle cx="548.9" cy="56.6" r="0.54" fill="#000" fill-opacity="0.25"/>
<circle cx="549.1" cy="71.2" r="0.45" fill="#000" fill-opacity="0.29"/>
<circle cx="548.6" cy="74.9" r="0.78" fill="#000" fill-opacity="0.24"/>
<circle cx="548.4" cy="72.3" r="0.5" fill="#000" fill-opacity="0.22"/>
<circle cx="549.4" cy="59.3" r="0.71" fill="#000" fill-opacity="0.46"/>
<circle cx="549.4" cy="56.1" r="1.27" fill="none" stroke="#111" stroke-width="0.7" stroke-opacity="0.59"/>
<circle cx="548.8" cy="63.9" r="0.74" fill="#000" fill-opacity="0.2"/>
<circle cx="548.3" cy="69.6" r="0.59" fill="#000" fill-opacity="0.25"/>
<circle cx="547.6" cy="59.1" r="1.2" fill="none" stroke="#111" stroke-width="0.7" stroke-opacity="0.86"/>
<circle cx="549.8" cy="63.7" r="0.5" fill="#000" fill-opacity="0.73"/>
<circle cx="547.8" cy="80.9" r="0.77" fill="#000" fill-opacity="0.6"/>
<circle cx="548.9" cy="76.9" r="1.1" fill="none" stroke="#111" stroke-width="0.7" stroke-opacity="0.76"/>
<circle cx="549.4" cy="60.2" r="0.51" fill="#000" fill-opacity="0.95"/>
<circle cx="549.5" cy="79.9" r="1.18" fill="none" stroke="#111" stroke-width="0.7" stroke-opacity="0.79"/>
<circle cx="548.5" cy="74.9" r="0.78" fill="#000" fill-opacity="0.87"/>
<line x1="556" y1="46.5" x2="558.6" y2="42" stroke="#111" stroke-width="1.6" stroke-linecap="round"/>
<line x1="546.5" y1="50" x2="549" y2="48.5" stroke="#222" stroke-width="1.2" stroke-linecap="round"/>
<circle cx="568.8" cy="80.2" r="1.4" fill="none" stroke="#222" stroke-width="0.8" stroke-opacity="0.8"/>
<circle cx="591.9" cy="115.1" r="0.58" fill="#000" fill-opacity="0.29"/>
<circle cx="605.1" cy="96.0" r="0.5" fill="#000" fill-opacity="0.29"/>
<circle cx="559.7" cy="46.4" r="0.77" fill="#000" fill-opacity="0.41"/>
<circle cx="566.0" cy="43.5" r="0.6" fill="#000" fill-opacity="0.34"/>
<circle cx="579.8" cy="55.0" r="0.6" fill="#000" fill-opacity="0.72"/>
<circle cx="611.3" cy="59.5" r="0.66" fill="#000" fill-opacity="0.24"/>
<circle cx="609.4" cy="63.7" r="0.63" fill="#000" fill-opacity="0.24"/>
<circle cx="571.7" cy="66.8" r="0.47" fill="#000" fill-opacity="0.87"/>
<circle cx="546.2" cy="96.2" r="0.48" fill="#000" fill-opacity="0.4"/>
<circle cx="590.7" cy="122.4" r="0.51" fill="#000" fill-opacity="0.32"/>
<circle cx="567.8" cy="110.1" r="1.24" fill="none" stroke="#111" stroke-width="0.7" stroke-opacity="0.55"/>
<circle cx="568.4" cy="45.2" r="0.53" fill="#000" fill-opacity="0.33"/>
<circle cx="593.0" cy="56.9" r="0.53" fill="#000" fill-opacity="0.36"/>
<circle cx="608.1" cy="51.9" r="0.75" fill="#000" fill-opacity="0.21"/>
<circle cx="589.2" cy="44.9" r="0.5" fill="#000" fill-opacity="0.67"/>
<circle cx="551.3" cy="83.8" r="0.5" fill="#000" fill-opacity="0.52"/>
<circle cx="567.0" cy="122.1" r="0.62" fill="#000" fill-opacity="0.32"/>
<circle cx="606.2" cy="72.7" r="0.8" fill="#000" fill-opacity="0.87"/>
<circle cx="587.1" cy="97.0" r="0.6" fill="#000" fill-opacity="0.8"/>
<circle cx="570.5" cy="99.3" r="0.66" fill="#000" fill-opacity="0.22"/>
<circle cx="574.5" cy="79.4" r="0.58" fill="#000" fill-opacity="0.8"/>
<circle cx="591.8" cy="105.9" r="0.46" fill="#000" fill-opacity="0.43"/>
<circle cx="559.5" cy="124.1" r="0.51" fill="#000" fill-opacity="0.53"/>
<circle cx="601.0" cy="44.8" r="0.6" fill="#000" fill-opacity="0.29"/>
<circle cx="590.2" cy="130.7" r="0.6" fill="#000" fill-opacity="0.36"/>
<circle cx="580.6" cy="69.2" r="0.62" fill="#000" fill-opacity="0.75"/>
<circle cx="593.4" cy="102.1" r="0.8" fill="#000" fill-opacity="0.74"/>
<circle cx="567.8" cy="128.6" r="0.61" fill="#000" fill-opacity="0.45"/>
<circle cx="573.7" cy="97.8" r="0.53" fill="#000" fill-opacity="0.24"/>
<circle cx="595.7" cy="105.6" r="0.66" fill="#000" fill-opacity="0.36"/>
<circle cx="577.9" cy="57.6" r="0.74" fill="#000" fill-opacity="0.26"/>
<circle cx="551.6" cy="118.6" r="0.67" fill="#000" fill-opacity="0.67"/>
<circle cx="580.6" cy="61.4" r="1.2" fill="none" stroke="#111" stroke-width="0.7" stroke-opacity="0.91"/>
<circle cx="556.0" cy="77.9" r="0.49" fill="#000" fill-opacity="0.52"/>
<circle cx="609.4" cy="69.8" r="0.59" fill="#000" fill-opacity="0.95"/>
<circle cx="557.3" cy="72.4" r="0.68" fill="#000" fill-opacity="0.76"/>
<circle cx="577.0" cy="122.2" r="0.6" fill="#000" fill-opacity="0.83"/>
<circle cx="563.9" cy="117.7" r="0.51" fill="#000" fill-opacity="0.5"/>
<circle cx="602.6" cy="123.2" r="0.48" fill="#000" fill-opacity="0.92"/>
<circle cx="556.0" cy="102.1" r="0.63" fill="#000" fill-opacity="0.55"/>
<circle cx="597.7" cy="66.8" r="0.56" fill="#000" fill-opacity="0.54"/>
<circle cx="606.4" cy="128.8" r="0.75" fill="#000" fill-opacity="0.69"/>
<circle cx="553.5" cy="120.8" r="0.95" fill="none" stroke="#111" stroke-width="0.7" stroke-opacity="0.8"/>
<circle cx="578.9" cy="113.6" r="0.59" fill="#000" fill-opacity="0.39"/>
<circle cx="577.7" cy="103.9" r="0.51" fill="#000" fill-opacity="0.28"/>
<circle cx="603.1" cy="45.4" r="0.72" fill="#000" fill-opacity="0.62"/>
<circle cx="596.4" cy="88.3" r="0.75" fill="#000" fill-opacity="0.24"/>
<circle cx="591.6" cy="68.2" r="0.48" fill="#000" fill-opacity="0.28"/>
<circle cx="545.4" cy="53.4" r="0.47" fill="#000" fill-opacity="0.48"/>
<circle cx="555.0" cy="46.3" r="1.32" fill="none" stroke="#111" stroke-width="0.7" stroke-opacity="0.62"/>
<circle cx="583.5" cy="66.3" r="0.79" fill="#000" fill-opacity="0.45"/>
<circle cx="586.2" cy="97.5" r="0.76" fill="#000" fill-opacity="0.38"/>
<circle cx="551.2" cy="114.3" r="0.66" fill="#000" fill-opacity="0.77"/>
<circle cx="561.5" cy="106.0" r="0.64" fill="#000" fill-opacity="0.23"/>
<circle cx="607.1" cy="49.2" r="0.57" fill="#000" fill-opacity="0.43"/>
<circle cx="591.3" cy="120.9" r="0.63" fill="#000" fill-opacity="0.75"/>
<circle cx="591.3" cy="123.6" r="1.15" fill="none" stroke="#111" stroke-width="0.7" stroke-opacity="0.87"/>
<circle cx="591.3" cy="125.0" r="0.5" fill="#000" fill-opacity="0.53"/>
<circle cx="591.2" cy="121.0" r="0.75" fill="#000" fill-opacity="0.91"/>
<circle cx="591.7" cy="125.1" r="0.78" fill="#000" fill-opacity="0.7"/>
<circle cx="591.1" cy="116.9" r="0.72" fill="#000" fill-opacity="0.89"/>
<circle cx="592.0" cy="122.1" r="0.72" fill="#000" fill-opacity="0.91"/>
<circle cx="591.2" cy="116.5" r="0.64" fill="#000" fill-opacity="0.9"/>
<circle cx="591.4" cy="133.5" r="0.67" fill="#000" fill-opacity="0.9"/>
<circle cx="591.6" cy="127.0" r="0.73" fill="#000" fill-opacity="0.82"/>
<circle cx="591.5" cy="120.2" r="0.78" fill="#000" fill-opacity="0.74"/>
<circle cx="591.8" cy="129.7" r="0.52" fill="#000" fill-opacity="0.61"/>
<circle cx="591.9" cy="128.9" r="1.13" fill="none" stroke="#111" stroke-width="0.7" stroke-opacity="0.6"/>
<circle cx="591.7" cy="123.4" r="0.53" fill="#000" fill-opacity="0.58"/>
<circle cx="592.2" cy="119.3" r="0.5" fill="#000" fill-opacity="0.79"/>
<circle cx="591.7" cy="126.3" r="0.62" fill="#000" fill-opacity="0.84"/>
<circle cx="591.7" cy="120.9" r="0.76" fill="#000" fill-opacity="0.72"/>
<circle cx="591.6" cy="129.7" r="0.76" fill="#000" fill-opacity="0.97"/>
<circle cx="591.4" cy="124.6" r="0.51" fill="#000" fill-opacity="0.65"/>
<circle cx="590.6" cy="123.1" r="0.72" fill="#000" fill-opacity="0.71"/>
<circle cx="591.6" cy="126.9" r="0.72" fill="#000" fill-opacity="0.57"/>
<circle cx="591.6" cy="124.7" r="0.66" fill="#000" fill-opacity="0.81"/>
<circle cx="591.2" cy="116.6" r="0.77" fill="#000" fill-opacity="0.95"/>
<circle cx="591.7" cy="121.2" r="1.37" fill="none" stroke="#111" stroke-width="0.7" stroke-opacity="0.76"/>
<circle cx="617.5" cy="118.6" r="0.72" fill="#000" fill-opacity="0.42"/>
<circle cx="620.0" cy="105.8" r="0.54" fill="#000" fill-opacity="0.76"/>
<circle cx="635.0" cy="100.7" r="0.68" fill="#000" fill-opacity="0.2"/>
<circle cx="617.5" cy="127.2" r="0.59" fill="#000" fill-opacity="0.47"/>
<circle cx="651.3" cy="65.9" r="0.49" fill="#000" fill-opacity="0.42"/>
<circle cx="636.5" cy="88.7" r="0.68" fill="#000" fill-opacity="0.53"/>
<circle cx="640.6" cy="82.3" r="0.74" fill="#000" fill-opacity="0.36"/>
<circle cx="650.9" cy="69.7" r="0.56" fill="#000" fill-opacity="0.44"/>
<circle cx="634.6" cy="102.8" r="0.48" fill="#000" fill-opacity="0.43"/>
<circle cx="658.0" cy="70.7" r="0.79" fill="#000" fill-opacity="0.4"/>
<circle cx="428.2" cy="88.5" r="0.6" fill="#000" fill-opacity="0.7"/>
<circle cx="402.5" cy="111.8" r="0.6" fill="#000" fill-opacity="0.7"/>
<circle cx="402.5" cy="121.5" r="0.6" fill="#000" fill-opacity="0.7"/>
<circle cx="402.5" cy="132.3" r="0.6" fill="#000" fill-opacity="0.7"/>
<circle cx="443.0" cy="41.5" r="0.6" fill="#000" fill-opacity="0.7"/>
<circle cx="436.0" cy="41.4" r="0.6" fill="#000" fill-opacity="0.7"/>
<circle cx="438.0" cy="51.0" r="0.6" fill="#000" fill-opacity="0.7"/>
<circle cx="444.6" cy="66.8" r="0.6" fill="#000" fill-opacity="0.7"/>
<circle cx="450.6" cy="121.8" r="0.6" fill="#000" fill-opacity="0.7"/>
<circle cx="448.5" cy="126.2" r="0.6" fill="#000" fill-opacity="0.7"/>
<circle cx="477.5" cy="39.0" r="0.6" fill="#000" fill-opacity="0.7"/>
<circle cx="481.4" cy="65.5" r="0.6" fill="#000" fill-opacity="0.7"/>
<circle cx="470.0" cy="107.4" r="0.6" fill="#000" fill-opacity="0.7"/>
<circle cx="456.7" cy="114.0" r="0.6" fill="#000" fill-opacity="0.7"/>
<circle cx="445.0" cy="115.2" r="0.6" fill="#000" fill-opacity="0.7"/>
<circle cx="429.6" cy="100.7" r="0.89" fill="none" stroke="#111" stroke-width="0.7" stroke-opacity="0.9"/>
<circle cx="428.9" cy="102.6" r="1.06" fill="none" stroke="#111" stroke-width="0.7" stroke-opacity="0.66"/>
<circle cx="429.1" cy="102.4" r="0.58" fill="#000" fill-opacity="0.92"/>
<circle cx="429.9" cy="107.3" r="1.16" fill="none" stroke="#111" stroke-width="0.7" stroke-opacity="0.92"/>
<circle cx="429.2" cy="104.2" r="1.24" fill="none" stroke="#111" stroke-width="0.7" stroke-opacity="0.79"/>
<circle cx="429.3" cy="100.5" r="1.24" fill="none" stroke="#111" stroke-width="0.7" stroke-opacity="0.91"/>
<circle cx="464.9" cy="104.7" r="0.75" fill="#000" fill-opacity="0.81"/>
<circle cx="464.7" cy="103.1" r="0.84" fill="none" stroke="#111" stroke-width="0.7" stroke-opacity="0.62"/>
<circle cx="463.0" cy="101.0" r="0.49" fill="#000" fill-opacity="0.27"/>
<circle cx="463.7" cy="100.2" r="0.71" fill="#000" fill-opacity="0.59"/>
<circle cx="464.0" cy="102.9" r="0.59" fill="#000" fill-opacity="0.86"/>
<circle cx="463.5" cy="101.6" r="0.73" fill="#000" fill-opacity="0.82"/>
<circle cx="463.6" cy="105.3" r="1.26" fill="none" stroke="#111" stroke-width="0.7" stroke-opacity="0.63"/>
<circle cx="464.3" cy="103.4" r="1.26" fill="none" stroke="#111" stroke-width="0.7" stroke-opacity="0.81"/>
<circle cx="482.3" cy="86.6" r="0.83" fill="none" stroke="#111" stroke-width="0.7" stroke-opacity="0.61"/>
<circle cx="482.7" cy="91.9" r="1.04" fill="none" stroke="#111" stroke-width="0.7" stroke-opacity="0.76"/>
<circle cx="481.8" cy="81.0" r="0.93" fill="none" stroke="#111" stroke-width="0.7" stroke-opacity="0.74"/>
<circle cx="482.0" cy="101.0" r="0.47" fill="#000" fill-opacity="0.21"/>
<circle cx="482.3" cy="84.6" r="0.66" fill="#000" fill-opacity="0.45"/>
<circle cx="482.3" cy="99.7" r="0.64" fill="#000" fill-opacity="0.27"/>
<circle cx="482.7" cy="101.8" r="0.65" fill="#000" fill-opacity="0.41"/>
<circle cx="483.4" cy="86.0" r="1.14" fill="none" stroke="#111" stroke-width="0.7" stroke-opacity="0.88"/>
<circle cx="482.5" cy="105.5" r="0.68" fill="#000" fill-opacity="0.95"/>
<circle cx="483.7" cy="81.9" r="1.38" fill="none" stroke="#111" stroke-width="0.7" stroke-opacity="0.92"/>
<circle cx="489.1" cy="125.1" r="0.72" fill="#000" fill-opacity="0.9"/>
<circle cx="470.5" cy="109.2" r="0.69" fill="#000" fill-opacity="0.49"/>
<circle cx="497.0" cy="97.6" r="1.31" fill="none" stroke="#111" stroke-width="0.7" stroke-opacity="0.72"/>
<circle cx="452.1" cy="115.2" r="1.02" fill="none" stroke="#111" stroke-width="0.7" stroke-opacity="0.82"/>
<circle cx="464.6" cy="108.4" r="0.79" fill="#000" fill-opacity="0.3"/>
<circle cx="469.4" cy="130.5" r="0.46" fill="#000" fill-opacity="0.73"/>
<circle cx="468.0" cy="126.4" r="0.71" fill="#000" fill-opacity="0.4"/>
<circle cx="443.3" cy="108.5" r="1.29" fill="none" stroke="#111" stroke-width="0.7" stroke-opacity="0.58"/>
<circle cx="455.0" cy="100.4" r="0.78" fill="#000" fill-opacity="0.4"/>
<circle cx="492.5" cy="100.8" r="0.71" fill="#000" fill-opacity="0.39"/>
<circle cx="463.5" cy="100.1" r="0.67" fill="#000" fill-opacity="0.98"/>
<circle cx="480.1" cy="99.5" r="0.75" fill="#000" fill-opacity="0.84"/>
<circle cx="443.3" cy="98.0" r="0.51" fill="#000" fill-opacity="0.34"/>
<circle cx="451.8" cy="130.8" r="0.51" fill="#000" fill-opacity="0.98"/>
<circle cx="451.4" cy="96.9" r="0.76" fill="#000" fill-opacity="0.2"/>
<circle cx="451.4" cy="113.8" r="0.68" fill="#000" fill-opacity="0.82"/>
<circle cx="454.0" cy="102.4" r="0.79" fill="#000" fill-opacity="0.3"/>
<circle cx="489.5" cy="117.2" r="0.46" fill="#000" fill-opacity="0.29"/>
<circle cx="469.7" cy="109.8" r="0.68" fill="#000" fill-opacity="0.42"/>
<circle cx="477.0" cy="124.5" r="0.5" fill="#000" fill-opacity="0.93"/>
<circle cx="502.4" cy="110.4" r="0.58" fill="#000" fill-opacity="0.35"/>
<circle cx="478.7" cy="95.7" r="0.46" fill="#000" fill-opacity="0.44"/>
<circle cx="458.4" cy="100.4" r="0.51" fill="#000" fill-opacity="0.6"/>
<circle cx="497.9" cy="131.7" r="0.69" fill="#000" fill-opacity="0.77"/>
<circle cx="453.2" cy="129.4" r="0.62" fill="#000" fill-opacity="0.34"/>
<circle cx="447.9" cy="102.6" r="0.51" fill="#000" fill-opacity="0.83"/>
<circle cx="447.5" cy="101.6" r="0.68" fill="#000" fill-opacity="0.85"/>
<circle cx="447.9" cy="104.6" r="0.66" fill="#000" fill-opacity="0.73"/>
<circle cx="297.5" cy="475.0" r="0.78" fill="#000" fill-opacity="0.28"/>
<circle cx="298.4" cy="475.4" r="0.57" fill="#000" fill-opacity="0.6"/>
<circle cx="298.5" cy="487.8" r="0.79" fill="#000" fill-opacity="0.62"/>
<circle cx="297.6" cy="477.6" r="1.05" fill="none" stroke="#111" stroke-width="0.7" stroke-opacity="0.83"/>
<circle cx="298.0" cy="481.3" r="0.87" fill="none" stroke="#111" stroke-width="0.7" stroke-opacity="0.6"/>
<circle cx="298.3" cy="468.4" r="0.65" fill="#000" fill-opacity="0.5"/>
<circle cx="297.7" cy="476.5" r="0.64" fill="#000" fill-opacity="0.89"/>
<circle cx="298.2" cy="482.6" r="0.55" fill="#000" fill-opacity="0.33"/>
<circle cx="297.6" cy="469.7" r="0.65" fill="#000" fill-opacity="0.93"/>
<circle cx="298.3" cy="467.1" r="0.56" fill="#000" fill-opacity="0.96"/>
<circle cx="298.7" cy="480.0" r="1.25" fill="none" stroke="#111" stroke-width="0.7" stroke-opacity="0.62"/>
<circle cx="297.8" cy="486.0" r="0.74" fill="#000" fill-opacity="0.76"/>
<circle cx="298.6" cy="488.8" r="0.73" fill="#000" fill-opacity="0.88"/>
<circle cx="298.7" cy="477.5" r="0.51" fill="#000" fill-opacity="0.84"/>
<circle cx="297.1" cy="471.7" r="1.33" fill="none" stroke="#111" stroke-width="0.7" stroke-opacity="0.92"/>
<circle cx="297.0" cy="469.9" r="0.55" fill="#000" fill-opacity="0.75"/>
<circle cx="296.8" cy="471.4" r="0.57" fill="#000" fill-opacity="0.92"/>
<circle cx="298.2" cy="483.7" r="0.69" fill="#000" fill-opacity="0.7"/>
<circle cx="276.1" cy="504.3" r="0.64" fill="#000" fill-opacity="0.55"/>
<circle cx="274.8" cy="502.0" r="0.89" fill="none" stroke="#111" stroke-width="0.7" stroke-opacity="0.93"/>
<circle cx="275.0" cy="512.5" r="0.54" fill="#000" fill-opacity="0.54"/>
<circle cx="276.1" cy="504.4" r="0.51" fill="#000" fill-opacity="0.95"/>
<circle cx="274.8" cy="503.6" r="1.33" fill="none" stroke="#111" stroke-width="0.7" stroke-opacity="0.67"/>
<circle cx="275.0" cy="502.1" r="0.5" fill="#000" fill-opacity="0.82"/>
<circle cx="274.4" cy="499.0" r="0.58" fill="#000" fill-opacity="0.41"/>
<circle cx="276.4" cy="499.9" r="1.36" fill="none" stroke="#111" stroke-width="0.7" stroke-opacity="0.95"/>
<circle cx="274.9" cy="500.7" r="1.11" fill="none" stroke="#111" stroke-width="0.7" stroke-opacity="0.93"/>
<circle cx="275.3" cy="509.0" r="0.93" fill="none" stroke="#111" stroke-width="0.7" stroke-opacity="0.86"/>
<circle cx="274.5" cy="502.7" r="0.97" fill="none" stroke="#111" stroke-width="0.7" stroke-opacity="0.78"/>
<circle cx="274.7" cy="499.1" r="0.73" fill="#000" fill-opacity="0.77"/>
<circle cx="274.8" cy="507.1" r="0.7" fill="#000" fill-opacity="0.26"/>
<circle cx="275.1" cy="500.6" r="0.58" fill="#000" fill-opacity="0.94"/>
<circle cx="275.1" cy="503.3" r="0.55" fill="#000" fill-opacity="0.22"/>
<circle cx="276.1" cy="502.2" r="1.04" fill="none" stroke="#111" stroke-width="0.7" stroke-opacity="0.67"/>
<circle cx="288.8" cy="510.9" r="0.64" fill="#000" fill-opacity="0.26"/>
<circle cx="289.0" cy="489.4" r="0.68" fill="#000" fill-opacity="0.81"/>
<circle cx="288.8" cy="511.1" r="0.79" fill="#000" fill-opacity="0.65"/>
<circle cx="289.6" cy="506.3" r="0.48" fill="#000" fill-opacity="0.37"/>
<circle cx="287.9" cy="496.8" r="1.4" fill="none" stroke="#111" stroke-width="0.7" stroke-opacity="0.86"/>
<circle cx="288.9" cy="498.9" r="0.56" fill="#000" fill-opacity="0.25"/>
<circle cx="288.7" cy="489.9" r="0.75" fill="#000" fill-opacity="0.5"/>
<circle cx="288.8" cy="513.1" r="0.58" fill="#000" fill-opacity="0.66"/>
<circle cx="288.4" cy="514.9" r="0.59" fill="#000" fill-opacity="0.77"/>
<circle cx="289.1" cy="485.1" r="0.49" fill="#000" fill-opacity="0.4"/>
<circle cx="288.4" cy="533.2" r="0.53" fill="#000" fill-opacity="0.65"/>
<circle cx="289.7" cy="521.5" r="0.75" fill="#000" fill-opacity="0.83"/>
<circle cx="288.2" cy="505.6" r="0.54" fill="#000" fill-opacity="0.42"/>
<circle cx="288.3" cy="528.8" r="0.45" fill="#000" fill-opacity="0.54"/>
<circle cx="289.4" cy="497.2" r="0.7" fill="#000" fill-opacity="0.49"/>
<circle cx="289.4" cy="508.2" r="1.28" fill="none" stroke="#111" stroke-width="0.7" stroke-opacity="0.81"/>
<circle cx="289.4" cy="521.5" r="0.84" fill="none" stroke="#111" stroke-width="0.7" stroke-opacity="0.86"/>
<circle cx="289.8" cy="498.4" r="0.5" fill="#000" fill-opacity="0.43"/>
<circle cx="288.0" cy="530.9" r="0.53" fill="#000" fill-opacity="0.45"/>
<circle cx="288.3" cy="493.6" r="0.59" fill="#000" fill-opacity="0.47"/>
<circle cx="289.1" cy="516.5" r="0.63" fill="#000" fill-opacity="0.4"/>
<circle cx="290.4" cy="504.9" r="0.86" fill="none" stroke="#111" stroke-width="0.7" stroke-opacity="0.67"/>
<circle cx="289.5" cy="493.7" r="0.65" fill="#000" fill-opacity="0.26"/>
<circle cx="289.2" cy="535.0" r="0.45" fill="#000" fill-opacity="0.36"/>
<circle cx="288.5" cy="510.2" r="0.89" fill="none" stroke="#111" stroke-width="0.7" stroke-opacity="0.87"/>
<circle cx="288.8" cy="486.5" r="0.57" fill="#000" fill-opacity="0.39"/>
<circle cx="289.7" cy="504.5" r="1.3" fill="none" stroke="#111" stroke-width="0.7" stroke-opacity="0.9"/>
<circle cx="289.3" cy="533.0" r="0.48" fill="#000" fill-opacity="0.2"/>
<circle cx="288.6" cy="489.6" r="1.29" fill="none" stroke="#111" stroke-width="0.7" stroke-opacity="0.85"/>
<circle cx="287.6" cy="483.4" r="0.72" fill="#000" fill-opacity="0.39"/>
<circle cx="302.6" cy="515.6" r="1.01" fill="none" stroke="#111" stroke-width="0.7" stroke-opacity="0.56"/>
<circle cx="302.3" cy="528.4" r="0.99" fill="none" stroke="#111" stroke-width="0.7" stroke-opacity="0.66"/>
<circle cx="302.2" cy="502.9" r="0.5" fill="#000" fill-opacity="0.41"/>
<circle cx="301.7" cy="512.2" r="0.73" fill="#000" fill-opacity="0.64"/>
<circle cx="302.3" cy="521.0" r="1.13" fill="none" stroke="#111" stroke-width="0.7" stroke-opacity="0.64"/>
<circle cx="302.9" cy="511.2" r="0.82" fill="none" stroke="#111" stroke-width="0.7" stroke-opacity="0.83"/>
<circle cx="304.4" cy="503.8" r="0.71" fill="#000" fill-opacity="0.98"/>
<circle cx="302.3" cy="514.5" r="0.49" fill="#000" fill-opacity="0.96"/>
<circle cx="302.6" cy="510.2" r="1.09" fill="none" stroke="#111" stroke-width="0.7" stroke-opacity="0.57"/>
<circle cx="302.1" cy="501.7" r="1.05" fill="none" stroke="#111" stroke-width="0.7" stroke-opacity="0.95"/>
<circle cx="303.2" cy="506.6" r="0.71" fill="#000" fill-opacity="0.92"/>
<circle cx="303.0" cy="526.3" r="0.65" fill="#000" fill-opacity="0.69"/>
<circle cx="302.2" cy="513.0" r="0.91" fill="none" stroke="#111" stroke-width="0.7" stroke-opacity="0.68"/>
<circle cx="302.6" cy="506.4" r="0.78" fill="#000" fill-opacity="0.41"/>
<circle cx="289.2" cy="557.3" r="1.33" fill="none" stroke="#111" stroke-width="0.7" stroke-opacity="0.83"/>
<circle cx="289.8" cy="549.6" r="0.71" fill="#000" fill-opacity="0.97"/>
<circle cx="290.5" cy="556.3" r="1.34" fill="none" stroke="#111" stroke-width="0.7" stroke-opacity="0.62"/>
<circle cx="290.0" cy="559.1" r="1.26" fill="none" stroke="#111" stroke-width="0.7" stroke-opacity="0.59"/>
<circle cx="290.9" cy="537.3" r="0.73" fill="#000" fill-opacity="0.68"/>
<circle cx="290.4" cy="546.7" r="0.71" fill="#000" fill-opacity="0.75"/>
<circle cx="290.2" cy="539.3" r="0.55" fill="#000" fill-opacity="0.6"/>
<circle cx="291.3" cy="535.9" r="0.53" fill="#000" fill-opacity="0.9"/>
<circle cx="270.6" cy="538.9" r="0.65" fill="#000" fill-opacity="0.29"/>
<circle cx="270.2" cy="523.3" r="0.58" fill="#000" fill-opacity="0.66"/>
<circle cx="271.1" cy="523.0" r="0.77" fill="#000" fill-opacity="0.2"/>
<circle cx="270.7" cy="553.6" r="0.56" fill="#000" fill-opacity="0.34"/>
<circle cx="268.0" cy="541.6" r="0.56" fill="#000" fill-opacity="0.31"/>
<circle cx="268.4" cy="542.3" r="0.66" fill="#000" fill-opacity="0.65"/>
<circle cx="274.2" cy="555.8" r="0.46" fill="#000" fill-opacity="0.9"/>
<circle cx="270.5" cy="525.3" r="0.76" fill="#000" fill-opacity="0.89"/>
<circle cx="270.5" cy="555.8" r="0.88" fill="none" stroke="#111" stroke-width="0.7" stroke-opacity="0.69"/>
<circle cx="270.7" cy="534.5" r="0.52" fill="#000" fill-opacity="0.61"/>
<circle cx="269.3" cy="525.7" r="0.77" fill="#000" fill-opacity="0.64"/>
<circle cx="269.0" cy="527.9" r="0.65" fill="#000" fill-opacity="0.96"/>
<circle cx="270.7" cy="549.3" r="0.57" fill="#000" fill-opacity="0.44"/>
<circle cx="268.6" cy="522.2" r="0.95" fill="none" stroke="#111" stroke-width="0.7" stroke-opacity="0.84"/>
<circle cx="269.0" cy="540.8" r="1.3" fill="none" stroke="#111" stroke-width="0.7" stroke-opacity="0.94"/>
<circle cx="271.3" cy="535.4" r="0.6" fill="#000" fill-opacity="0.3"/>
<circle cx="270.2" cy="555.5" r="0.61" fill="#000" fill-opacity="0.31"/>
<circle cx="271.0" cy="517.9" r="0.49" fill="#000" fill-opacity="0.27"/>
<circle cx="289.1" cy="483.6" r="1.3" fill="none" stroke="#222" stroke-width="0.7" stroke-opacity="0.8"/>
<circle cx="289.1" cy="514.0" r="1.5" fill="none" stroke="#222" stroke-width="0.7" stroke-opacity="0.8"/>
<circle cx="299.0" cy="500.0" r="1.3" fill="none" stroke="#222" stroke-width="0.7" stroke-opacity="0.8"/>
<circle cx="272.5" cy="553.1" r="0.75" fill="#000" fill-opacity="0.2"/>
<circle cx="266.4" cy="527.9" r="0.45" fill="#000" fill-opacity="0.5"/>
<circle cx="262.7" cy="520.7" r="0.8" fill="#000" fill-opacity="0.7"/>
<circle cx="268.3" cy="516.3" r="0.67" fill="#000" fill-opacity="0.32"/>
<circle cx="264.3" cy="473.5" r="0.79" fill="#000" fill-opacity="0.3"/>
<circle cx="320.9" cy="469.4" r="0.71" fill="#000" fill-opacity="0.46"/>
<circle cx="300.5" cy="535.9" r="0.64" fill="#000" fill-opacity="0.49"/>
<circle cx="316.9" cy="546.6" r="0.64" fill="#000" fill-opacity="0.42"/>
<circle cx="310.6" cy="533.4" r="0.53" fill="#000" fill-opacity="0.42"/>
<circle cx="278.1" cy="471.4" r="0.67" fill="#000" fill-opacity="0.33"/>
<circle cx="295.4" cy="493.6" r="0.79" fill="#000" fill-opacity="0.51"/>
<circle cx="312.4" cy="551.4" r="0.69" fill="#000" fill-opacity="0.58"/>
<circle cx="261.1" cy="544.3" r="0.46" fill="#000" fill-opacity="0.44"/>
<circle cx="259.3" cy="486.0" r="0.61" fill="#000" fill-opacity="0.65"/>
<circle cx="306.7" cy="549.2" r="0.54" fill="#000" fill-opacity="0.32"/>
<circle cx="320.7" cy="490.4" r="0.7" fill="#000" fill-opacity="0.8"/>
<circle cx="308.5" cy="472.5" r="0.7" fill="#000" fill-opacity="0.8"/>
<circle cx="308.5" cy="476.0" r="0.7" fill="#000" fill-opacity="0.8"/>
<circle cx="257.5" cy="550.0" r="0.7" fill="#000" fill-opacity="0.8"/>
<circle cx="300.6" cy="533.0" r="0.7" fill="#000" fill-opacity="0.8"/>
<circle cx="302.0" cy="539.8" r="0.7" fill="#000" fill-opacity="0.8"/>
<circle cx="276.0" cy="546.0" r="0.7" fill="#000" fill-opacity="0.8"/>
<circle cx="273.5" cy="546.5" r="1.0" fill="none" stroke="#222" stroke-width="0.7" stroke-opacity="0.8"/>
<circle cx="102.4" cy="536.4" r="0.9" fill="#611" fill-opacity="0.9"/>
<circle cx="102.9" cy="537.3" r="0.6" fill="#611" fill-opacity="0.8"/>
<circle cx="52.0" cy="515.5" r="0.9" fill="none" stroke="#333" stroke-width="0.7" stroke-opacity="0.7"/>
<circle cx="98.9" cy="517.4" r="0.5" fill="#000" fill-opacity="0.6"/>
<circle cx="72.7" cy="507.0" r="0.5" fill="#000" fill-opacity="0.3"/>
<circle cx="81.4" cy="507.0" r="0.5" fill="#000" fill-opacity="0.3"/>
<circle cx="68.3" cy="537.0" r="0.5" fill="#000" fill-opacity="0.3"/>
<line x1="47.90" y1="521.20" x2="273.90" y2="520.60" stroke="#f01414" stroke-width="1.4" stroke-opacity="1.0"/>
<line x1="48.50" y1="522.30" x2="271.00" y2="522.80" stroke="#f01414" stroke-width="1.2" stroke-opacity="0.6"/>
<line x1="50.00" y1="521.80" x2="99.00" y2="521.80" stroke="#f01414" stroke-width="2.4" stroke-opacity="1.0"/>
<line x1="150.40" y1="527.30" x2="283.80" y2="527.20" stroke="#f01414" stroke-width="1.1" stroke-opacity="1.0"/>
<line x1="155.20" y1="530.00" x2="275.00" y2="530.40" stroke="#f01414" stroke-width="1.1" stroke-opacity="1.0"/>
<line x1="182.50" y1="537.60" x2="284.40" y2="537.20" stroke="#f01414" stroke-width="1.1" stroke-opacity="1.0"/>
<line x1="215.40" y1="539.20" x2="272.70" y2="539.20" stroke="#f01414" stroke-width="1.1" stroke-opacity="1.0"/>
<line x1="271.50" y1="541.50" x2="311.30" y2="543.40" stroke="#f01414" stroke-width="1.1" stroke-opacity="1.0"/>
<line x1="290.20" y1="548.90" x2="311.30" y2="548.90" stroke="#f01414" stroke-width="1.1" stroke-opacity="1.0"/>
<line x1="259.90" y1="553.90" x2="311.30" y2="552.40" stroke="#f01414" stroke-width="1.1" stroke-opacity="1.0"/>
<line x1="290.20" y1="552.20" x2="311.30" y2="552.20" stroke="#f01414" stroke-width="1.0" stroke-opacity="1.0"/>
<line x1="289.00" y1="488.30" x2="298.40" y2="488.30" stroke="#f01414" stroke-width="1.1" stroke-opacity="1.0"/>
<line x1="274.50" y1="501.60" x2="292.00" y2="500.40" stroke="#f01414" stroke-width="2.0" stroke-opacity="1.0"/>
<line x1="292.60" y1="504.70" x2="302.50" y2="505.40" stroke="#f01414" stroke-width="1.1" stroke-opacity="1.0"/>
<line x1="267.50" y1="510.90" x2="275.00" y2="508.60" stroke="#f01414" stroke-width="1.1" stroke-opacity="1.0"/>
<line x1="293.70" y1="511.50" x2="298.40" y2="511.50" stroke="#f01414" stroke-width="1.1" stroke-opacity="1.0"/>
<line x1="286.70" y1="517.30" x2="300.70" y2="516.70" stroke="#f01414" stroke-width="1.8" stroke-opacity="1.0"/>
<line x1="287.90" y1="522.00" x2="301.30" y2="520.80" stroke="#f01414" stroke-width="1.8" stroke-opacity="1.0"/>
<line x1="275.00" y1="534.30" x2="283.80" y2="535.40" stroke="#f01414" stroke-width="1.1" stroke-opacity="1.0"/>
<line x1="290.20" y1="536.60" x2="295.50" y2="534.30" stroke="#f01414" stroke-width="1.1" stroke-opacity="1.0"/>
<line x1="428.00" y1="104.00" x2="464.50" y2="104.00" stroke="#f01414" stroke-width="2.2" stroke-opacity="1.0"/>
<line x1="428.00" y1="104.20" x2="513.40" y2="104.30" stroke="#f01414" stroke-width="1.2" stroke-opacity="1.0"/>
<line x1="447.00" y1="113.20" x2="509.80" y2="113.50" stroke="#f01414" stroke-width="1.2" stroke-opacity="1.0"/>
<line x1="463.00" y1="119.30" x2="513.90" y2="118.00" stroke="#f01414" stroke-width="1.2" stroke-opacity="1.0"/>
<line x1="512.50" y1="64.70" x2="541.70" y2="65.00" stroke="#f01414" stroke-width="1.2" stroke-opacity="1.0"/>
<line x1="510.20" y1="68.60" x2="541.70" y2="69.10" stroke="#f01414" stroke-width="1.2" stroke-opacity="1.0"/>
<line x1="509.00" y1="80.60" x2="541.70" y2="80.50" stroke="#f01414" stroke-width="1.2" stroke-opacity="1.0"/>
<line x1="508.40" y1="83.50" x2="541.70" y2="83.50" stroke="#f01414" stroke-width="1.2" stroke-opacity="1.0"/>
<line x1="520.70" y1="84.60" x2="615.80" y2="84.90" stroke="#f01414" stroke-width="1.2" stroke-opacity="0.85"/>
<line x1="511.40" y1="86.50" x2="541.70" y2="86.70" stroke="#f01414" stroke-width="1.2" stroke-opacity="1.0"/>
<line x1="545.80" y1="77.30" x2="551.00" y2="77.30" stroke="#f01414" stroke-width="1.2" stroke-opacity="1.0"/>
<line x1="509.00" y1="99.50" x2="596.80" y2="99.40" stroke="#f01414" stroke-width="1.2" stroke-opacity="1.0"/>
<line x1="509.00" y1="99.50" x2="514.00" y2="99.50" stroke="#f01414" stroke-width="2.2" stroke-opacity="1.0"/>
<line x1="509.00" y1="108.70" x2="542.40" y2="108.90" stroke="#f01414" stroke-width="1.2" stroke-opacity="1.0"/>
<line x1="507.70" y1="116.60" x2="542.40" y2="116.70" stroke="#f01414" stroke-width="1.2" stroke-opacity="1.0"/>
<line x1="507.70" y1="116.60" x2="514.00" y2="116.60" stroke="#f01414" stroke-width="2.2" stroke-opacity="1.0"/>
<line x1="508.20" y1="124.50" x2="606.60" y2="124.30" stroke="#f01414" stroke-width="1.2" stroke-opacity="1.0"/>
<line x1="521.80" y1="128.90" x2="604.60" y2="128.60" stroke="#f01414" stroke-width="1.2" stroke-opacity="1.0"/>
<line x1="521.80" y1="128.90" x2="560.00" y2="128.80" stroke="#f01414" stroke-width="2.0" stroke-opacity="1.0"/>
<line x1="525.70" y1="88.00" x2="525.70" y2="94.60" stroke="#f01414" stroke-width="1.2" stroke-opacity="1.0"/>
<line x1="508.20" y1="128.40" x2="510.40" y2="126.20" stroke="#f01414" stroke-width="1.1" stroke-opacity="1.0"/>
<line x1="661.30" y1="90.50" x2="683.20" y2="91.40" stroke="#f01414" stroke-width="1.1" stroke-opacity="1.0"/>
<line x1="424.80" y1="104.80" x2="427.00" y2="104.80" stroke="#f01414" stroke-width="1.5" stroke-opacity="1.0"/>
<line x1="229.50" y1="105.30" x2="319.40" y2="104.40" stroke="#f01414" stroke-width="1.2" stroke-opacity="1.0"/>
<circle cx="226.3" cy="106.5" r="0.9" fill="#f01414"/>
</g>
</svg></body></html>
